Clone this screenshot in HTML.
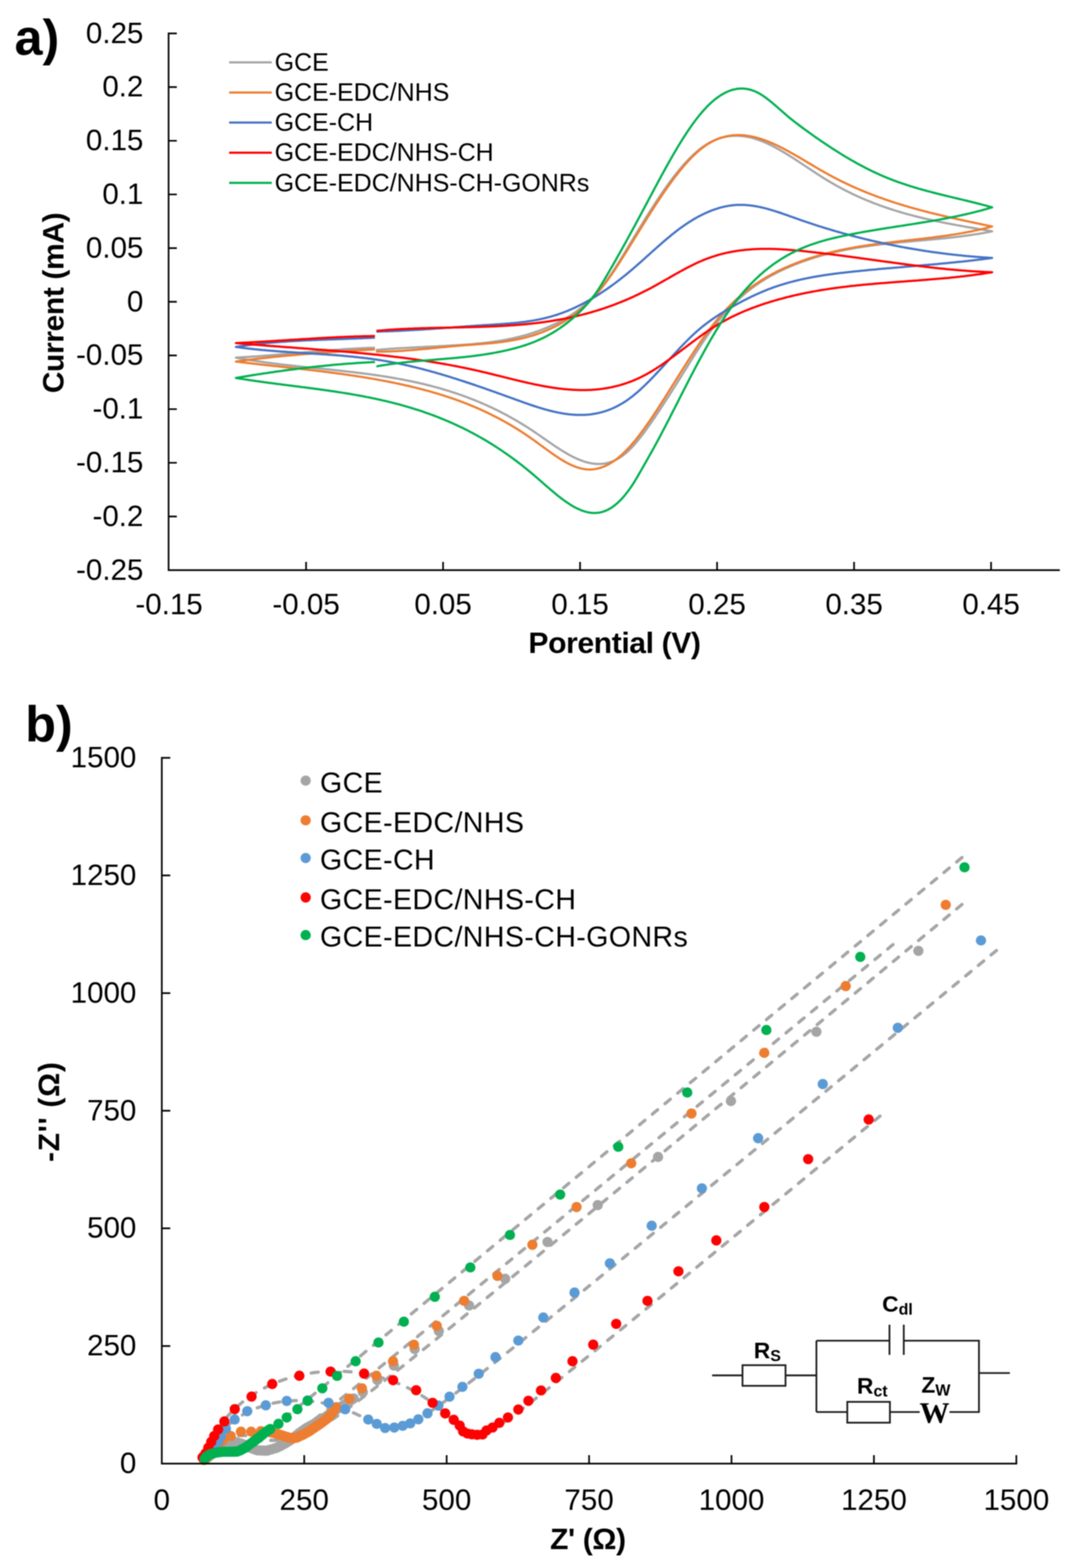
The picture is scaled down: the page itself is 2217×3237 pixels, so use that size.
<!DOCTYPE html><html><head><meta charset="utf-8"><title>Figure</title><style>html,body{margin:0;padding:0;background:#fff;}svg{display:block;filter:blur(1px);}text{font-family:'Liberation Sans', Arial, sans-serif;fill:#000;}</style></head><body>
<svg width="2217" height="3237" viewBox="0 0 2217 3237">
<rect width="2217" height="3237" fill="#fff"/>
<g fill="none" stroke-width="4.5" stroke-linejoin="round" stroke-linecap="butt">
<path stroke="#A5A5A5" d="M776.0 722.5 L779.0 722.2 782.0 722.0 785.0 721.7 788.0 721.5 791.0 721.2 794.0 721.0 797.0 720.8 800.0 720.6 803.0 720.3 806.0 720.1 809.0 719.9 812.0 719.7 815.0 719.5 818.0 719.3 821.0 719.1 824.0 719.0 827.0 718.8 830.0 718.6 833.0 718.4 836.0 718.3 839.0 718.1 842.0 717.9 845.0 717.8 848.0 717.6 851.0 717.5 854.0 717.3 857.0 717.2 860.0 717.0 863.0 716.8 866.0 716.7 869.0 716.6 872.0 716.4 875.0 716.3 878.0 716.1 881.0 716.0 884.0 715.8 887.0 715.7 890.0 715.5 893.0 715.4 896.0 715.2 899.0 715.1 902.0 714.9 905.0 714.8 908.0 714.6 911.0 714.5 914.0 714.3 917.0 714.2 920.0 714.0 923.0 713.8 926.0 713.7 929.0 713.5 932.0 713.3 935.0 713.1 938.0 713.0 941.0 712.8 944.0 712.6 947.0 712.4 950.0 712.2 953.0 712.0 956.0 711.8 959.0 711.6 962.0 711.4 965.0 711.1 968.0 710.9 971.0 710.7 974.0 710.4 977.0 710.2 980.0 709.9 983.0 709.6 986.0 709.3 989.0 709.0 992.0 708.7 995.0 708.4 998.0 708.1 1001.0 707.8 1004.0 707.4 1007.0 707.1 1010.0 706.7 1013.0 706.3 1016.0 705.9 1019.0 705.5 1022.0 705.0 1025.0 704.6 1028.0 704.1 1031.0 703.6 1034.0 703.1 1037.0 702.6 1040.0 702.1 1043.0 701.6 1046.0 701.0 1049.0 700.4 1052.0 699.8 1055.0 699.2 1058.0 698.5 1061.0 697.9 1064.0 697.2 1067.0 696.5 1070.0 695.7 1073.0 695.0 1076.0 694.2 1079.0 693.4 1082.0 692.6 1085.0 691.8 1088.0 690.9 1091.0 690.0 1094.0 689.1 1097.0 688.1 1100.0 687.2 1103.0 686.2 1106.0 685.1 1109.0 684.1 1112.0 683.0 1115.0 681.9 1118.0 680.7 1121.0 679.6 1124.0 678.4 1127.0 677.2 1130.0 675.9 1133.0 674.6 1136.0 673.3 1139.0 671.9 1142.0 670.5 1145.0 669.1 1148.0 667.7 1151.0 666.2 1154.0 664.7 1157.0 663.1 1160.0 661.5 1163.0 659.9 1166.0 658.2 1169.0 656.5 1172.0 654.7 1175.0 652.8 1178.0 651.0 1181.0 649.0 1184.0 647.0 1187.0 644.9 1190.0 642.8 1193.0 640.6 1196.0 638.3 1199.0 636.0 1202.0 633.6 1205.0 631.1 1208.0 628.5 1211.0 625.8 1214.0 623.1 1217.0 620.2 1220.0 617.3 1223.0 614.3 1226.0 611.2 1229.0 608.0 1232.0 604.6 1235.0 601.2 1238.0 597.7 1241.0 594.1 1244.0 590.3 1247.0 586.5 1250.0 582.5 1253.0 578.4 1256.0 574.2 1259.0 569.9 1262.0 565.4 1265.0 560.9 1268.0 556.4 1271.0 551.7 1274.0 547.0 1277.0 542.2 1280.0 537.4 1283.0 532.5 1286.0 527.6 1289.0 522.6 1292.0 517.6 1295.0 512.6 1298.0 507.7 1301.0 502.7 1304.0 497.7 1307.0 492.7 1310.0 487.7 1313.0 482.8 1316.0 477.8 1319.0 472.9 1322.0 468.0 1325.0 463.1 1328.0 458.2 1331.0 453.4 1334.0 448.5 1337.0 443.8 1340.0 439.0 1343.0 434.3 1346.0 429.6 1349.0 424.9 1352.0 420.3 1355.0 415.7 1358.0 411.2 1361.0 406.7 1364.0 402.3 1367.0 397.9 1370.0 393.5 1373.0 389.2 1376.0 385.0 1379.0 380.8 1382.0 376.7 1385.0 372.7 1388.0 368.7 1391.0 364.7 1394.0 360.9 1397.0 357.1 1400.0 353.4 1403.0 349.7 1406.0 346.1 1409.0 342.7 1412.0 339.2 1415.0 335.9 1418.0 332.7 1421.0 329.5 1424.0 326.4 1427.0 323.5 1430.0 320.6 1433.0 317.8 1436.0 315.1 1439.0 312.5 1442.0 310.0 1445.0 307.6 1448.0 305.3 1451.0 303.1 1454.0 301.1 1457.0 299.1 1460.0 297.2 1463.0 295.5 1466.0 293.8 1469.0 292.3 1472.0 290.8 1475.0 289.5 1478.0 288.2 1481.0 287.1 1484.0 286.0 1487.0 285.0 1490.0 284.2 1493.0 283.4 1496.0 282.7 1499.0 282.1 1502.0 281.6 1505.0 281.2 1508.0 280.8 1511.0 280.5 1514.0 280.4 1517.0 280.3 1520.0 280.3 1523.0 280.3 1526.0 280.5 1529.0 280.7 1532.0 280.9 1535.0 281.3 1538.0 281.7 1541.0 282.2 1544.0 282.8 1547.0 283.4 1550.0 284.1 1553.0 284.9 1556.0 285.7 1559.0 286.6 1562.0 287.6 1565.0 288.6 1568.0 289.7 1571.0 290.8 1574.0 292.0 1577.0 293.2 1580.0 294.5 1583.0 295.8 1586.0 297.2 1589.0 298.6 1592.0 300.1 1595.0 301.6 1598.0 303.2 1601.0 304.7 1604.0 306.4 1607.0 308.0 1610.0 309.7 1613.0 311.5 1616.0 313.2 1619.0 315.0 1622.0 316.8 1625.0 318.6 1628.0 320.5 1631.0 322.4 1634.0 324.3 1637.0 326.2 1640.0 328.1 1643.0 330.1 1646.0 332.0 1649.0 334.0 1652.0 336.0 1655.0 338.0 1658.0 340.0 1661.0 342.0 1664.0 344.0 1667.0 346.0 1670.0 347.9 1673.0 349.9 1676.0 351.9 1679.0 353.9 1682.0 355.9 1685.0 357.9 1688.0 359.8 1691.0 361.7 1694.0 363.7 1697.0 365.6 1700.0 367.5 1703.0 369.3 1706.0 371.2 1709.0 373.0 1712.0 374.8 1715.0 376.6 1718.0 378.3 1721.0 380.0 1724.0 381.7 1727.0 383.4 1730.0 385.1 1733.0 386.7 1736.0 388.3 1739.0 389.9 1742.0 391.5 1745.0 393.0 1748.0 394.6 1751.0 396.1 1754.0 397.5 1757.0 399.0 1760.0 400.4 1763.0 401.9 1766.0 403.3 1769.0 404.7 1772.0 406.0 1775.0 407.4 1778.0 408.7 1781.0 410.0 1784.0 411.3 1787.0 412.5 1790.0 413.8 1793.0 415.0 1796.0 416.2 1799.0 417.4 1802.0 418.6 1805.0 419.8 1808.0 420.9 1811.0 422.0 1814.0 423.2 1817.0 424.3 1820.0 425.3 1823.0 426.4 1826.0 427.4 1829.0 428.5 1832.0 429.5 1835.0 430.5 1838.0 431.5 1841.0 432.5 1844.0 433.4 1847.0 434.4 1850.0 435.3 1853.0 436.2 1856.0 437.1 1859.0 438.0 1862.0 438.9 1865.0 439.8 1868.0 440.6 1871.0 441.5 1874.0 442.3 1877.0 443.1 1880.0 443.9 1883.0 444.7 1886.0 445.5 1889.0 446.3 1892.0 447.0 1895.0 447.8 1898.0 448.5 1901.0 449.2 1904.0 450.0 1907.0 450.7 1910.0 451.4 1913.0 452.1 1916.0 452.8 1919.0 453.4 1922.0 454.1 1925.0 454.8 1928.0 455.4 1931.0 456.1 1934.0 456.7 1937.0 457.3 1940.0 457.9 1943.0 458.6 1946.0 459.2 1949.0 459.8 1952.0 460.4 1955.0 461.0 1958.0 461.5 1961.0 462.1 1964.0 462.7 1967.0 463.3 1970.0 463.8 1973.0 464.4 1976.0 464.9 1979.0 465.5 1982.0 466.0 1985.0 466.6 1988.0 467.1 1991.0 467.6 1994.0 468.2 1997.0 468.7 2000.0 469.2 2003.0 469.8 2006.0 470.3 2009.0 470.8 2012.0 471.3 2015.0 471.8 2018.0 472.4 2021.0 472.9 2024.0 473.4 2027.0 473.9 2030.0 474.4 2033.0 474.9 2036.0 475.4 2039.0 476.0 2042.0 476.5 2045.0 477.0 2048.0 477.5 2047.0 477.8 2044.0 478.4 2041.0 479.0 2038.0 479.5 2035.0 480.1 2032.0 480.6 2029.0 481.2 2026.0 481.7 2023.0 482.2 2020.0 482.7 2017.0 483.2 2014.0 483.6 2011.0 484.1 2008.0 484.6 2005.0 485.0 2002.0 485.4 1999.0 485.9 1996.0 486.3 1993.0 486.7 1990.0 487.1 1987.0 487.5 1984.0 487.9 1981.0 488.3 1978.0 488.6 1975.0 489.0 1972.0 489.3 1969.0 489.7 1966.0 490.0 1963.0 490.4 1960.0 490.7 1957.0 491.0 1954.0 491.3 1951.0 491.7 1948.0 492.0 1945.0 492.3 1942.0 492.6 1939.0 492.9 1936.0 493.2 1933.0 493.5 1930.0 493.7 1927.0 494.0 1924.0 494.3 1921.0 494.6 1918.0 494.9 1915.0 495.1 1912.0 495.4 1909.0 495.7 1906.0 496.0 1903.0 496.2 1900.0 496.5 1897.0 496.8 1894.0 497.0 1891.0 497.3 1888.0 497.6 1885.0 497.8 1882.0 498.1 1879.0 498.4 1876.0 498.7 1873.0 498.9 1870.0 499.2 1867.0 499.5 1864.0 499.8 1861.0 500.1 1858.0 500.3 1855.0 500.6 1852.0 500.9 1849.0 501.2 1846.0 501.5 1843.0 501.8 1840.0 502.1 1837.0 502.5 1834.0 502.8 1831.0 503.1 1828.0 503.4 1825.0 503.8 1822.0 504.1 1819.0 504.5 1816.0 504.8 1813.0 505.2 1810.0 505.6 1807.0 505.9 1804.0 506.3 1801.0 506.7 1798.0 507.1 1795.0 507.5 1792.0 507.9 1789.0 508.4 1786.0 508.8 1783.0 509.3 1780.0 509.7 1777.0 510.2 1774.0 510.7 1771.0 511.1 1768.0 511.6 1765.0 512.1 1762.0 512.7 1759.0 513.2 1756.0 513.7 1753.0 514.3 1750.0 514.9 1747.0 515.4 1744.0 516.0 1741.0 516.6 1738.0 517.3 1735.0 517.9 1732.0 518.5 1729.0 519.2 1726.0 519.9 1723.0 520.6 1720.0 521.3 1717.0 522.0 1714.0 522.7 1711.0 523.5 1708.0 524.3 1705.0 525.0 1702.0 525.8 1699.0 526.7 1696.0 527.5 1693.0 528.3 1690.0 529.2 1687.0 530.1 1684.0 531.0 1681.0 531.9 1678.0 532.9 1675.0 533.8 1672.0 534.8 1669.0 535.8 1666.0 536.8 1663.0 537.9 1660.0 538.9 1657.0 540.0 1654.0 541.1 1651.0 542.2 1648.0 543.4 1645.0 544.5 1642.0 545.7 1639.0 546.9 1636.0 548.1 1633.0 549.4 1630.0 550.7 1627.0 552.0 1624.0 553.3 1621.0 554.6 1618.0 556.0 1615.0 557.4 1612.0 558.8 1609.0 560.3 1606.0 561.8 1603.0 563.3 1600.0 564.8 1597.0 566.4 1594.0 568.0 1591.0 569.6 1588.0 571.3 1585.0 573.1 1582.0 574.8 1579.0 576.6 1576.0 578.5 1573.0 580.3 1570.0 582.3 1567.0 584.2 1564.0 586.3 1561.0 588.3 1558.0 590.4 1555.0 592.6 1552.0 594.8 1549.0 597.1 1546.0 599.4 1543.0 601.8 1540.0 604.2 1537.0 606.7 1534.0 609.2 1531.0 611.8 1528.0 614.5 1525.0 617.2 1522.0 620.0 1519.0 622.8 1516.0 625.7 1513.0 628.7 1510.0 631.7 1507.0 634.8 1504.0 638.0 1501.0 641.2 1498.0 644.5 1495.0 647.9 1492.0 651.4 1489.0 654.9 1486.0 658.5 1483.0 662.2 1480.0 666.0 1477.0 669.8 1474.0 673.7 1471.0 677.7 1468.0 681.8 1465.0 686.0 1462.0 690.2 1459.0 694.5 1456.0 698.9 1453.0 703.3 1450.0 707.8 1447.0 712.3 1444.0 716.9 1441.0 721.5 1438.0 726.1 1435.0 730.8 1432.0 735.6 1429.0 740.3 1426.0 745.1 1423.0 749.9 1420.0 754.7 1417.0 759.5 1414.0 764.3 1411.0 769.1 1408.0 773.9 1405.0 778.7 1402.0 783.5 1399.0 788.3 1396.0 793.1 1393.0 797.8 1390.0 802.6 1387.0 807.3 1384.0 812.0 1381.0 816.7 1378.0 821.3 1375.0 826.0 1372.0 830.6 1369.0 835.2 1366.0 839.8 1363.0 844.4 1360.0 848.9 1357.0 853.4 1354.0 857.9 1351.0 862.4 1348.0 866.8 1345.0 871.2 1342.0 875.5 1339.0 879.8 1336.0 884.0 1333.0 888.2 1330.0 892.3 1327.0 896.3 1324.0 900.2 1321.0 904.1 1318.0 907.8 1315.0 911.5 1312.0 915.0 1309.0 918.4 1306.0 921.7 1303.0 924.9 1300.0 927.9 1297.0 930.8 1294.0 933.6 1291.0 936.2 1288.0 938.6 1285.0 940.9 1282.0 943.0 1279.0 945.0 1276.0 946.8 1273.0 948.5 1270.0 950.0 1267.0 951.4 1264.0 952.6 1261.0 953.7 1258.0 954.7 1255.0 955.5 1252.0 956.2 1249.0 956.8 1246.0 957.2 1243.0 957.5 1240.0 957.7 1237.0 957.8 1234.0 957.8 1231.0 957.7 1228.0 957.4 1225.0 957.1 1222.0 956.7 1219.0 956.1 1216.0 955.5 1213.0 954.8 1210.0 954.0 1207.0 953.1 1204.0 952.1 1201.0 951.0 1198.0 949.9 1195.0 948.7 1192.0 947.4 1189.0 946.1 1186.0 944.7 1183.0 943.2 1180.0 941.7 1177.0 940.1 1174.0 938.5 1171.0 936.8 1168.0 935.0 1165.0 933.2 1162.0 931.4 1159.0 929.6 1156.0 927.7 1153.0 925.7 1150.0 923.8 1147.0 921.8 1144.0 919.8 1141.0 917.8 1138.0 915.7 1135.0 913.7 1132.0 911.6 1129.0 909.5 1126.0 907.4 1123.0 905.3 1120.0 903.3 1117.0 901.2 1114.0 899.1 1111.0 897.0 1108.0 895.0 1105.0 892.9 1102.0 890.9 1099.0 888.9 1096.0 886.9 1093.0 885.0 1090.0 883.0 1087.0 881.1 1084.0 879.2 1081.0 877.4 1078.0 875.5 1075.0 873.7 1072.0 871.9 1069.0 870.1 1066.0 868.3 1063.0 866.6 1060.0 864.9 1057.0 863.2 1054.0 861.5 1051.0 859.9 1048.0 858.2 1045.0 856.6 1042.0 855.0 1039.0 853.4 1036.0 851.9 1033.0 850.3 1030.0 848.8 1027.0 847.3 1024.0 845.8 1021.0 844.4 1018.0 842.9 1015.0 841.5 1012.0 840.1 1009.0 838.7 1006.0 837.4 1003.0 836.0 1000.0 834.7 997.0 833.4 994.0 832.1 991.0 830.8 988.0 829.5 985.0 828.3 982.0 827.0 979.0 825.8 976.0 824.6 973.0 823.5 970.0 822.3 967.0 821.1 964.0 820.0 961.0 818.9 958.0 817.8 955.0 816.7 952.0 815.7 949.0 814.6 946.0 813.6 943.0 812.5 940.0 811.5 937.0 810.5 934.0 809.6 931.0 808.6 928.0 807.6 925.0 806.7 922.0 805.8 919.0 804.9 916.0 804.0 913.0 803.1 910.0 802.2 907.0 801.4 904.0 800.5 901.0 799.7 898.0 798.9 895.0 798.1 892.0 797.3 889.0 796.5 886.0 795.7 883.0 795.0 880.0 794.2 877.0 793.5 874.0 792.8 871.0 792.1 868.0 791.4 865.0 790.7 862.0 790.0 859.0 789.3 856.0 788.7 853.0 788.0 850.0 787.4 847.0 786.8 844.0 786.2 841.0 785.5 838.0 785.0 835.0 784.4 832.0 783.8 829.0 783.2 826.0 782.7 823.0 782.1 820.0 781.6 817.0 781.0 814.0 780.5 811.0 780.0 808.0 779.5 805.0 779.0 802.0 778.5 799.0 778.0 796.0 777.5 793.0 777.0 790.0 776.6 787.0 776.1 784.0 775.6 781.0 775.2 778.0 774.8 775.0 774.3 772.0 773.9 769.0 773.5 766.0 773.1 763.0 772.6 760.0 772.2 757.0 771.8 754.0 771.5 751.0 771.1 748.0 770.7 745.0 770.3 742.0 769.9 739.0 769.6 736.0 769.2 733.0 768.8 730.0 768.5 727.0 768.1 724.0 767.8 721.0 767.4 718.0 767.1 715.0 766.7 712.0 766.4 709.0 766.1 706.0 765.7 703.0 765.4 700.0 765.1 697.0 764.7 694.0 764.4 691.0 764.1 688.0 763.8 685.0 763.5 682.0 763.1 679.0 762.8 676.0 762.5 673.0 762.2 670.0 761.9 667.0 761.6 664.0 761.3 661.0 761.0 658.0 760.7 655.0 760.3 652.0 760.0 649.0 759.7 646.0 759.4 643.0 759.1 640.0 758.8 637.0 758.5 634.0 758.2 631.0 757.9 628.0 757.5 625.0 757.2 622.0 756.9 619.0 756.6 616.0 756.3 613.0 755.9 610.0 755.6 607.0 755.3 604.0 755.0 601.0 754.6 598.0 754.3 595.0 753.9 592.0 753.6 589.0 753.2 586.0 752.9 583.0 752.5 580.0 752.2 577.0 751.8 574.0 751.5 571.0 751.1 568.0 750.7 565.0 750.3 562.0 750.0 559.0 749.6 556.0 749.2 553.0 748.8 550.0 748.4 547.0 748.0 544.0 747.5 541.0 747.1 538.0 746.7 535.0 746.3 532.0 745.8 529.0 745.4 526.0 744.9 523.0 744.5 520.0 744.0 517.0 743.5 514.0 743.1 511.0 742.6 508.0 742.1 505.0 741.6 502.0 741.1 499.0 740.6 496.0 740.0 493.0 739.5 490.0 738.9 487.0 738.4 490.0 738.1 493.0 738.0 496.0 737.8 499.0 737.6 502.0 737.5 505.0 737.3 508.0 737.1 511.0 736.9 514.0 736.7 517.0 736.5 520.0 736.3 523.0 736.1 526.0 735.9 529.0 735.7 532.0 735.5 535.0 735.2 538.0 735.0 541.0 734.8 544.0 734.6 547.0 734.3 550.0 734.1 553.0 733.9 556.0 733.6 559.0 733.4 562.0 733.1 565.0 732.9 568.0 732.6 571.0 732.4 574.0 732.1 577.0 731.9 580.0 731.6 583.0 731.4 586.0 731.1 589.0 730.9 592.0 730.6 595.0 730.3 598.0 730.1 601.0 729.8 604.0 729.6 607.0 729.3 610.0 729.0 613.0 728.8 616.0 728.5 619.0 728.2 622.0 728.0 625.0 727.7 628.0 727.5 631.0 727.2 634.0 726.9 637.0 726.7 640.0 726.4 643.0 726.2 646.0 725.9 649.0 725.7 652.0 725.4 655.0 725.2 658.0 724.9 661.0 724.7 664.0 724.4 667.0 724.2 670.0 723.9 673.0 723.7 676.0 723.4 679.0 723.2 682.0 723.0 685.0 722.8 688.0 722.5 691.0 722.3 694.0 722.1 697.0 721.9 700.0 721.7 703.0 721.4 706.0 721.2 709.0 721.0 712.0 720.8 715.0 720.6 718.0 720.5 721.0 720.3 724.0 720.1 727.0 719.9 730.0 719.7 733.0 719.6 736.0 719.4 739.0 719.2 742.0 719.1 745.0 718.9 748.0 718.8 751.0 718.7 754.0 718.5 757.0 718.4 760.0 718.3 763.0 718.2 766.0 718.1 769.0 718.0 772.0 717.9 774.0 717.8"/>
<path stroke="#ED7D31" d="M776.0 726.0 L779.0 726.0 782.0 726.0 785.0 726.0 788.0 725.9 791.0 725.9 794.0 725.8 797.0 725.7 800.0 725.6 803.0 725.5 806.0 725.4 809.0 725.3 812.0 725.2 815.0 725.0 818.0 724.9 821.0 724.7 824.0 724.5 827.0 724.4 830.0 724.2 833.0 724.0 836.0 723.8 839.0 723.5 842.0 723.3 845.0 723.1 848.0 722.9 851.0 722.6 854.0 722.4 857.0 722.1 860.0 721.9 863.0 721.6 866.0 721.3 869.0 721.1 872.0 720.8 875.0 720.5 878.0 720.2 881.0 719.9 884.0 719.7 887.0 719.4 890.0 719.1 893.0 718.8 896.0 718.5 899.0 718.2 902.0 717.9 905.0 717.6 908.0 717.3 911.0 717.0 914.0 716.7 917.0 716.5 920.0 716.2 923.0 715.9 926.0 715.6 929.0 715.3 932.0 715.1 935.0 714.8 938.0 714.5 941.0 714.3 944.0 714.0 947.0 713.7 950.0 713.5 953.0 713.3 956.0 713.0 959.0 712.8 962.0 712.6 965.0 712.3 968.0 712.1 971.0 711.9 974.0 711.7 977.0 711.4 980.0 711.2 983.0 711.0 986.0 710.8 989.0 710.5 992.0 710.3 995.0 710.1 998.0 709.8 1001.0 709.6 1004.0 709.3 1007.0 709.0 1010.0 708.8 1013.0 708.5 1016.0 708.2 1019.0 707.9 1022.0 707.6 1025.0 707.2 1028.0 706.9 1031.0 706.5 1034.0 706.2 1037.0 705.8 1040.0 705.4 1043.0 704.9 1046.0 704.5 1049.0 704.0 1052.0 703.5 1055.0 703.0 1058.0 702.5 1061.0 702.0 1064.0 701.4 1067.0 700.8 1070.0 700.2 1073.0 699.5 1076.0 698.9 1079.0 698.2 1082.0 697.4 1085.0 696.7 1088.0 695.9 1091.0 695.1 1094.0 694.2 1097.0 693.4 1100.0 692.5 1103.0 691.5 1106.0 690.5 1109.0 689.5 1112.0 688.5 1115.0 687.4 1118.0 686.3 1121.0 685.1 1124.0 683.9 1127.0 682.7 1130.0 681.4 1133.0 680.1 1136.0 678.7 1139.0 677.3 1142.0 675.9 1145.0 674.4 1148.0 672.9 1151.0 671.3 1154.0 669.7 1157.0 668.0 1160.0 666.3 1163.0 664.5 1166.0 662.7 1169.0 660.8 1172.0 658.8 1175.0 656.8 1178.0 654.8 1181.0 652.7 1184.0 650.5 1187.0 648.2 1190.0 645.9 1193.0 643.6 1196.0 641.1 1199.0 638.6 1202.0 636.0 1205.0 633.4 1208.0 630.7 1211.0 627.9 1214.0 625.0 1217.0 622.0 1220.0 619.0 1223.0 615.8 1226.0 612.6 1229.0 609.3 1232.0 606.0 1235.0 602.5 1238.0 599.0 1241.0 595.3 1244.0 591.6 1247.0 587.7 1250.0 583.8 1253.0 579.8 1256.0 575.7 1259.0 571.5 1262.0 567.2 1265.0 562.8 1268.0 558.4 1271.0 553.9 1274.0 549.3 1277.0 544.7 1280.0 540.0 1283.0 535.3 1286.0 530.6 1289.0 525.8 1292.0 521.0 1295.0 516.2 1298.0 511.4 1301.0 506.5 1304.0 501.6 1307.0 496.8 1310.0 491.9 1313.0 487.0 1316.0 482.2 1319.0 477.3 1322.0 472.5 1325.0 467.6 1328.0 462.8 1331.0 458.0 1334.0 453.2 1337.0 448.4 1340.0 443.7 1343.0 438.9 1346.0 434.2 1349.0 429.6 1352.0 424.9 1355.0 420.3 1358.0 415.7 1361.0 411.2 1364.0 406.7 1367.0 402.3 1370.0 397.8 1373.0 393.5 1376.0 389.2 1379.0 384.9 1382.0 380.7 1385.0 376.6 1388.0 372.5 1391.0 368.4 1394.0 364.5 1397.0 360.6 1400.0 356.8 1403.0 353.0 1406.0 349.3 1409.0 345.7 1412.0 342.2 1415.0 338.7 1418.0 335.4 1421.0 332.1 1424.0 328.9 1427.0 325.8 1430.0 322.7 1433.0 319.8 1436.0 317.0 1439.0 314.3 1442.0 311.7 1445.0 309.1 1448.0 306.7 1451.0 304.4 1454.0 302.2 1457.0 300.1 1460.0 298.1 1463.0 296.3 1466.0 294.5 1469.0 292.8 1472.0 291.3 1475.0 289.8 1478.0 288.4 1481.0 287.2 1484.0 286.0 1487.0 284.9 1490.0 284.0 1493.0 283.1 1496.0 282.3 1499.0 281.5 1502.0 280.9 1505.0 280.4 1508.0 279.9 1511.0 279.5 1514.0 279.2 1517.0 279.0 1520.0 278.9 1523.0 278.8 1526.0 278.8 1529.0 278.9 1532.0 279.1 1535.0 279.3 1538.0 279.6 1541.0 280.0 1544.0 280.4 1547.0 280.9 1550.0 281.4 1553.0 282.0 1556.0 282.7 1559.0 283.4 1562.0 284.2 1565.0 285.1 1568.0 286.0 1571.0 286.9 1574.0 287.9 1577.0 288.9 1580.0 290.0 1583.0 291.2 1586.0 292.3 1589.0 293.6 1592.0 294.8 1595.0 296.1 1598.0 297.5 1601.0 298.9 1604.0 300.3 1607.0 301.7 1610.0 303.2 1613.0 304.7 1616.0 306.2 1619.0 307.8 1622.0 309.4 1625.0 311.0 1628.0 312.6 1631.0 314.3 1634.0 315.9 1637.0 317.6 1640.0 319.3 1643.0 321.1 1646.0 322.8 1649.0 324.5 1652.0 326.3 1655.0 328.1 1658.0 329.8 1661.0 331.6 1664.0 333.4 1667.0 335.2 1670.0 337.0 1673.0 338.8 1676.0 340.5 1679.0 342.3 1682.0 344.1 1685.0 345.9 1688.0 347.6 1691.0 349.4 1694.0 351.1 1697.0 352.8 1700.0 354.5 1703.0 356.2 1706.0 357.9 1709.0 359.6 1712.0 361.2 1715.0 362.8 1718.0 364.5 1721.0 366.0 1724.0 367.6 1727.0 369.2 1730.0 370.7 1733.0 372.2 1736.0 373.7 1739.0 375.2 1742.0 376.6 1745.0 378.1 1748.0 379.5 1751.0 380.9 1754.0 382.3 1757.0 383.7 1760.0 385.1 1763.0 386.4 1766.0 387.7 1769.0 389.0 1772.0 390.3 1775.0 391.6 1778.0 392.9 1781.0 394.2 1784.0 395.4 1787.0 396.6 1790.0 397.8 1793.0 399.0 1796.0 400.2 1799.0 401.4 1802.0 402.5 1805.0 403.7 1808.0 404.8 1811.0 405.9 1814.0 407.0 1817.0 408.1 1820.0 409.2 1823.0 410.2 1826.0 411.3 1829.0 412.3 1832.0 413.4 1835.0 414.4 1838.0 415.4 1841.0 416.4 1844.0 417.4 1847.0 418.3 1850.0 419.3 1853.0 420.2 1856.0 421.2 1859.0 422.1 1862.0 423.0 1865.0 423.9 1868.0 424.8 1871.0 425.7 1874.0 426.6 1877.0 427.5 1880.0 428.3 1883.0 429.2 1886.0 430.0 1889.0 430.9 1892.0 431.7 1895.0 432.5 1898.0 433.3 1901.0 434.1 1904.0 434.9 1907.0 435.7 1910.0 436.5 1913.0 437.3 1916.0 438.0 1919.0 438.8 1922.0 439.6 1925.0 440.3 1928.0 441.0 1931.0 441.8 1934.0 442.5 1937.0 443.2 1940.0 443.9 1943.0 444.7 1946.0 445.4 1949.0 446.1 1952.0 446.8 1955.0 447.5 1958.0 448.1 1961.0 448.8 1964.0 449.5 1967.0 450.2 1970.0 450.9 1973.0 451.5 1976.0 452.2 1979.0 452.9 1982.0 453.5 1985.0 454.2 1988.0 454.8 1991.0 455.5 1994.0 456.1 1997.0 456.8 2000.0 457.4 2003.0 458.1 2006.0 458.7 2009.0 459.3 2012.0 460.0 2015.0 460.6 2018.0 461.2 2021.0 461.9 2024.0 462.5 2027.0 463.2 2030.0 463.8 2033.0 464.4 2036.0 465.1 2039.0 465.7 2042.0 466.3 2045.0 467.0 2048.0 467.6 2047.0 467.9 2044.0 468.7 2041.0 469.4 2038.0 470.2 2035.0 470.9 2032.0 471.7 2029.0 472.4 2026.0 473.1 2023.0 473.8 2020.0 474.5 2017.0 475.1 2014.0 475.8 2011.0 476.4 2008.0 477.0 2005.0 477.7 2002.0 478.2 1999.0 478.8 1996.0 479.4 1993.0 480.0 1990.0 480.5 1987.0 481.1 1984.0 481.6 1981.0 482.1 1978.0 482.6 1975.0 483.1 1972.0 483.6 1969.0 484.1 1966.0 484.6 1963.0 485.0 1960.0 485.5 1957.0 485.9 1954.0 486.4 1951.0 486.8 1948.0 487.2 1945.0 487.6 1942.0 488.0 1939.0 488.4 1936.0 488.8 1933.0 489.2 1930.0 489.6 1927.0 490.0 1924.0 490.4 1921.0 490.7 1918.0 491.1 1915.0 491.5 1912.0 491.8 1909.0 492.2 1906.0 492.5 1903.0 492.9 1900.0 493.2 1897.0 493.6 1894.0 493.9 1891.0 494.3 1888.0 494.6 1885.0 494.9 1882.0 495.3 1879.0 495.6 1876.0 495.9 1873.0 496.3 1870.0 496.6 1867.0 496.9 1864.0 497.3 1861.0 497.6 1858.0 497.9 1855.0 498.3 1852.0 498.6 1849.0 499.0 1846.0 499.3 1843.0 499.7 1840.0 500.0 1837.0 500.4 1834.0 500.7 1831.0 501.1 1828.0 501.4 1825.0 501.8 1822.0 502.2 1819.0 502.6 1816.0 502.9 1813.0 503.3 1810.0 503.7 1807.0 504.1 1804.0 504.5 1801.0 505.0 1798.0 505.4 1795.0 505.8 1792.0 506.2 1789.0 506.7 1786.0 507.1 1783.0 507.6 1780.0 508.1 1777.0 508.5 1774.0 509.0 1771.0 509.5 1768.0 510.0 1765.0 510.5 1762.0 511.1 1759.0 511.6 1756.0 512.2 1753.0 512.7 1750.0 513.3 1747.0 513.9 1744.0 514.5 1741.0 515.1 1738.0 515.7 1735.0 516.3 1732.0 517.0 1729.0 517.6 1726.0 518.3 1723.0 519.0 1720.0 519.7 1717.0 520.4 1714.0 521.1 1711.0 521.9 1708.0 522.6 1705.0 523.4 1702.0 524.2 1699.0 525.0 1696.0 525.8 1693.0 526.7 1690.0 527.5 1687.0 528.4 1684.0 529.3 1681.0 530.2 1678.0 531.1 1675.0 532.1 1672.0 533.0 1669.0 534.0 1666.0 535.0 1663.0 536.0 1660.0 537.1 1657.0 538.2 1654.0 539.2 1651.0 540.3 1648.0 541.5 1645.0 542.6 1642.0 543.8 1639.0 545.0 1636.0 546.2 1633.0 547.4 1630.0 548.7 1627.0 550.0 1624.0 551.3 1621.0 552.6 1618.0 554.0 1615.0 555.3 1612.0 556.7 1609.0 558.2 1606.0 559.6 1603.0 561.1 1600.0 562.7 1597.0 564.2 1594.0 565.8 1591.0 567.4 1588.0 569.1 1585.0 570.8 1582.0 572.5 1579.0 574.3 1576.0 576.1 1573.0 578.0 1570.0 579.8 1567.0 581.8 1564.0 583.8 1561.0 585.8 1558.0 587.8 1555.0 590.0 1552.0 592.1 1549.0 594.3 1546.0 596.6 1543.0 598.9 1540.0 601.2 1537.0 603.6 1534.0 606.1 1531.0 608.6 1528.0 611.2 1525.0 613.8 1522.0 616.5 1519.0 619.2 1516.0 622.0 1513.0 624.9 1510.0 627.8 1507.0 630.8 1504.0 633.8 1501.0 636.9 1498.0 640.1 1495.0 643.3 1492.0 646.6 1489.0 650.0 1486.0 653.5 1483.0 657.0 1480.0 660.6 1477.0 664.2 1474.0 667.9 1471.0 671.7 1468.0 675.6 1465.0 679.6 1462.0 683.6 1459.0 687.7 1456.0 691.8 1453.0 696.0 1450.0 700.2 1447.0 704.6 1444.0 708.9 1441.0 713.3 1438.0 717.8 1435.0 722.3 1432.0 726.8 1429.0 731.4 1426.0 736.0 1423.0 740.6 1420.0 745.3 1417.0 750.0 1414.0 754.7 1411.0 759.4 1408.0 764.2 1405.0 769.0 1402.0 773.7 1399.0 778.5 1396.0 783.3 1393.0 788.1 1390.0 792.9 1387.0 797.7 1384.0 802.5 1381.0 807.3 1378.0 812.1 1375.0 816.8 1372.0 821.6 1369.0 826.3 1366.0 831.0 1363.0 835.6 1360.0 840.3 1357.0 844.9 1354.0 849.5 1351.0 854.0 1348.0 858.5 1345.0 863.0 1342.0 867.4 1339.0 871.8 1336.0 876.1 1333.0 880.3 1330.0 884.5 1327.0 888.6 1324.0 892.7 1321.0 896.7 1318.0 900.6 1315.0 904.4 1312.0 908.1 1309.0 911.8 1306.0 915.3 1303.0 918.8 1300.0 922.2 1297.0 925.4 1294.0 928.6 1291.0 931.6 1288.0 934.6 1285.0 937.4 1282.0 940.1 1279.0 942.7 1276.0 945.2 1273.0 947.5 1270.0 949.8 1267.0 951.9 1264.0 953.9 1261.0 955.8 1258.0 957.5 1255.0 959.2 1252.0 960.7 1249.0 962.1 1246.0 963.4 1243.0 964.5 1240.0 965.5 1237.0 966.5 1234.0 967.2 1231.0 967.9 1228.0 968.4 1225.0 968.8 1222.0 969.1 1219.0 969.2 1216.0 969.2 1213.0 969.1 1210.0 968.9 1207.0 968.5 1204.0 968.0 1201.0 967.4 1198.0 966.7 1195.0 965.9 1192.0 965.0 1189.0 963.9 1186.0 962.8 1183.0 961.6 1180.0 960.3 1177.0 958.9 1174.0 957.4 1171.0 955.9 1168.0 954.2 1165.0 952.5 1162.0 950.8 1159.0 949.0 1156.0 947.1 1153.0 945.2 1150.0 943.2 1147.0 941.2 1144.0 939.2 1141.0 937.1 1138.0 935.0 1135.0 932.8 1132.0 930.7 1129.0 928.5 1126.0 926.3 1123.0 924.1 1120.0 921.9 1117.0 919.7 1114.0 917.5 1111.0 915.3 1108.0 913.1 1105.0 910.9 1102.0 908.7 1099.0 906.6 1096.0 904.5 1093.0 902.4 1090.0 900.4 1087.0 898.3 1084.0 896.3 1081.0 894.3 1078.0 892.4 1075.0 890.4 1072.0 888.5 1069.0 886.6 1066.0 884.7 1063.0 882.9 1060.0 881.1 1057.0 879.3 1054.0 877.5 1051.0 875.7 1048.0 874.0 1045.0 872.3 1042.0 870.6 1039.0 868.9 1036.0 867.3 1033.0 865.7 1030.0 864.1 1027.0 862.5 1024.0 860.9 1021.0 859.4 1018.0 857.9 1015.0 856.4 1012.0 854.9 1009.0 853.4 1006.0 852.0 1003.0 850.5 1000.0 849.1 997.0 847.8 994.0 846.4 991.0 845.0 988.0 843.7 985.0 842.4 982.0 841.1 979.0 839.8 976.0 838.6 973.0 837.3 970.0 836.1 967.0 834.9 964.0 833.7 961.0 832.5 958.0 831.3 955.0 830.2 952.0 829.1 949.0 827.9 946.0 826.8 943.0 825.8 940.0 824.7 937.0 823.6 934.0 822.6 931.0 821.6 928.0 820.6 925.0 819.6 922.0 818.6 919.0 817.6 916.0 816.6 913.0 815.7 910.0 814.8 907.0 813.8 904.0 812.9 901.0 812.0 898.0 811.2 895.0 810.3 892.0 809.4 889.0 808.6 886.0 807.7 883.0 806.9 880.0 806.1 877.0 805.3 874.0 804.5 871.0 803.7 868.0 802.9 865.0 802.2 862.0 801.4 859.0 800.6 856.0 799.9 853.0 799.2 850.0 798.5 847.0 797.7 844.0 797.0 841.0 796.3 838.0 795.7 835.0 795.0 832.0 794.3 829.0 793.6 826.0 793.0 823.0 792.3 820.0 791.7 817.0 791.1 814.0 790.4 811.0 789.8 808.0 789.2 805.0 788.6 802.0 788.0 799.0 787.4 796.0 786.8 793.0 786.3 790.0 785.7 787.0 785.1 784.0 784.6 781.0 784.0 778.0 783.5 775.0 782.9 772.0 782.4 769.0 781.9 766.0 781.4 763.0 780.9 760.0 780.4 757.0 779.9 754.0 779.4 751.0 778.9 748.0 778.4 745.0 777.9 742.0 777.4 739.0 777.0 736.0 776.5 733.0 776.0 730.0 775.6 727.0 775.1 724.0 774.7 721.0 774.2 718.0 773.8 715.0 773.4 712.0 772.9 709.0 772.5 706.0 772.1 703.0 771.7 700.0 771.3 697.0 770.9 694.0 770.5 691.0 770.1 688.0 769.7 685.0 769.3 682.0 768.9 679.0 768.5 676.0 768.1 673.0 767.7 670.0 767.4 667.0 767.0 664.0 766.6 661.0 766.3 658.0 765.9 655.0 765.5 652.0 765.2 649.0 764.8 646.0 764.5 643.0 764.1 640.0 763.7 637.0 763.4 634.0 763.0 631.0 762.7 628.0 762.4 625.0 762.0 622.0 761.7 619.0 761.3 616.0 761.0 613.0 760.7 610.0 760.3 607.0 760.0 604.0 759.7 601.0 759.3 598.0 759.0 595.0 758.7 592.0 758.3 589.0 758.0 586.0 757.7 583.0 757.3 580.0 757.0 577.0 756.7 574.0 756.3 571.0 756.0 568.0 755.7 565.0 755.4 562.0 755.0 559.0 754.7 556.0 754.4 553.0 754.0 550.0 753.7 547.0 753.4 544.0 753.0 541.0 752.7 538.0 752.4 535.0 752.0 532.0 751.7 529.0 751.3 526.0 751.0 523.0 750.7 520.0 750.3 517.0 750.0 514.0 749.6 511.0 749.3 508.0 748.9 505.0 748.6 502.0 748.2 499.0 747.9 496.0 747.5 493.0 747.1 490.0 746.8 487.0 746.4 490.0 746.0 493.0 745.6 496.0 745.2 499.0 744.8 502.0 744.4 505.0 744.0 508.0 743.6 511.0 743.2 514.0 742.8 517.0 742.4 520.0 742.1 523.0 741.7 526.0 741.3 529.0 741.0 532.0 740.6 535.0 740.3 538.0 739.9 541.0 739.6 544.0 739.2 547.0 738.9 550.0 738.6 553.0 738.2 556.0 737.9 559.0 737.6 562.0 737.3 565.0 737.0 568.0 736.6 571.0 736.3 574.0 736.0 577.0 735.7 580.0 735.4 583.0 735.1 586.0 734.9 589.0 734.6 592.0 734.3 595.0 734.0 598.0 733.7 601.0 733.5 604.0 733.2 607.0 732.9 610.0 732.7 613.0 732.4 616.0 732.1 619.0 731.9 622.0 731.6 625.0 731.4 628.0 731.1 631.0 730.9 634.0 730.6 637.0 730.4 640.0 730.2 643.0 729.9 646.0 729.7 649.0 729.5 652.0 729.2 655.0 729.0 658.0 728.8 661.0 728.6 664.0 728.3 667.0 728.1 670.0 727.9 673.0 727.7 676.0 727.5 679.0 727.3 682.0 727.1 685.0 726.8 688.0 726.6 691.0 726.4 694.0 726.2 697.0 726.0 700.0 725.8 703.0 725.6 706.0 725.4 709.0 725.2 712.0 725.1 715.0 724.9 718.0 724.7 721.0 724.5 724.0 724.3 727.0 724.1 730.0 723.9 733.0 723.7 736.0 723.6 739.0 723.4 742.0 723.2 745.0 723.0 748.0 722.8 751.0 722.7 754.0 722.5 757.0 722.3 760.0 722.1 763.0 721.9 766.0 721.8 769.0 721.6 772.0 721.4 774.0 721.3"/>
<path stroke="#4472C4" d="M777.0 684.5 L780.0 684.4 783.0 684.4 786.0 684.3 789.0 684.2 792.0 684.1 795.0 684.1 798.0 684.0 801.0 683.9 804.0 683.8 807.0 683.7 810.0 683.5 813.0 683.4 816.0 683.3 819.0 683.2 822.0 683.0 825.0 682.9 828.0 682.8 831.0 682.6 834.0 682.5 837.0 682.3 840.0 682.1 843.0 682.0 846.0 681.8 849.0 681.6 852.0 681.5 855.0 681.3 858.0 681.1 861.0 680.9 864.0 680.7 867.0 680.6 870.0 680.4 873.0 680.2 876.0 680.0 879.0 679.8 882.0 679.6 885.0 679.4 888.0 679.2 891.0 679.0 894.0 678.8 897.0 678.6 900.0 678.3 903.0 678.1 906.0 677.9 909.0 677.7 912.0 677.5 915.0 677.3 918.0 677.1 921.0 676.8 924.0 676.6 927.0 676.4 930.0 676.2 933.0 676.0 936.0 675.7 939.0 675.5 942.0 675.3 945.0 675.1 948.0 674.9 951.0 674.6 954.0 674.4 957.0 674.2 960.0 674.0 963.0 673.8 966.0 673.6 969.0 673.4 972.0 673.1 975.0 672.9 978.0 672.7 981.0 672.5 984.0 672.3 987.0 672.1 990.0 671.9 993.0 671.7 996.0 671.5 999.0 671.3 1002.0 671.1 1005.0 670.9 1008.0 670.7 1011.0 670.6 1014.0 670.4 1017.0 670.2 1020.0 670.0 1023.0 669.8 1026.0 669.6 1029.0 669.4 1032.0 669.2 1035.0 669.0 1038.0 668.8 1041.0 668.6 1044.0 668.3 1047.0 668.1 1050.0 667.9 1053.0 667.6 1056.0 667.3 1059.0 667.1 1062.0 666.8 1065.0 666.5 1068.0 666.2 1071.0 665.8 1074.0 665.5 1077.0 665.1 1080.0 664.8 1083.0 664.4 1086.0 664.0 1089.0 663.5 1092.0 663.1 1095.0 662.6 1098.0 662.1 1101.0 661.6 1104.0 661.1 1107.0 660.5 1110.0 660.0 1113.0 659.4 1116.0 658.7 1119.0 658.1 1122.0 657.4 1125.0 656.7 1128.0 656.0 1131.0 655.2 1134.0 654.4 1137.0 653.6 1140.0 652.7 1143.0 651.8 1146.0 650.9 1149.0 650.0 1152.0 649.0 1155.0 647.9 1158.0 646.9 1161.0 645.8 1164.0 644.7 1167.0 643.5 1170.0 642.3 1173.0 641.1 1176.0 639.8 1179.0 638.5 1182.0 637.2 1185.0 635.9 1188.0 634.5 1191.0 633.0 1194.0 631.6 1197.0 630.1 1200.0 628.6 1203.0 627.0 1206.0 625.4 1209.0 623.8 1212.0 622.1 1215.0 620.5 1218.0 618.7 1221.0 617.0 1224.0 615.2 1227.0 613.4 1230.0 611.6 1233.0 609.7 1236.0 607.8 1239.0 605.9 1242.0 603.9 1245.0 601.9 1248.0 599.9 1251.0 597.9 1254.0 595.8 1257.0 593.7 1260.0 591.6 1263.0 589.4 1266.0 587.2 1269.0 585.0 1272.0 582.7 1275.0 580.5 1278.0 578.2 1281.0 575.8 1284.0 573.5 1287.0 571.1 1290.0 568.7 1293.0 566.2 1296.0 563.7 1299.0 561.2 1302.0 558.7 1305.0 556.2 1308.0 553.6 1311.0 551.0 1314.0 548.4 1317.0 545.8 1320.0 543.1 1323.0 540.5 1326.0 537.8 1329.0 535.1 1332.0 532.4 1335.0 529.7 1338.0 527.0 1341.0 524.3 1344.0 521.6 1347.0 518.9 1350.0 516.3 1353.0 513.6 1356.0 510.9 1359.0 508.3 1362.0 505.6 1365.0 503.0 1368.0 500.4 1371.0 497.8 1374.0 495.2 1377.0 492.7 1380.0 490.2 1383.0 487.7 1386.0 485.2 1389.0 482.8 1392.0 480.4 1395.0 478.1 1398.0 475.8 1401.0 473.5 1404.0 471.3 1407.0 469.1 1410.0 467.0 1413.0 464.9 1416.0 462.8 1419.0 460.8 1422.0 458.9 1425.0 457.0 1428.0 455.1 1431.0 453.3 1434.0 451.5 1437.0 449.8 1440.0 448.1 1443.0 446.5 1446.0 444.9 1449.0 443.4 1452.0 442.0 1455.0 440.5 1458.0 439.2 1461.0 437.9 1464.0 436.6 1467.0 435.4 1470.0 434.2 1473.0 433.1 1476.0 432.1 1479.0 431.1 1482.0 430.1 1485.0 429.2 1488.0 428.4 1491.0 427.6 1494.0 426.9 1497.0 426.3 1500.0 425.6 1503.0 425.1 1506.0 424.6 1509.0 424.2 1512.0 423.8 1515.0 423.5 1518.0 423.3 1521.0 423.1 1524.0 422.9 1527.0 422.9 1530.0 422.9 1533.0 422.9 1536.0 423.0 1539.0 423.2 1542.0 423.4 1545.0 423.7 1548.0 424.0 1551.0 424.4 1554.0 424.8 1557.0 425.2 1560.0 425.8 1563.0 426.3 1566.0 426.9 1569.0 427.5 1572.0 428.2 1575.0 428.9 1578.0 429.6 1581.0 430.4 1584.0 431.2 1587.0 432.0 1590.0 432.9 1593.0 433.8 1596.0 434.7 1599.0 435.6 1602.0 436.6 1605.0 437.5 1608.0 438.5 1611.0 439.5 1614.0 440.5 1617.0 441.6 1620.0 442.6 1623.0 443.6 1626.0 444.7 1629.0 445.8 1632.0 446.8 1635.0 447.9 1638.0 449.0 1641.0 450.0 1644.0 451.1 1647.0 452.2 1650.0 453.2 1653.0 454.3 1656.0 455.3 1659.0 456.4 1662.0 457.4 1665.0 458.4 1668.0 459.4 1671.0 460.4 1674.0 461.4 1677.0 462.4 1680.0 463.4 1683.0 464.4 1686.0 465.3 1689.0 466.3 1692.0 467.3 1695.0 468.2 1698.0 469.1 1701.0 470.1 1704.0 471.0 1707.0 471.9 1710.0 472.8 1713.0 473.7 1716.0 474.6 1719.0 475.5 1722.0 476.4 1725.0 477.3 1728.0 478.2 1731.0 479.0 1734.0 479.9 1737.0 480.7 1740.0 481.6 1743.0 482.4 1746.0 483.2 1749.0 484.0 1752.0 484.8 1755.0 485.7 1758.0 486.5 1761.0 487.2 1764.0 488.0 1767.0 488.8 1770.0 489.6 1773.0 490.3 1776.0 491.1 1779.0 491.8 1782.0 492.6 1785.0 493.3 1788.0 494.1 1791.0 494.8 1794.0 495.5 1797.0 496.2 1800.0 496.9 1803.0 497.6 1806.0 498.3 1809.0 499.0 1812.0 499.6 1815.0 500.3 1818.0 501.0 1821.0 501.6 1824.0 502.3 1827.0 502.9 1830.0 503.5 1833.0 504.2 1836.0 504.8 1839.0 505.4 1842.0 506.0 1845.0 506.6 1848.0 507.2 1851.0 507.8 1854.0 508.4 1857.0 509.0 1860.0 509.5 1863.0 510.1 1866.0 510.6 1869.0 511.2 1872.0 511.7 1875.0 512.3 1878.0 512.8 1881.0 513.3 1884.0 513.8 1887.0 514.3 1890.0 514.8 1893.0 515.3 1896.0 515.8 1899.0 516.3 1902.0 516.8 1905.0 517.3 1908.0 517.7 1911.0 518.2 1914.0 518.6 1917.0 519.1 1920.0 519.5 1923.0 520.0 1926.0 520.4 1929.0 520.8 1932.0 521.2 1935.0 521.6 1938.0 522.0 1941.0 522.4 1944.0 522.8 1947.0 523.2 1950.0 523.6 1953.0 523.9 1956.0 524.3 1959.0 524.7 1962.0 525.0 1965.0 525.3 1968.0 525.7 1971.0 526.0 1974.0 526.3 1977.0 526.7 1980.0 527.0 1983.0 527.3 1986.0 527.6 1989.0 527.9 1992.0 528.2 1995.0 528.5 1998.0 528.7 2001.0 529.0 2004.0 529.3 2007.0 529.5 2010.0 529.8 2013.0 530.0 2016.0 530.3 2019.0 530.5 2022.0 530.8 2025.0 531.0 2028.0 531.2 2031.0 531.4 2034.0 531.6 2037.0 531.8 2040.0 532.0 2043.0 532.2 2046.0 532.4 2048.0 532.5 2047.0 532.6 2044.0 533.0 2041.0 533.4 2038.0 533.8 2035.0 534.2 2032.0 534.6 2029.0 535.0 2026.0 535.4 2023.0 535.7 2020.0 536.1 2017.0 536.5 2014.0 536.8 2011.0 537.2 2008.0 537.5 2005.0 537.9 2002.0 538.2 1999.0 538.5 1996.0 538.9 1993.0 539.2 1990.0 539.5 1987.0 539.9 1984.0 540.2 1981.0 540.5 1978.0 540.8 1975.0 541.1 1972.0 541.4 1969.0 541.7 1966.0 542.0 1963.0 542.3 1960.0 542.6 1957.0 542.9 1954.0 543.2 1951.0 543.5 1948.0 543.8 1945.0 544.1 1942.0 544.3 1939.0 544.6 1936.0 544.9 1933.0 545.2 1930.0 545.4 1927.0 545.7 1924.0 546.0 1921.0 546.2 1918.0 546.5 1915.0 546.8 1912.0 547.0 1909.0 547.3 1906.0 547.6 1903.0 547.8 1900.0 548.1 1897.0 548.3 1894.0 548.6 1891.0 548.9 1888.0 549.1 1885.0 549.4 1882.0 549.6 1879.0 549.9 1876.0 550.1 1873.0 550.4 1870.0 550.6 1867.0 550.9 1864.0 551.2 1861.0 551.4 1858.0 551.7 1855.0 551.9 1852.0 552.2 1849.0 552.4 1846.0 552.7 1843.0 553.0 1840.0 553.2 1837.0 553.5 1834.0 553.7 1831.0 554.0 1828.0 554.3 1825.0 554.5 1822.0 554.8 1819.0 555.1 1816.0 555.3 1813.0 555.6 1810.0 555.9 1807.0 556.2 1804.0 556.4 1801.0 556.7 1798.0 557.0 1795.0 557.3 1792.0 557.6 1789.0 557.9 1786.0 558.2 1783.0 558.5 1780.0 558.7 1777.0 559.0 1774.0 559.4 1771.0 559.7 1768.0 560.0 1765.0 560.3 1762.0 560.6 1759.0 560.9 1756.0 561.2 1753.0 561.6 1750.0 561.9 1747.0 562.2 1744.0 562.6 1741.0 562.9 1738.0 563.3 1735.0 563.6 1732.0 564.0 1729.0 564.3 1726.0 564.7 1723.0 565.1 1720.0 565.5 1717.0 565.9 1714.0 566.3 1711.0 566.7 1708.0 567.2 1705.0 567.6 1702.0 568.0 1699.0 568.5 1696.0 569.0 1693.0 569.5 1690.0 569.9 1687.0 570.5 1684.0 571.0 1681.0 571.5 1678.0 572.0 1675.0 572.6 1672.0 573.2 1669.0 573.8 1666.0 574.4 1663.0 575.0 1660.0 575.6 1657.0 576.3 1654.0 576.9 1651.0 577.6 1648.0 578.3 1645.0 579.0 1642.0 579.8 1639.0 580.5 1636.0 581.3 1633.0 582.1 1630.0 582.9 1627.0 583.7 1624.0 584.6 1621.0 585.5 1618.0 586.4 1615.0 587.3 1612.0 588.2 1609.0 589.2 1606.0 590.1 1603.0 591.2 1600.0 592.2 1597.0 593.2 1594.0 594.3 1591.0 595.4 1588.0 596.5 1585.0 597.7 1582.0 598.9 1579.0 600.1 1576.0 601.3 1573.0 602.6 1570.0 603.8 1567.0 605.2 1564.0 606.5 1561.0 607.8 1558.0 609.2 1555.0 610.6 1552.0 612.0 1549.0 613.5 1546.0 615.0 1543.0 616.4 1540.0 618.0 1537.0 619.5 1534.0 621.1 1531.0 622.6 1528.0 624.2 1525.0 625.8 1522.0 627.5 1519.0 629.1 1516.0 630.8 1513.0 632.5 1510.0 634.2 1507.0 635.9 1504.0 637.7 1501.0 639.5 1498.0 641.2 1495.0 643.1 1492.0 644.9 1489.0 646.8 1486.0 648.6 1483.0 650.6 1480.0 652.5 1477.0 654.5 1474.0 656.5 1471.0 658.6 1468.0 660.7 1465.0 662.9 1462.0 665.1 1459.0 667.3 1456.0 669.6 1453.0 671.9 1450.0 674.3 1447.0 676.8 1444.0 679.3 1441.0 681.9 1438.0 684.5 1435.0 687.2 1432.0 689.9 1429.0 692.7 1426.0 695.6 1423.0 698.5 1420.0 701.5 1417.0 704.5 1414.0 707.5 1411.0 710.6 1408.0 713.7 1405.0 716.8 1402.0 720.0 1399.0 723.2 1396.0 726.5 1393.0 729.7 1390.0 733.0 1387.0 736.2 1384.0 739.5 1381.0 742.8 1378.0 746.1 1375.0 749.4 1372.0 752.7 1369.0 755.9 1366.0 759.2 1363.0 762.5 1360.0 765.7 1357.0 768.9 1354.0 772.1 1351.0 775.3 1348.0 778.5 1345.0 781.6 1342.0 784.6 1339.0 787.7 1336.0 790.7 1333.0 793.6 1330.0 796.5 1327.0 799.4 1324.0 802.2 1321.0 805.0 1318.0 807.6 1315.0 810.3 1312.0 812.8 1309.0 815.3 1306.0 817.7 1303.0 820.0 1300.0 822.3 1297.0 824.5 1294.0 826.6 1291.0 828.6 1288.0 830.5 1285.0 832.4 1282.0 834.1 1279.0 835.8 1276.0 837.5 1273.0 839.0 1270.0 840.5 1267.0 841.9 1264.0 843.2 1261.0 844.5 1258.0 845.7 1255.0 846.8 1252.0 847.9 1249.0 848.8 1246.0 849.8 1243.0 850.6 1240.0 851.4 1237.0 852.2 1234.0 852.9 1231.0 853.5 1228.0 854.0 1225.0 854.5 1222.0 855.0 1219.0 855.4 1216.0 855.7 1213.0 856.0 1210.0 856.2 1207.0 856.4 1204.0 856.5 1201.0 856.6 1198.0 856.6 1195.0 856.6 1192.0 856.5 1189.0 856.4 1186.0 856.2 1183.0 856.0 1180.0 855.8 1177.0 855.5 1174.0 855.2 1171.0 854.8 1168.0 854.4 1165.0 854.0 1162.0 853.5 1159.0 853.0 1156.0 852.4 1153.0 851.9 1150.0 851.3 1147.0 850.6 1144.0 849.9 1141.0 849.2 1138.0 848.5 1135.0 847.8 1132.0 847.0 1129.0 846.2 1126.0 845.3 1123.0 844.5 1120.0 843.6 1117.0 842.7 1114.0 841.8 1111.0 840.9 1108.0 839.9 1105.0 839.0 1102.0 838.0 1099.0 837.0 1096.0 836.0 1093.0 835.0 1090.0 833.9 1087.0 832.9 1084.0 831.8 1081.0 830.8 1078.0 829.7 1075.0 828.6 1072.0 827.5 1069.0 826.5 1066.0 825.4 1063.0 824.3 1060.0 823.2 1057.0 822.1 1054.0 821.0 1051.0 819.9 1048.0 818.8 1045.0 817.8 1042.0 816.7 1039.0 815.6 1036.0 814.5 1033.0 813.4 1030.0 812.4 1027.0 811.3 1024.0 810.2 1021.0 809.1 1018.0 808.1 1015.0 807.0 1012.0 806.0 1009.0 804.9 1006.0 803.8 1003.0 802.8 1000.0 801.7 997.0 800.7 994.0 799.7 991.0 798.6 988.0 797.6 985.0 796.6 982.0 795.5 979.0 794.5 976.0 793.5 973.0 792.5 970.0 791.5 967.0 790.5 964.0 789.5 961.0 788.5 958.0 787.5 955.0 786.5 952.0 785.6 949.0 784.6 946.0 783.6 943.0 782.7 940.0 781.7 937.0 780.8 934.0 779.8 931.0 778.9 928.0 777.9 925.0 777.0 922.0 776.1 919.0 775.2 916.0 774.3 913.0 773.4 910.0 772.5 907.0 771.6 904.0 770.8 901.0 769.9 898.0 769.0 895.0 768.2 892.0 767.4 889.0 766.5 886.0 765.7 883.0 764.9 880.0 764.1 877.0 763.3 874.0 762.5 871.0 761.7 868.0 760.9 865.0 760.2 862.0 759.4 859.0 758.7 856.0 757.9 853.0 757.2 850.0 756.5 847.0 755.8 844.0 755.1 841.0 754.4 838.0 753.7 835.0 753.1 832.0 752.4 829.0 751.8 826.0 751.1 823.0 750.5 820.0 749.9 817.0 749.3 814.0 748.7 811.0 748.1 808.0 747.6 805.0 747.0 802.0 746.5 799.0 745.9 796.0 745.4 793.0 744.9 790.0 744.4 787.0 743.9 784.0 743.4 781.0 743.0 778.0 742.5 775.0 742.1 772.0 741.7 769.0 741.2 766.0 740.8 763.0 740.4 760.0 740.0 757.0 739.6 754.0 739.3 751.0 738.9 748.0 738.5 745.0 738.2 742.0 737.9 739.0 737.5 736.0 737.2 733.0 736.9 730.0 736.6 727.0 736.3 724.0 736.0 721.0 735.7 718.0 735.4 715.0 735.1 712.0 734.9 709.0 734.6 706.0 734.3 703.0 734.1 700.0 733.8 697.0 733.6 694.0 733.3 691.0 733.1 688.0 732.9 685.0 732.6 682.0 732.4 679.0 732.2 676.0 732.0 673.0 731.8 670.0 731.6 667.0 731.4 664.0 731.2 661.0 731.0 658.0 730.8 655.0 730.6 652.0 730.4 649.0 730.2 646.0 730.0 643.0 729.8 640.0 729.6 637.0 729.4 634.0 729.2 631.0 729.0 628.0 728.8 625.0 728.7 622.0 728.5 619.0 728.3 616.0 728.1 613.0 727.9 610.0 727.7 607.0 727.5 604.0 727.3 601.0 727.1 598.0 726.9 595.0 726.7 592.0 726.5 589.0 726.3 586.0 726.1 583.0 725.9 580.0 725.7 577.0 725.5 574.0 725.2 571.0 725.0 568.0 724.8 565.0 724.5 562.0 724.3 559.0 724.1 556.0 723.8 553.0 723.5 550.0 723.3 547.0 723.0 544.0 722.7 541.0 722.5 538.0 722.2 535.0 721.9 532.0 721.6 529.0 721.3 526.0 721.0 523.0 720.7 520.0 720.3 517.0 720.0 514.0 719.7 511.0 719.3 508.0 719.0 505.0 718.6 502.0 718.2 499.0 717.8 496.0 717.4 493.0 717.0 490.0 716.6 487.0 716.2 490.0 715.7 493.0 715.3 496.0 714.8 499.0 714.4 502.0 714.0 505.0 713.5 508.0 713.1 511.0 712.7 514.0 712.3 517.0 711.9 520.0 711.6 523.0 711.2 526.0 710.9 529.0 710.5 532.0 710.2 535.0 709.8 538.0 709.5 541.0 709.2 544.0 708.9 547.0 708.6 550.0 708.3 553.0 708.0 556.0 707.8 559.0 707.5 562.0 707.2 565.0 707.0 568.0 706.7 571.0 706.5 574.0 706.3 577.0 706.0 580.0 705.8 583.0 705.6 586.0 705.4 589.0 705.2 592.0 705.0 595.0 704.8 598.0 704.6 601.0 704.4 604.0 704.2 607.0 704.0 610.0 703.9 613.0 703.7 616.0 703.5 619.0 703.4 622.0 703.2 625.0 703.1 628.0 702.9 631.0 702.8 634.0 702.6 637.0 702.5 640.0 702.4 643.0 702.2 646.0 702.1 649.0 702.0 652.0 701.9 655.0 701.7 658.0 701.6 661.0 701.5 664.0 701.4 667.0 701.3 670.0 701.2 673.0 701.1 676.0 700.9 679.0 700.8 682.0 700.7 685.0 700.6 688.0 700.5 691.0 700.4 694.0 700.3 697.0 700.2 700.0 700.1 703.0 700.0 706.0 699.9 709.0 699.8 712.0 699.7 715.0 699.5 718.0 699.4 721.0 699.3 724.0 699.2 727.0 699.1 730.0 699.0 733.0 698.9 736.0 698.7 739.0 698.6 742.0 698.5 745.0 698.4 748.0 698.2 751.0 698.1 754.0 698.0 757.0 697.8 760.0 697.7 763.0 697.6 766.0 697.4 769.0 697.3 772.0 697.1 774.0 697.0"/>
<path stroke="#FF0000" d="M777.0 683.0 L780.0 682.7 783.0 682.5 786.0 682.2 789.0 682.0 792.0 681.7 795.0 681.5 798.0 681.2 801.0 681.0 804.0 680.8 807.0 680.6 810.0 680.4 813.0 680.2 816.0 680.0 819.0 679.8 822.0 679.7 825.0 679.5 828.0 679.3 831.0 679.2 834.0 679.0 837.0 678.9 840.0 678.8 843.0 678.6 846.0 678.5 849.0 678.4 852.0 678.3 855.0 678.1 858.0 678.0 861.0 677.9 864.0 677.8 867.0 677.7 870.0 677.6 873.0 677.5 876.0 677.4 879.0 677.4 882.0 677.3 885.0 677.2 888.0 677.1 891.0 677.0 894.0 677.0 897.0 676.9 900.0 676.8 903.0 676.8 906.0 676.7 909.0 676.6 912.0 676.6 915.0 676.5 918.0 676.5 921.0 676.4 924.0 676.3 927.0 676.3 930.0 676.2 933.0 676.2 936.0 676.1 939.0 676.0 942.0 676.0 945.0 675.9 948.0 675.9 951.0 675.8 954.0 675.7 957.0 675.7 960.0 675.6 963.0 675.5 966.0 675.5 969.0 675.4 972.0 675.3 975.0 675.2 978.0 675.2 981.0 675.1 984.0 675.0 987.0 674.9 990.0 674.8 993.0 674.7 996.0 674.6 999.0 674.5 1002.0 674.4 1005.0 674.3 1008.0 674.2 1011.0 674.1 1014.0 673.9 1017.0 673.8 1020.0 673.7 1023.0 673.5 1026.0 673.4 1029.0 673.3 1032.0 673.1 1035.0 672.9 1038.0 672.8 1041.0 672.6 1044.0 672.4 1047.0 672.2 1050.0 672.0 1053.0 671.8 1056.0 671.6 1059.0 671.4 1062.0 671.2 1065.0 671.0 1068.0 670.7 1071.0 670.5 1074.0 670.2 1077.0 670.0 1080.0 669.7 1083.0 669.4 1086.0 669.2 1089.0 668.9 1092.0 668.6 1095.0 668.2 1098.0 667.9 1101.0 667.6 1104.0 667.2 1107.0 666.9 1110.0 666.5 1113.0 666.2 1116.0 665.8 1119.0 665.4 1122.0 665.0 1125.0 664.6 1128.0 664.1 1131.0 663.7 1134.0 663.3 1137.0 662.8 1140.0 662.3 1143.0 661.8 1146.0 661.3 1149.0 660.8 1152.0 660.3 1155.0 659.8 1158.0 659.2 1161.0 658.7 1164.0 658.1 1167.0 657.5 1170.0 656.9 1173.0 656.3 1176.0 655.7 1179.0 655.0 1182.0 654.4 1185.0 653.7 1188.0 653.0 1191.0 652.3 1194.0 651.6 1197.0 650.9 1200.0 650.1 1203.0 649.4 1206.0 648.6 1209.0 647.8 1212.0 647.0 1215.0 646.2 1218.0 645.4 1221.0 644.5 1224.0 643.6 1227.0 642.7 1230.0 641.8 1233.0 640.9 1236.0 640.0 1239.0 639.0 1242.0 638.0 1245.0 637.1 1248.0 636.1 1251.0 635.0 1254.0 634.0 1257.0 632.9 1260.0 631.9 1263.0 630.8 1266.0 629.7 1269.0 628.5 1272.0 627.4 1275.0 626.2 1278.0 625.0 1281.0 623.8 1284.0 622.6 1287.0 621.4 1290.0 620.1 1293.0 618.9 1296.0 617.6 1299.0 616.3 1302.0 614.9 1305.0 613.6 1308.0 612.2 1311.0 610.8 1314.0 609.4 1317.0 608.0 1320.0 606.6 1323.0 605.1 1326.0 603.6 1329.0 602.1 1332.0 600.6 1335.0 599.1 1338.0 597.5 1341.0 595.9 1344.0 594.4 1347.0 592.7 1350.0 591.1 1353.0 589.5 1356.0 587.8 1359.0 586.1 1362.0 584.4 1365.0 582.7 1368.0 581.0 1371.0 579.3 1374.0 577.6 1377.0 575.9 1380.0 574.2 1383.0 572.5 1386.0 570.7 1389.0 569.0 1392.0 567.3 1395.0 565.6 1398.0 563.9 1401.0 562.3 1404.0 560.6 1407.0 558.9 1410.0 557.3 1413.0 555.7 1416.0 554.1 1419.0 552.5 1422.0 550.9 1425.0 549.4 1428.0 547.9 1431.0 546.4 1434.0 545.0 1437.0 543.5 1440.0 542.1 1443.0 540.8 1446.0 539.5 1449.0 538.2 1452.0 536.9 1455.0 535.7 1458.0 534.6 1461.0 533.4 1464.0 532.3 1467.0 531.3 1470.0 530.2 1473.0 529.3 1476.0 528.3 1479.0 527.4 1482.0 526.5 1485.0 525.7 1488.0 524.9 1491.0 524.1 1494.0 523.3 1497.0 522.6 1500.0 521.9 1503.0 521.3 1506.0 520.7 1509.0 520.1 1512.0 519.5 1515.0 519.0 1518.0 518.5 1521.0 518.0 1524.0 517.6 1527.0 517.1 1530.0 516.7 1533.0 516.4 1536.0 516.0 1539.0 515.7 1542.0 515.4 1545.0 515.2 1548.0 514.9 1551.0 514.7 1554.0 514.5 1557.0 514.3 1560.0 514.2 1563.0 514.0 1566.0 513.9 1569.0 513.8 1572.0 513.8 1575.0 513.7 1578.0 513.7 1581.0 513.7 1584.0 513.7 1587.0 513.7 1590.0 513.8 1593.0 513.8 1596.0 513.9 1599.0 514.0 1602.0 514.1 1605.0 514.2 1608.0 514.4 1611.0 514.5 1614.0 514.7 1617.0 514.9 1620.0 515.0 1623.0 515.2 1626.0 515.5 1629.0 515.7 1632.0 515.9 1635.0 516.2 1638.0 516.4 1641.0 516.7 1644.0 516.9 1647.0 517.2 1650.0 517.5 1653.0 517.8 1656.0 518.1 1659.0 518.4 1662.0 518.7 1665.0 519.0 1668.0 519.4 1671.0 519.7 1674.0 520.0 1677.0 520.4 1680.0 520.7 1683.0 521.0 1686.0 521.4 1689.0 521.7 1692.0 522.1 1695.0 522.4 1698.0 522.8 1701.0 523.2 1704.0 523.5 1707.0 523.9 1710.0 524.3 1713.0 524.6 1716.0 525.0 1719.0 525.4 1722.0 525.8 1725.0 526.2 1728.0 526.5 1731.0 526.9 1734.0 527.3 1737.0 527.7 1740.0 528.1 1743.0 528.5 1746.0 528.9 1749.0 529.3 1752.0 529.7 1755.0 530.1 1758.0 530.5 1761.0 530.9 1764.0 531.3 1767.0 531.7 1770.0 532.1 1773.0 532.5 1776.0 533.0 1779.0 533.4 1782.0 533.8 1785.0 534.2 1788.0 534.6 1791.0 535.0 1794.0 535.4 1797.0 535.8 1800.0 536.3 1803.0 536.7 1806.0 537.1 1809.0 537.5 1812.0 537.9 1815.0 538.3 1818.0 538.7 1821.0 539.2 1824.0 539.6 1827.0 540.0 1830.0 540.4 1833.0 540.8 1836.0 541.2 1839.0 541.6 1842.0 542.0 1845.0 542.4 1848.0 542.8 1851.0 543.2 1854.0 543.6 1857.0 544.0 1860.0 544.4 1863.0 544.8 1866.0 545.2 1869.0 545.6 1872.0 546.0 1875.0 546.4 1878.0 546.8 1881.0 547.2 1884.0 547.5 1887.0 547.9 1890.0 548.3 1893.0 548.7 1896.0 549.0 1899.0 549.4 1902.0 549.8 1905.0 550.1 1908.0 550.5 1911.0 550.8 1914.0 551.2 1917.0 551.5 1920.0 551.9 1923.0 552.2 1926.0 552.6 1929.0 552.9 1932.0 553.2 1935.0 553.5 1938.0 553.9 1941.0 554.2 1944.0 554.5 1947.0 554.8 1950.0 555.1 1953.0 555.4 1956.0 555.7 1959.0 556.0 1962.0 556.3 1965.0 556.5 1968.0 556.8 1971.0 557.1 1974.0 557.4 1977.0 557.6 1980.0 557.9 1983.0 558.1 1986.0 558.4 1989.0 558.6 1992.0 558.8 1995.0 559.1 1998.0 559.3 2001.0 559.5 2004.0 559.7 2007.0 559.9 2010.0 560.1 2013.0 560.3 2016.0 560.5 2019.0 560.6 2022.0 560.8 2025.0 561.0 2028.0 561.1 2031.0 561.3 2034.0 561.4 2037.0 561.6 2040.0 561.7 2043.0 561.8 2046.0 561.9 2048.0 562.0 2047.0 562.2 2044.0 562.7 2041.0 563.1 2038.0 563.6 2035.0 564.1 2032.0 564.6 2029.0 565.0 2026.0 565.5 2023.0 565.9 2020.0 566.3 2017.0 566.7 2014.0 567.1 2011.0 567.5 2008.0 567.9 2005.0 568.3 2002.0 568.7 1999.0 569.1 1996.0 569.4 1993.0 569.8 1990.0 570.2 1987.0 570.5 1984.0 570.8 1981.0 571.2 1978.0 571.5 1975.0 571.8 1972.0 572.2 1969.0 572.5 1966.0 572.8 1963.0 573.1 1960.0 573.4 1957.0 573.7 1954.0 573.9 1951.0 574.2 1948.0 574.5 1945.0 574.8 1942.0 575.1 1939.0 575.3 1936.0 575.6 1933.0 575.8 1930.0 576.1 1927.0 576.3 1924.0 576.6 1921.0 576.8 1918.0 577.1 1915.0 577.3 1912.0 577.6 1909.0 577.8 1906.0 578.0 1903.0 578.3 1900.0 578.5 1897.0 578.7 1894.0 579.0 1891.0 579.2 1888.0 579.4 1885.0 579.6 1882.0 579.9 1879.0 580.1 1876.0 580.3 1873.0 580.5 1870.0 580.7 1867.0 581.0 1864.0 581.2 1861.0 581.4 1858.0 581.6 1855.0 581.9 1852.0 582.1 1849.0 582.3 1846.0 582.5 1843.0 582.8 1840.0 583.0 1837.0 583.2 1834.0 583.4 1831.0 583.7 1828.0 583.9 1825.0 584.2 1822.0 584.4 1819.0 584.6 1816.0 584.9 1813.0 585.1 1810.0 585.4 1807.0 585.6 1804.0 585.9 1801.0 586.2 1798.0 586.4 1795.0 586.7 1792.0 587.0 1789.0 587.3 1786.0 587.5 1783.0 587.8 1780.0 588.1 1777.0 588.4 1774.0 588.7 1771.0 589.0 1768.0 589.3 1765.0 589.7 1762.0 590.0 1759.0 590.3 1756.0 590.6 1753.0 591.0 1750.0 591.3 1747.0 591.7 1744.0 592.0 1741.0 592.4 1738.0 592.8 1735.0 593.2 1732.0 593.6 1729.0 593.9 1726.0 594.3 1723.0 594.8 1720.0 595.2 1717.0 595.6 1714.0 596.0 1711.0 596.5 1708.0 596.9 1705.0 597.4 1702.0 597.9 1699.0 598.3 1696.0 598.8 1693.0 599.3 1690.0 599.8 1687.0 600.4 1684.0 600.9 1681.0 601.4 1678.0 602.0 1675.0 602.5 1672.0 603.1 1669.0 603.7 1666.0 604.2 1663.0 604.8 1660.0 605.5 1657.0 606.1 1654.0 606.7 1651.0 607.4 1648.0 608.0 1645.0 608.7 1642.0 609.4 1639.0 610.1 1636.0 610.8 1633.0 611.5 1630.0 612.2 1627.0 612.9 1624.0 613.7 1621.0 614.5 1618.0 615.3 1615.0 616.1 1612.0 616.9 1609.0 617.7 1606.0 618.5 1603.0 619.4 1600.0 620.2 1597.0 621.1 1594.0 622.0 1591.0 622.9 1588.0 623.9 1585.0 624.8 1582.0 625.7 1579.0 626.7 1576.0 627.7 1573.0 628.7 1570.0 629.7 1567.0 630.8 1564.0 631.8 1561.0 632.9 1558.0 634.0 1555.0 635.1 1552.0 636.2 1549.0 637.4 1546.0 638.6 1543.0 639.8 1540.0 641.0 1537.0 642.2 1534.0 643.5 1531.0 644.8 1528.0 646.1 1525.0 647.5 1522.0 648.9 1519.0 650.3 1516.0 651.7 1513.0 653.1 1510.0 654.6 1507.0 656.1 1504.0 657.7 1501.0 659.3 1498.0 660.9 1495.0 662.5 1492.0 664.2 1489.0 665.9 1486.0 667.6 1483.0 669.4 1480.0 671.2 1477.0 673.0 1474.0 674.9 1471.0 676.8 1468.0 678.7 1465.0 680.7 1462.0 682.7 1459.0 684.8 1456.0 686.8 1453.0 688.9 1450.0 691.0 1447.0 693.2 1444.0 695.4 1441.0 697.5 1438.0 699.7 1435.0 702.0 1432.0 704.2 1429.0 706.4 1426.0 708.7 1423.0 710.9 1420.0 713.2 1417.0 715.5 1414.0 717.8 1411.0 720.0 1408.0 722.3 1405.0 724.6 1402.0 726.8 1399.0 729.1 1396.0 731.3 1393.0 733.6 1390.0 735.8 1387.0 738.0 1384.0 740.2 1381.0 742.4 1378.0 744.6 1375.0 746.7 1372.0 748.8 1369.0 750.9 1366.0 753.0 1363.0 755.0 1360.0 757.0 1357.0 759.0 1354.0 760.9 1351.0 762.8 1348.0 764.7 1345.0 766.5 1342.0 768.3 1339.0 770.0 1336.0 771.7 1333.0 773.4 1330.0 775.0 1327.0 776.5 1324.0 778.0 1321.0 779.5 1318.0 780.9 1315.0 782.3 1312.0 783.6 1309.0 784.9 1306.0 786.1 1303.0 787.3 1300.0 788.4 1297.0 789.5 1294.0 790.6 1291.0 791.6 1288.0 792.6 1285.0 793.5 1282.0 794.4 1279.0 795.3 1276.0 796.1 1273.0 796.9 1270.0 797.6 1267.0 798.3 1264.0 799.0 1261.0 799.6 1258.0 800.2 1255.0 800.8 1252.0 801.3 1249.0 801.8 1246.0 802.3 1243.0 802.7 1240.0 803.1 1237.0 803.4 1234.0 803.7 1231.0 804.0 1228.0 804.3 1225.0 804.5 1222.0 804.7 1219.0 804.9 1216.0 805.0 1213.0 805.1 1210.0 805.2 1207.0 805.2 1204.0 805.3 1201.0 805.3 1198.0 805.2 1195.0 805.2 1192.0 805.1 1189.0 805.0 1186.0 804.8 1183.0 804.7 1180.0 804.5 1177.0 804.3 1174.0 804.1 1171.0 803.8 1168.0 803.6 1165.0 803.3 1162.0 803.0 1159.0 802.6 1156.0 802.3 1153.0 801.9 1150.0 801.5 1147.0 801.1 1144.0 800.7 1141.0 800.2 1138.0 799.8 1135.0 799.3 1132.0 798.8 1129.0 798.3 1126.0 797.8 1123.0 797.2 1120.0 796.7 1117.0 796.1 1114.0 795.5 1111.0 794.9 1108.0 794.3 1105.0 793.7 1102.0 793.1 1099.0 792.4 1096.0 791.8 1093.0 791.1 1090.0 790.5 1087.0 789.8 1084.0 789.1 1081.0 788.4 1078.0 787.7 1075.0 787.0 1072.0 786.3 1069.0 785.6 1066.0 784.9 1063.0 784.1 1060.0 783.4 1057.0 782.7 1054.0 781.9 1051.0 781.2 1048.0 780.4 1045.0 779.7 1042.0 778.9 1039.0 778.2 1036.0 777.4 1033.0 776.7 1030.0 775.9 1027.0 775.2 1024.0 774.5 1021.0 773.7 1018.0 773.0 1015.0 772.2 1012.0 771.5 1009.0 770.8 1006.0 770.0 1003.0 769.3 1000.0 768.6 997.0 767.9 994.0 767.2 991.0 766.5 988.0 765.8 985.0 765.1 982.0 764.4 979.0 763.8 976.0 763.1 973.0 762.5 970.0 761.8 967.0 761.2 964.0 760.5 961.0 759.9 958.0 759.3 955.0 758.7 952.0 758.1 949.0 757.5 946.0 756.9 943.0 756.3 940.0 755.7 937.0 755.1 934.0 754.6 931.0 754.0 928.0 753.4 925.0 752.9 922.0 752.4 919.0 751.8 916.0 751.3 913.0 750.8 910.0 750.2 907.0 749.7 904.0 749.2 901.0 748.7 898.0 748.2 895.0 747.7 892.0 747.2 889.0 746.8 886.0 746.3 883.0 745.8 880.0 745.4 877.0 744.9 874.0 744.4 871.0 744.0 868.0 743.6 865.0 743.1 862.0 742.7 859.0 742.3 856.0 741.8 853.0 741.4 850.0 741.0 847.0 740.6 844.0 740.2 841.0 739.8 838.0 739.4 835.0 739.0 832.0 738.6 829.0 738.2 826.0 737.8 823.0 737.5 820.0 737.1 817.0 736.7 814.0 736.4 811.0 736.0 808.0 735.7 805.0 735.3 802.0 735.0 799.0 734.6 796.0 734.3 793.0 733.9 790.0 733.6 787.0 733.3 784.0 733.0 781.0 732.6 778.0 732.3 775.0 732.0 772.0 731.7 769.0 731.4 766.0 731.1 763.0 730.8 760.0 730.5 757.0 730.2 754.0 729.9 751.0 729.6 748.0 729.3 745.0 729.0 742.0 728.7 739.0 728.5 736.0 728.2 733.0 727.9 730.0 727.6 727.0 727.4 724.0 727.1 721.0 726.8 718.0 726.6 715.0 726.3 712.0 726.0 709.0 725.8 706.0 725.5 703.0 725.3 700.0 725.0 697.0 724.8 694.0 724.5 691.0 724.3 688.0 724.0 685.0 723.8 682.0 723.5 679.0 723.3 676.0 723.1 673.0 722.8 670.0 722.6 667.0 722.4 664.0 722.1 661.0 721.9 658.0 721.7 655.0 721.4 652.0 721.2 649.0 721.0 646.0 720.7 643.0 720.5 640.0 720.3 637.0 720.0 634.0 719.8 631.0 719.6 628.0 719.4 625.0 719.1 622.0 718.9 619.0 718.7 616.0 718.5 613.0 718.2 610.0 718.0 607.0 717.8 604.0 717.6 601.0 717.3 598.0 717.1 595.0 716.9 592.0 716.7 589.0 716.5 586.0 716.2 583.0 716.0 580.0 715.8 577.0 715.5 574.0 715.3 571.0 715.1 568.0 714.9 565.0 714.6 562.0 714.4 559.0 714.2 556.0 713.9 553.0 713.7 550.0 713.5 547.0 713.2 544.0 713.0 541.0 712.8 538.0 712.5 535.0 712.3 532.0 712.0 529.0 711.8 526.0 711.6 523.0 711.3 520.0 711.1 517.0 710.8 514.0 710.6 511.0 710.3 508.0 710.1 505.0 709.8 502.0 709.5 499.0 709.3 496.0 709.0 493.0 708.7 490.0 708.5 487.0 708.2 490.0 708.1 493.0 707.9 496.0 707.8 499.0 707.6 502.0 707.5 505.0 707.3 508.0 707.2 511.0 707.0 514.0 706.9 517.0 706.7 520.0 706.5 523.0 706.4 526.0 706.2 529.0 706.0 532.0 705.9 535.0 705.7 538.0 705.5 541.0 705.3 544.0 705.2 547.0 705.0 550.0 704.8 553.0 704.6 556.0 704.4 559.0 704.3 562.0 704.1 565.0 703.9 568.0 703.7 571.0 703.5 574.0 703.3 577.0 703.1 580.0 702.9 583.0 702.8 586.0 702.6 589.0 702.4 592.0 702.2 595.0 702.0 598.0 701.8 601.0 701.6 604.0 701.4 607.0 701.2 610.0 701.0 613.0 700.9 616.0 700.7 619.0 700.5 622.0 700.3 625.0 700.1 628.0 699.9 631.0 699.7 634.0 699.6 637.0 699.4 640.0 699.2 643.0 699.0 646.0 698.8 649.0 698.7 652.0 698.5 655.0 698.3 658.0 698.1 661.0 698.0 664.0 697.8 667.0 697.6 670.0 697.5 673.0 697.3 676.0 697.1 679.0 697.0 682.0 696.8 685.0 696.7 688.0 696.5 691.0 696.4 694.0 696.2 697.0 696.1 700.0 696.0 703.0 695.8 706.0 695.7 709.0 695.6 712.0 695.4 715.0 695.3 718.0 695.2 721.0 695.1 724.0 695.0 727.0 694.9 730.0 694.7 733.0 694.6 736.0 694.5 739.0 694.5 742.0 694.4 745.0 694.3 748.0 694.2 751.0 694.1 754.0 694.1 757.0 694.0 760.0 693.9 763.0 693.9 766.0 693.8 769.0 693.8 772.0 693.7 774.0 693.7"/>
<path stroke="#00B050" d="M777.0 756.4 L780.0 755.9 783.0 755.3 786.0 754.8 789.0 754.3 792.0 753.8 795.0 753.4 798.0 752.9 801.0 752.5 804.0 752.0 807.0 751.6 810.0 751.2 813.0 750.8 816.0 750.4 819.0 750.0 822.0 749.7 825.0 749.3 828.0 749.0 831.0 748.6 834.0 748.3 837.0 748.0 840.0 747.6 843.0 747.3 846.0 747.0 849.0 746.7 852.0 746.4 855.0 746.1 858.0 745.9 861.0 745.6 864.0 745.3 867.0 745.1 870.0 744.8 873.0 744.5 876.0 744.3 879.0 744.0 882.0 743.8 885.0 743.5 888.0 743.3 891.0 743.0 894.0 742.8 897.0 742.5 900.0 742.3 903.0 742.0 906.0 741.8 909.0 741.6 912.0 741.3 915.0 741.1 918.0 740.8 921.0 740.6 924.0 740.3 927.0 740.0 930.0 739.8 933.0 739.5 936.0 739.2 939.0 739.0 942.0 738.7 945.0 738.4 948.0 738.1 951.0 737.8 954.0 737.5 957.0 737.2 960.0 736.9 963.0 736.6 966.0 736.2 969.0 735.9 972.0 735.5 975.0 735.2 978.0 734.8 981.0 734.4 984.0 734.0 987.0 733.6 990.0 733.2 993.0 732.8 996.0 732.4 999.0 731.9 1002.0 731.5 1005.0 731.0 1008.0 730.5 1011.0 730.0 1014.0 729.5 1017.0 729.0 1020.0 728.4 1023.0 727.9 1026.0 727.3 1029.0 726.7 1032.0 726.1 1035.0 725.5 1038.0 724.9 1041.0 724.2 1044.0 723.6 1047.0 722.9 1050.0 722.2 1053.0 721.4 1056.0 720.7 1059.0 719.9 1062.0 719.2 1065.0 718.3 1068.0 717.5 1071.0 716.7 1074.0 715.8 1077.0 714.9 1080.0 713.9 1083.0 713.0 1086.0 712.0 1089.0 710.9 1092.0 709.9 1095.0 708.8 1098.0 707.6 1101.0 706.5 1104.0 705.3 1107.0 704.0 1110.0 702.7 1113.0 701.4 1116.0 700.1 1119.0 698.6 1122.0 697.2 1125.0 695.7 1128.0 694.2 1131.0 692.6 1134.0 690.9 1137.0 689.2 1140.0 687.5 1143.0 685.7 1146.0 683.9 1149.0 682.0 1152.0 680.0 1155.0 678.0 1158.0 675.9 1161.0 673.8 1164.0 671.6 1167.0 669.4 1170.0 667.1 1173.0 664.7 1176.0 662.3 1179.0 659.8 1182.0 657.2 1185.0 654.6 1188.0 651.9 1191.0 649.1 1194.0 646.3 1197.0 643.4 1200.0 640.4 1203.0 637.4 1206.0 634.2 1209.0 631.0 1212.0 627.7 1215.0 624.2 1218.0 620.7 1221.0 617.0 1224.0 613.2 1227.0 609.2 1230.0 605.0 1233.0 600.7 1236.0 596.2 1239.0 591.5 1242.0 586.6 1245.0 581.7 1248.0 576.6 1251.0 571.5 1254.0 566.4 1257.0 561.2 1260.0 556.0 1263.0 550.8 1266.0 545.6 1269.0 540.3 1272.0 535.1 1275.0 529.7 1278.0 524.4 1281.0 519.1 1284.0 513.7 1287.0 508.3 1290.0 502.9 1293.0 497.5 1296.0 492.0 1299.0 486.5 1302.0 481.0 1305.0 475.5 1308.0 470.0 1311.0 464.5 1314.0 458.9 1317.0 453.3 1320.0 447.7 1323.0 442.1 1326.0 436.5 1329.0 430.9 1332.0 425.3 1335.0 419.6 1338.0 414.0 1341.0 408.3 1344.0 402.7 1347.0 397.1 1350.0 391.4 1353.0 385.8 1356.0 380.2 1359.0 374.6 1362.0 369.1 1365.0 363.5 1368.0 358.0 1371.0 352.6 1374.0 347.1 1377.0 341.7 1380.0 336.4 1383.0 331.0 1386.0 325.8 1389.0 320.5 1392.0 315.4 1395.0 310.3 1398.0 305.2 1401.0 300.2 1404.0 295.3 1407.0 290.5 1410.0 285.7 1413.0 281.0 1416.0 276.4 1419.0 271.8 1422.0 267.4 1425.0 263.0 1428.0 258.7 1431.0 254.6 1434.0 250.5 1437.0 246.5 1440.0 242.6 1443.0 238.9 1446.0 235.2 1449.0 231.7 1452.0 228.2 1455.0 224.9 1458.0 221.7 1461.0 218.7 1464.0 215.7 1467.0 212.9 1470.0 210.2 1473.0 207.6 1476.0 205.1 1479.0 202.8 1482.0 200.6 1485.0 198.5 1488.0 196.5 1491.0 194.7 1494.0 193.0 1497.0 191.4 1500.0 190.0 1503.0 188.7 1506.0 187.5 1509.0 186.4 1512.0 185.5 1515.0 184.7 1518.0 184.1 1521.0 183.5 1524.0 183.1 1527.0 182.9 1530.0 182.8 1533.0 182.8 1536.0 183.0 1539.0 183.2 1542.0 183.7 1545.0 184.3 1548.0 185.0 1551.0 185.8 1554.0 186.8 1557.0 188.0 1560.0 189.2 1563.0 190.7 1566.0 192.2 1569.0 193.9 1572.0 195.8 1575.0 197.7 1578.0 199.8 1581.0 201.9 1584.0 204.2 1587.0 206.5 1590.0 208.9 1593.0 211.3 1596.0 213.9 1599.0 216.4 1602.0 219.0 1605.0 221.6 1608.0 224.2 1611.0 226.9 1614.0 229.5 1617.0 232.2 1620.0 234.8 1623.0 237.4 1626.0 239.9 1629.0 242.4 1632.0 244.9 1635.0 247.3 1638.0 249.7 1641.0 252.0 1644.0 254.3 1647.0 256.6 1650.0 258.9 1653.0 261.1 1656.0 263.4 1659.0 265.6 1662.0 267.8 1665.0 269.9 1668.0 272.1 1671.0 274.3 1674.0 276.4 1677.0 278.5 1680.0 280.7 1683.0 282.8 1686.0 284.9 1689.0 287.0 1692.0 289.0 1695.0 291.1 1698.0 293.1 1701.0 295.2 1704.0 297.2 1707.0 299.2 1710.0 301.2 1713.0 303.2 1716.0 305.1 1719.0 307.1 1722.0 309.0 1725.0 310.9 1728.0 312.8 1731.0 314.7 1734.0 316.6 1737.0 318.4 1740.0 320.3 1743.0 322.1 1746.0 323.9 1749.0 325.7 1752.0 327.4 1755.0 329.2 1758.0 330.9 1761.0 332.6 1764.0 334.3 1767.0 336.0 1770.0 337.7 1773.0 339.3 1776.0 340.9 1779.0 342.5 1782.0 344.1 1785.0 345.7 1788.0 347.2 1791.0 348.7 1794.0 350.2 1797.0 351.7 1800.0 353.2 1803.0 354.6 1806.0 356.0 1809.0 357.4 1812.0 358.8 1815.0 360.1 1818.0 361.5 1821.0 362.8 1824.0 364.1 1827.0 365.3 1830.0 366.6 1833.0 367.8 1836.0 369.0 1839.0 370.2 1842.0 371.3 1845.0 372.5 1848.0 373.6 1851.0 374.7 1854.0 375.8 1857.0 376.8 1860.0 377.9 1863.0 378.9 1866.0 379.9 1869.0 380.9 1872.0 381.9 1875.0 382.9 1878.0 383.8 1881.0 384.8 1884.0 385.7 1887.0 386.6 1890.0 387.5 1893.0 388.4 1896.0 389.3 1899.0 390.1 1902.0 391.0 1905.0 391.8 1908.0 392.7 1911.0 393.5 1914.0 394.3 1917.0 395.1 1920.0 395.9 1923.0 396.7 1926.0 397.5 1929.0 398.2 1932.0 399.0 1935.0 399.8 1938.0 400.5 1941.0 401.3 1944.0 402.0 1947.0 402.8 1950.0 403.5 1953.0 404.2 1956.0 404.9 1959.0 405.7 1962.0 406.4 1965.0 407.1 1968.0 407.8 1971.0 408.6 1974.0 409.3 1977.0 410.0 1980.0 410.7 1983.0 411.4 1986.0 412.1 1989.0 412.9 1992.0 413.6 1995.0 414.3 1998.0 415.0 2001.0 415.8 2004.0 416.5 2007.0 417.2 2010.0 418.0 2013.0 418.7 2016.0 419.5 2019.0 420.3 2022.0 421.0 2025.0 421.8 2028.0 422.6 2031.0 423.4 2034.0 424.2 2037.0 425.0 2040.0 425.8 2043.0 426.6 2046.0 427.4 2048.0 428.0 2047.0 428.3 2044.0 429.2 2041.0 430.1 2038.0 430.9 2035.0 431.8 2032.0 432.6 2029.0 433.5 2026.0 434.3 2023.0 435.1 2020.0 435.9 2017.0 436.6 2014.0 437.4 2011.0 438.2 2008.0 438.9 2005.0 439.6 2002.0 440.4 1999.0 441.1 1996.0 441.8 1993.0 442.5 1990.0 443.1 1987.0 443.8 1984.0 444.5 1981.0 445.1 1978.0 445.8 1975.0 446.4 1972.0 447.0 1969.0 447.6 1966.0 448.2 1963.0 448.8 1960.0 449.4 1957.0 450.0 1954.0 450.6 1951.0 451.2 1948.0 451.7 1945.0 452.3 1942.0 452.8 1939.0 453.4 1936.0 453.9 1933.0 454.5 1930.0 455.0 1927.0 455.5 1924.0 456.0 1921.0 456.5 1918.0 457.1 1915.0 457.6 1912.0 458.1 1909.0 458.6 1906.0 459.0 1903.0 459.5 1900.0 460.0 1897.0 460.5 1894.0 461.0 1891.0 461.5 1888.0 461.9 1885.0 462.4 1882.0 462.9 1879.0 463.4 1876.0 463.8 1873.0 464.3 1870.0 464.8 1867.0 465.2 1864.0 465.7 1861.0 466.1 1858.0 466.6 1855.0 467.1 1852.0 467.5 1849.0 468.0 1846.0 468.5 1843.0 468.9 1840.0 469.4 1837.0 469.9 1834.0 470.3 1831.0 470.8 1828.0 471.3 1825.0 471.8 1822.0 472.2 1819.0 472.7 1816.0 473.2 1813.0 473.7 1810.0 474.2 1807.0 474.7 1804.0 475.2 1801.0 475.7 1798.0 476.2 1795.0 476.7 1792.0 477.2 1789.0 477.7 1786.0 478.3 1783.0 478.8 1780.0 479.3 1777.0 479.9 1774.0 480.4 1771.0 481.0 1768.0 481.5 1765.0 482.1 1762.0 482.7 1759.0 483.3 1756.0 483.9 1753.0 484.5 1750.0 485.1 1747.0 485.7 1744.0 486.3 1741.0 486.9 1738.0 487.6 1735.0 488.2 1732.0 488.9 1729.0 489.6 1726.0 490.3 1723.0 491.0 1720.0 491.7 1717.0 492.4 1714.0 493.2 1711.0 493.9 1708.0 494.7 1705.0 495.5 1702.0 496.3 1699.0 497.2 1696.0 498.1 1693.0 498.9 1690.0 499.9 1687.0 500.8 1684.0 501.8 1681.0 502.8 1678.0 503.8 1675.0 504.8 1672.0 505.9 1669.0 507.0 1666.0 508.2 1663.0 509.4 1660.0 510.6 1657.0 511.8 1654.0 513.1 1651.0 514.4 1648.0 515.7 1645.0 517.1 1642.0 518.6 1639.0 520.0 1636.0 521.5 1633.0 523.1 1630.0 524.7 1627.0 526.3 1624.0 528.0 1621.0 529.7 1618.0 531.5 1615.0 533.3 1612.0 535.2 1609.0 537.1 1606.0 539.1 1603.0 541.1 1600.0 543.1 1597.0 545.3 1594.0 547.4 1591.0 549.7 1588.0 551.9 1585.0 554.3 1582.0 556.7 1579.0 559.1 1576.0 561.6 1573.0 564.2 1570.0 566.8 1567.0 569.5 1564.0 572.3 1561.0 575.1 1558.0 578.0 1555.0 581.0 1552.0 584.0 1549.0 587.1 1546.0 590.3 1543.0 593.5 1540.0 596.8 1537.0 600.2 1534.0 603.6 1531.0 607.2 1528.0 610.8 1525.0 614.5 1522.0 618.2 1519.0 622.1 1516.0 626.0 1513.0 630.0 1510.0 634.1 1507.0 638.3 1504.0 642.6 1501.0 646.9 1498.0 651.3 1495.0 655.9 1492.0 660.4 1489.0 665.1 1486.0 669.9 1483.0 674.7 1480.0 679.5 1477.0 684.5 1474.0 689.5 1471.0 694.6 1468.0 699.7 1465.0 704.9 1462.0 710.2 1459.0 715.5 1456.0 720.9 1453.0 726.3 1450.0 731.8 1447.0 737.3 1444.0 742.8 1441.0 748.4 1438.0 754.1 1435.0 759.8 1432.0 765.5 1429.0 771.2 1426.0 777.0 1423.0 782.8 1420.0 788.7 1417.0 794.5 1414.0 800.4 1411.0 806.3 1408.0 812.1 1405.0 818.0 1402.0 824.0 1399.0 829.9 1396.0 835.8 1393.0 841.7 1390.0 847.6 1387.0 853.4 1384.0 859.3 1381.0 865.2 1378.0 871.0 1375.0 876.8 1372.0 882.6 1369.0 888.3 1366.0 894.0 1363.0 899.7 1360.0 905.4 1357.0 911.0 1354.0 916.5 1351.0 922.0 1348.0 927.5 1345.0 932.9 1342.0 938.2 1339.0 943.5 1336.0 948.8 1333.0 954.1 1330.0 959.4 1327.0 964.7 1324.0 970.0 1321.0 975.2 1318.0 980.4 1315.0 985.6 1312.0 990.6 1309.0 995.5 1306.0 1000.2 1303.0 1004.7 1300.0 1009.0 1297.0 1013.2 1294.0 1017.1 1291.0 1020.9 1288.0 1024.5 1285.0 1027.9 1282.0 1031.2 1279.0 1034.2 1276.0 1037.1 1273.0 1039.8 1270.0 1042.3 1267.0 1044.6 1264.0 1046.8 1261.0 1048.8 1258.0 1050.5 1255.0 1052.2 1252.0 1053.6 1249.0 1054.8 1246.0 1055.9 1243.0 1056.8 1240.0 1057.6 1237.0 1058.2 1234.0 1058.6 1231.0 1058.8 1228.0 1058.9 1225.0 1058.9 1222.0 1058.7 1219.0 1058.4 1216.0 1058.0 1213.0 1057.4 1210.0 1056.7 1207.0 1055.8 1204.0 1054.9 1201.0 1053.8 1198.0 1052.6 1195.0 1051.3 1192.0 1049.9 1189.0 1048.5 1186.0 1046.9 1183.0 1045.2 1180.0 1043.5 1177.0 1041.6 1174.0 1039.7 1171.0 1037.7 1168.0 1035.6 1165.0 1033.5 1162.0 1031.3 1159.0 1029.1 1156.0 1026.8 1153.0 1024.4 1150.0 1022.0 1147.0 1019.6 1144.0 1017.1 1141.0 1014.6 1138.0 1012.1 1135.0 1009.5 1132.0 1006.9 1129.0 1004.3 1126.0 1001.7 1123.0 999.1 1120.0 996.4 1117.0 993.8 1114.0 991.2 1111.0 988.6 1108.0 986.0 1105.0 983.4 1102.0 980.8 1099.0 978.2 1096.0 975.7 1093.0 973.2 1090.0 970.7 1087.0 968.3 1084.0 965.9 1081.0 963.5 1078.0 961.1 1075.0 958.8 1072.0 956.4 1069.0 954.1 1066.0 951.9 1063.0 949.6 1060.0 947.4 1057.0 945.2 1054.0 943.0 1051.0 940.9 1048.0 938.7 1045.0 936.6 1042.0 934.6 1039.0 932.5 1036.0 930.5 1033.0 928.4 1030.0 926.5 1027.0 924.5 1024.0 922.5 1021.0 920.6 1018.0 918.7 1015.0 916.8 1012.0 915.0 1009.0 913.1 1006.0 911.3 1003.0 909.5 1000.0 907.8 997.0 906.0 994.0 904.3 991.0 902.6 988.0 900.9 985.0 899.2 982.0 897.6 979.0 895.9 976.0 894.3 973.0 892.7 970.0 891.2 967.0 889.6 964.0 888.1 961.0 886.6 958.0 885.1 955.0 883.6 952.0 882.1 949.0 880.7 946.0 879.3 943.0 877.9 940.0 876.5 937.0 875.1 934.0 873.8 931.0 872.4 928.0 871.1 925.0 869.8 922.0 868.5 919.0 867.3 916.0 866.0 913.0 864.8 910.0 863.6 907.0 862.4 904.0 861.2 901.0 860.0 898.0 858.9 895.0 857.7 892.0 856.6 889.0 855.5 886.0 854.4 883.0 853.4 880.0 852.3 877.0 851.3 874.0 850.2 871.0 849.2 868.0 848.2 865.0 847.2 862.0 846.2 859.0 845.3 856.0 844.3 853.0 843.4 850.0 842.5 847.0 841.6 844.0 840.7 841.0 839.8 838.0 838.9 835.0 838.1 832.0 837.2 829.0 836.4 826.0 835.5 823.0 834.7 820.0 833.9 817.0 833.2 814.0 832.4 811.0 831.6 808.0 830.9 805.0 830.1 802.0 829.4 799.0 828.7 796.0 827.9 793.0 827.2 790.0 826.6 787.0 825.9 784.0 825.2 781.0 824.5 778.0 823.9 775.0 823.2 772.0 822.6 769.0 822.0 766.0 821.4 763.0 820.7 760.0 820.1 757.0 819.6 754.0 819.0 751.0 818.4 748.0 817.8 745.0 817.3 742.0 816.7 739.0 816.2 736.0 815.6 733.0 815.1 730.0 814.6 727.0 814.0 724.0 813.5 721.0 813.0 718.0 812.5 715.0 812.0 712.0 811.6 709.0 811.1 706.0 810.6 703.0 810.1 700.0 809.7 697.0 809.2 694.0 808.7 691.0 808.3 688.0 807.8 685.0 807.4 682.0 807.0 679.0 806.5 676.0 806.1 673.0 805.7 670.0 805.3 667.0 804.8 664.0 804.4 661.0 804.0 658.0 803.6 655.0 803.2 652.0 802.8 649.0 802.4 646.0 802.0 643.0 801.6 640.0 801.2 637.0 800.8 634.0 800.4 631.0 800.0 628.0 799.6 625.0 799.3 622.0 798.9 619.0 798.5 616.0 798.1 613.0 797.7 610.0 797.3 607.0 797.0 604.0 796.6 601.0 796.2 598.0 795.8 595.0 795.4 592.0 795.1 589.0 794.7 586.0 794.3 583.0 793.9 580.0 793.5 577.0 793.1 574.0 792.8 571.0 792.4 568.0 792.0 565.0 791.6 562.0 791.2 559.0 790.8 556.0 790.4 553.0 790.0 550.0 789.6 547.0 789.2 544.0 788.8 541.0 788.3 538.0 787.9 535.0 787.5 532.0 787.1 529.0 786.7 526.0 786.2 523.0 785.8 520.0 785.4 517.0 784.9 514.0 784.5 511.0 784.0 508.0 783.6 505.0 783.1 502.0 782.6 499.0 782.1 496.0 781.7 493.0 781.2 490.0 780.7 487.0 780.2 490.0 779.7 493.0 779.2 496.0 778.7 499.0 778.2 502.0 777.7 505.0 777.2 508.0 776.7 511.0 776.2 514.0 775.8 517.0 775.3 520.0 774.8 523.0 774.3 526.0 773.8 529.0 773.4 532.0 772.9 535.0 772.4 538.0 772.0 541.0 771.5 544.0 771.1 547.0 770.6 550.0 770.2 553.0 769.7 556.0 769.3 559.0 768.8 562.0 768.4 565.0 768.0 568.0 767.5 571.0 767.1 574.0 766.7 577.0 766.3 580.0 765.9 583.0 765.4 586.0 765.0 589.0 764.6 592.0 764.2 595.0 763.8 598.0 763.4 601.0 763.0 604.0 762.7 607.0 762.3 610.0 761.9 613.0 761.5 616.0 761.1 619.0 760.8 622.0 760.4 625.0 760.0 628.0 759.7 631.0 759.3 634.0 759.0 637.0 758.6 640.0 758.3 643.0 757.9 646.0 757.6 649.0 757.3 652.0 756.9 655.0 756.6 658.0 756.3 661.0 756.0 664.0 755.7 667.0 755.4 670.0 755.1 673.0 754.8 676.0 754.5 679.0 754.2 682.0 753.9 685.0 753.6 688.0 753.3 691.0 753.1 694.0 752.8 697.0 752.5 700.0 752.3 703.0 752.0 706.0 751.8 709.0 751.5 712.0 751.3 715.0 751.1 718.0 750.8 721.0 750.6 724.0 750.4 727.0 750.2 730.0 749.9 733.0 749.7 736.0 749.5 739.0 749.3 742.0 749.1 745.0 749.0 748.0 748.8 751.0 748.6 754.0 748.4 757.0 748.3 760.0 748.1 763.0 747.9 766.0 747.8 769.0 747.6 772.0 747.5 774.0 747.4"/>
</g>
<g stroke="#000" stroke-width="3.4" fill="none" stroke-linecap="square">
<path d="M348 69 V1177 H2186"/>
<path d="M348 69.0 h17 M348 179.8 h17 M348 290.6 h17 M348 401.4 h17 M348 512.2 h17 M348 623.0 h17 M348 733.8 h17 M348 844.6 h17 M348 955.4 h17 M348 1066.2 h17 M631.8 1177 v-17 M914.6 1177 v-17 M1197.4 1177 v-17 M1480.2 1177 v-17 M1763.0 1177 v-17 M2045.8 1177 v-17 " stroke-linecap="butt"/>
</g>
<g font-size="61" text-anchor="end">
<text x="296" y="88.5">0.25</text>
<text x="296" y="199.3">0.2</text>
<text x="296" y="310.1">0.15</text>
<text x="296" y="420.9">0.1</text>
<text x="296" y="531.7">0.05</text>
<text x="296" y="642.5">0</text>
<text x="296" y="753.3">-0.05</text>
<text x="296" y="864.1">-0.1</text>
<text x="296" y="974.9">-0.15</text>
<text x="296" y="1085.7">-0.2</text>
<text x="296" y="1196.5">-0.25</text>
</g>
<g font-size="61" text-anchor="middle">
<text x="349.0" y="1268">-0.15</text>
<text x="631.8" y="1268">-0.05</text>
<text x="914.6" y="1268">0.05</text>
<text x="1197.4" y="1268">0.15</text>
<text x="1480.2" y="1268">0.25</text>
<text x="1763.0" y="1268">0.35</text>
<text x="2045.8" y="1268">0.45</text>
</g>
<text x="1268.5" y="1347.6" font-size="62" font-weight="bold" letter-spacing="-0.75" text-anchor="middle">Porential (V)</text>
<text transform="translate(131 625.5) rotate(-90)" font-size="62" font-weight="bold" letter-spacing="-0.8" text-anchor="middle">Current (mA)</text>
<text x="30" y="113" font-size="104" font-weight="bold">a)</text>
<line x1="473" y1="128.7" x2="561" y2="128.7" stroke="#A5A5A5" stroke-width="4.5"/>
<text x="567" y="145.7" font-size="51.5">GCE</text>
<line x1="473" y1="190.9" x2="561" y2="190.9" stroke="#ED7D31" stroke-width="4.5"/>
<text x="567" y="207.9" font-size="51.5">GCE-EDC/NHS</text>
<line x1="473" y1="253.1" x2="561" y2="253.1" stroke="#4472C4" stroke-width="4.5"/>
<text x="567" y="270.1" font-size="51.5">GCE-CH</text>
<line x1="473" y1="315.3" x2="561" y2="315.3" stroke="#FF0000" stroke-width="4.5"/>
<text x="567" y="332.3" font-size="51.5">GCE-EDC/NHS-CH</text>
<line x1="473" y1="377.5" x2="561" y2="377.5" stroke="#00B050" stroke-width="4.5"/>
<text x="567" y="394.5" font-size="51.5">GCE-EDC/NHS-CH-GONRs</text>
<g fill="none" stroke="#A5A5A5" stroke-width="6.6" stroke-linecap="round" stroke-dasharray="14.4 19.6">
<path d="M1985.7 1867.2 L1985.2 1867.6 1982.9 1869.6 1980.6 1871.5 1978.3 1873.4 1976.0 1875.3 1973.6 1877.2 1971.3 1879.1 1969.0 1881.0 1966.7 1883.0 1964.4 1884.9 1962.1 1886.8 1959.8 1888.7 1957.5 1890.6 1955.2 1892.5 1952.9 1894.5 1950.6 1896.4 1948.3 1898.3 1945.9 1900.2 1943.6 1902.1 1941.3 1904.0 1939.0 1906.0 1936.7 1907.9 1934.4 1909.8 1932.1 1911.7 1929.8 1913.6 1927.5 1915.5 1925.2 1917.5 1922.9 1919.4 1920.6 1921.3 1918.2 1923.2 1915.9 1925.1 1913.6 1927.0 1911.3 1929.0 1909.0 1930.9 1906.7 1932.8 1904.4 1934.7 1902.1 1936.6 1899.8 1938.5 1897.5 1940.4 1895.2 1942.4 1892.8 1944.3 1890.5 1946.2 1888.2 1948.1 1885.9 1950.0 1883.6 1951.9 1881.3 1953.9 1879.0 1955.8 1876.7 1957.7 1874.4 1959.6 1872.1 1961.5 1869.8 1963.4 1867.5 1965.4 1865.1 1967.3 1862.8 1969.2 1860.5 1971.1 1858.2 1973.0 1855.9 1974.9 1853.6 1976.9 1851.3 1978.8 1849.0 1980.7 1846.7 1982.6 1844.4 1984.5 1842.1 1986.4 1839.8 1988.3 1837.4 1990.3 1835.1 1992.2 1832.8 1994.1 1830.5 1996.0 1828.2 1997.9 1825.9 1999.8 1823.6 2001.8 1821.3 2003.7 1819.0 2005.6 1816.7 2007.5 1814.4 2009.4 1812.1 2011.3 1809.7 2013.3 1807.4 2015.2 1805.1 2017.1 1802.8 2019.0 1800.5 2020.9 1798.2 2022.8 1795.9 2024.7 1793.6 2026.7 1791.3 2028.6 1789.0 2030.5 1786.7 2032.4 1784.3 2034.3 1782.0 2036.2 1779.7 2038.2 1777.4 2040.1 1775.1 2042.0 1772.8 2043.9 1770.5 2045.8 1768.2 2047.7 1765.9 2049.7 1763.6 2051.6 1761.3 2053.5 1759.0 2055.4 1756.6 2057.3 1754.3 2059.2 1752.0 2061.1 1749.7 2063.1 1747.4 2065.0 1745.1 2066.9 1742.8 2068.8 1740.5 2070.7 1738.2 2072.6 1735.9 2074.6 1733.6 2076.5 1731.2 2078.4 1728.9 2080.3 1726.6 2082.2 1724.3 2084.1 1722.0 2086.0 1719.7 2088.0 1717.4 2089.9 1715.1 2091.8 1712.8 2093.7 1710.5 2095.6 1708.2 2097.5 1705.9 2099.5 1703.5 2101.4 1701.2 2103.3 1698.9 2105.2 1696.6 2107.1 1694.3 2109.0 1692.0 2111.0 1689.7 2112.9 1687.4 2114.8 1685.1 2116.7 1682.8 2118.6 1680.5 2120.5 1678.1 2122.4 1675.8 2124.4 1673.5 2126.3 1671.2 2128.2 1668.9 2130.1 1666.6 2132.0 1664.3 2133.9 1662.0 2135.9 1659.7 2137.8 1657.4 2139.7 1655.1 2141.6 1652.7 2143.5 1650.4 2145.4 1648.1 2147.3 1645.8 2149.3 1643.5 2151.2 1641.2 2153.1 1638.9 2155.0 1636.6 2156.9 1634.3 2158.8 1632.0 2160.7 1629.7 2162.7 1627.3 2164.6 1625.0 2166.5 1622.7 2168.4 1620.4 2170.3 1618.1 2172.2 1615.8 2174.2 1613.5 2176.1 1611.2 2178.0 1608.9 2179.9 1606.6 2181.8 1604.3 2183.7 1601.9 2185.6 1599.6 2187.6 1597.3 2189.5 1595.0 2191.4 1592.7 2193.3 1590.4 2195.2 1588.1 2197.1 1585.8 2199.1 1583.5 2201.0 1581.2 2202.9 1578.9 2204.8 1576.5 2206.7 1574.2 2208.6 1571.9 2210.5 1569.6 2212.5 1567.3 2214.4 1565.0 2216.3 1562.7 2218.2 1560.4 2220.1 1558.1 2222.0 1555.8 2223.9 1553.4 2225.9 1551.1 2227.8 1548.8 2229.7 1546.5 2231.6 1544.2 2233.5 1541.9 2235.4 1539.6 2237.3 1537.3 2239.3 1535.0 2241.2 1532.7 2243.1 1530.4 2245.0 1528.0 2246.9 1525.7 2248.8 1523.4 2250.8 1521.1 2252.7 1518.8 2254.6 1516.5 2256.5 1514.2 2258.4 1511.9 2260.3 1509.6 2262.2 1507.3 2264.2 1504.9 2266.1 1502.6 2268.0 1500.3 2269.9 1498.0 2271.8 1495.7 2273.7 1493.4 2275.6 1491.1 2277.6 1488.8 2279.5 1486.5 2281.4 1484.2 2283.3 1481.8 2285.2 1479.5 2287.1 1477.2 2289.0 1474.9 2291.0 1472.6 2292.9 1470.3 2294.8 1468.0 2296.7 1465.7 2298.6 1463.4 2300.5 1461.1 2302.4 1458.7 2304.4 1456.4 2306.3 1454.1 2308.2 1451.8 2310.1 1449.5 2312.0 1447.2 2313.9 1444.9 2315.8 1442.6 2317.8 1440.3 2319.7 1438.0 2321.6 1435.6 2323.5 1433.3 2325.4 1431.0 2327.3 1428.7 2329.2 1426.4 2331.2 1424.1 2333.1 1421.8 2335.0 1419.5 2336.9 1417.2 2338.8 1414.9 2340.7 1412.5 2342.6 1410.2 2344.5 1407.9 2346.5 1405.6 2348.4 1403.3 2350.3 1401.0 2352.2 1398.7 2354.1 1396.4 2356.0 1394.1 2357.9 1391.8 2359.9 1389.4 2361.8 1387.1 2363.7 1384.8 2365.6 1382.5 2367.5 1380.2 2369.4 1377.9 2371.3 1375.6 2373.3 1373.3 2375.2 1371.0 2377.1 1368.6 2379.0 1366.3 2380.9 1364.0 2382.8 1361.7 2384.7 1359.4 2386.6 1357.1 2388.6 1354.8 2390.5 1352.5 2392.4 1350.2 2394.3 1347.9 2396.2 1345.5 2398.1 1343.2 2400.0 1340.9 2401.9 1338.6 2403.9 1336.3 2405.8 1334.0 2407.7 1331.7 2409.6 1329.4 2411.5 1327.1 2413.4 1324.7 2415.3 1322.4 2417.3 1320.1 2419.2 1317.8 2421.1 1315.5 2423.0 1313.2 2424.9 1310.9 2426.8 1308.6 2428.7 1306.3 2430.6 1303.9 2432.6 1301.6 2434.5 1299.3 2436.4 1297.0 2438.3 1294.7 2440.2 1292.4 2442.1 1290.1 2444.0 1287.8 2445.9 1285.4 2447.9 1283.1 2449.8 1280.8 2451.7 1278.5 2453.6 1276.2 2455.5 1273.9 2457.4 1271.6 2459.3 1269.3 2461.2 1267.0 2463.1 1264.6 2465.1 1262.3 2467.0 1260.0 2468.9 1257.7 2470.8 1255.4 2472.7 1253.1 2474.6 1250.8 2476.5 1248.5 2478.4 1246.1 2480.4 1243.8 2482.3 1241.5 2484.2 1239.2 2486.1 1236.9 2488.0 1234.6 2489.9 1232.3 2491.8 1230.0 2493.7 1227.6 2495.6 1225.3 2497.6 1223.0 2499.5 1220.7 2501.4 1218.4 2503.3 1216.1 2505.2 1213.8 2507.1 1211.5 2509.0 1209.1 2510.9 1206.8 2512.8 1204.5 2514.8 1202.2 2516.7 1199.9 2518.6 1197.6 2520.5 1195.3 2522.4 1193.0 2524.3 1190.6 2526.2 1188.3 2528.1 1186.0 2530.0 1183.7 2531.9 1181.4 2533.9 1179.1 2535.8 1176.8 2537.7 1174.5 2539.6 1172.1 2541.5 1169.8 2543.4 1167.5 2545.3 1165.2 2547.2 1162.9 2549.1 1160.6 2551.0 1158.3 2553.0 1155.9 2554.9 1153.6 2556.8 1151.3 2558.7 1149.0 2560.6 1146.7 2562.5 1144.4 2564.4 1142.1 2566.3 1139.7 2568.2 1137.4 2570.1 1135.1 2572.1 1132.8 2574.0 1130.5 2575.9 1128.2 2577.8 1125.9 2579.7 1123.5 2581.6 1121.2 2583.5 1118.9 2585.4 1116.6 2587.3 1114.3 2589.2 1112.0 2591.1 1109.7 2593.0 1107.3 2595.0 1105.0 2596.9 1102.7 2598.8 1100.4 2600.7 1098.1 2602.6 1095.8 2604.5 1093.4 2606.4 1091.1 2608.3 1088.8 2610.2 1086.5 2612.1 1084.2 2614.0 1081.9 2615.9 1079.6 2617.8 1077.2 2619.7 1074.9 2621.7 1072.6 2623.6 1070.3 2625.5 1068.0 2627.4 1065.7 2629.3 1063.3 2631.2 1061.0 2633.1 1058.7 2635.0 1056.4 2636.9 1054.1 2638.8 1051.8 2640.7 1049.4 2642.6 1047.1 2644.5 1044.8 2646.4 1042.5 2648.3 1040.2 2650.2 1037.8 2652.1 1035.5 2654.0 1033.2 2655.9 1030.9 2657.9 1028.6 2659.8 1026.3 2661.7 1023.9 2663.6 1021.6 2665.5 1019.3 2667.4 1017.0 2669.3 1014.7 2671.2 1012.3 2673.1 1010.0 2675.0 1007.7 2676.9 1005.4 2678.8 1003.1 2680.7 1000.7 2682.6 998.4 2684.5 996.1 2686.4 993.8 2688.3 991.5 2690.2 989.1 2692.1 986.8 2694.0 984.5 2695.9 982.2 2697.8 979.9 2699.7 977.5 2701.6 975.2 2703.5 972.9 2705.4 970.6 2707.3 968.3 2709.2 965.9 2711.1 963.6 2713.0 961.3 2714.9 959.0 2716.8 956.6 2718.7 954.3 2720.6 952.0 2722.5 949.7 2724.4 947.3 2726.3 945.0 2728.2 942.7 2730.1 940.4 2732.0 938.0 2733.9 935.7 2735.8 933.4 2737.7 931.1 2739.6 928.7 2741.5 926.4 2743.4 924.1 2745.2 921.8 2747.1 919.4 2749.0 917.1 2750.9 914.8 2752.8 912.5 2754.7 910.1 2756.6 907.8 2758.5 905.5 2760.4 903.1 2762.3 900.8 2764.2 898.5 2766.1 896.2 2768.0 893.8 2769.8 891.5 2771.7 889.2 2773.6 886.8 2775.5 884.5 2777.4 882.2 2779.3 879.8 2781.2 877.5 2783.1 875.2 2784.9 872.8 2786.8 870.5 2788.7 868.2 2790.6 865.8 2792.5 863.5 2794.4 861.2 2796.3 858.8 2798.1 856.5 2800.0 854.2 2801.9 851.8 2803.8 849.5 2805.7 847.1 2807.5 844.8 2809.4 842.5 2811.3 840.1 2813.2 837.8 2815.0 835.4 2816.9 833.1 2818.8 830.8 2820.7 828.4 2822.5 826.1 2824.4 823.7 2826.3 821.4 2828.2 819.0 2830.0 816.7 2831.9 814.3 2833.8 812.0 2835.6 809.6 2837.5 807.3 2839.3 804.9 2841.2 802.6 2843.1 800.2 2844.9 797.9 2846.8 795.5 2848.7 793.2 2850.5 790.8 2852.4 788.4 2854.2 786.1 2856.1 783.7 2857.9 781.4 2859.8 779.0 2861.6 776.6 2863.5 774.3 2865.3 771.9 2867.1 769.5 2869.0 767.2 2870.8 764.8 2872.7 762.4 2874.5 760.0 2876.3 757.6 2878.2 755.3 2880.0 752.9 2881.8 750.5 2883.6 748.1 2885.4 745.7 2887.3 743.3 2889.1 740.9 2890.9 738.6 2892.7 736.2 2894.5 733.8 2896.3 731.3 2898.1 728.9 2899.9 726.5 2901.7 724.1 2903.4 721.7 2905.2 719.3 2907.0 716.9 2908.8 714.4 2910.5 712.0 2912.3 709.6 2914.0 707.1 2915.8 704.7 2917.5 702.2 2919.3 699.8 2921.0 697.3 2922.7 694.9 2924.4 692.4 2926.1 689.9 2927.8 687.4 2929.5 684.9 2931.1 682.4 2932.8 679.9 2934.4 677.4 2936.1 674.9 2937.7 672.3 2939.3 669.8 2940.9 667.2 2942.5 664.7 2944.0 662.1 2945.6 659.5 2947.1 656.9 2948.6 654.3 2950.0 651.7 2951.5 649.0 2952.9 646.4 2954.3 643.7 2955.6 641.0 2956.9 638.3 2958.2 635.5 2959.5 632.8 2960.7 630.0 2961.8 627.2 2962.9 624.4 2964.0 621.6 2965.0 618.7 2965.9 615.9 2966.8 613.0 2967.7 610.1 2968.4 607.2 2969.1 604.3 2969.8 601.3 2970.3 598.4 2970.9 595.4 2971.3 592.4 2971.7 589.4 2972.1 586.5 2972.4 583.5 2972.6 580.5 2972.8 577.5 2973.0 574.5 2973.2 571.5 2973.3 568.5 2973.4 565.5 2973.5 562.5 2973.5 559.5 2973.6 556.5 2973.7 553.5 2973.7 550.5 2973.8 547.5 2973.9 544.5 2973.9 541.5 2974.0 538.5 2974.2 535.5 2974.3 532.5 2974.4 529.5 2974.6 526.5 2974.8 523.5 2975.1 520.5 2975.3 517.6 2975.7 514.6 2976.0 511.6 2976.4 508.6 2976.8 505.7 2977.2 502.7 2977.7 499.7 2978.3 496.8 2978.8 493.9 2979.4 490.9 2980.1 488.0 2980.8 485.1 2981.6 482.2 2982.4 479.4 2983.2 476.5 2984.1 473.7 2985.1 470.8 2986.1 468.0 2987.2 465.2 2988.3 462.5 2989.4 459.7 2990.6 457.0 2991.9 454.3 2993.2 451.6 2994.6 449.0 2996.0 446.4 2997.5 443.8 2999.1 441.3 3000.7 438.8 3002.3 436.3 3004.1 433.9 3005.8 431.6 3007.7 429.2 3009.6 426.9 3011.5 424.7 3013.5 422.5 3015.6 420.4 3017.7"/>
<path d="M1843.4 1950.0 L1842.1 1951.0 1839.8 1952.9 1837.5 1954.8 1835.2 1956.8 1832.9 1958.7 1830.6 1960.6 1828.3 1962.5 1825.9 1964.4 1823.6 1966.3 1821.3 1968.2 1819.0 1970.1 1816.7 1972.0 1814.4 1973.9 1812.1 1975.9 1809.8 1977.8 1807.4 1979.7 1805.1 1981.6 1802.8 1983.5 1800.5 1985.4 1798.2 1987.3 1795.9 1989.2 1793.6 1991.1 1791.2 1993.0 1788.9 1995.0 1786.6 1996.9 1784.3 1998.8 1782.0 2000.7 1779.7 2002.6 1777.4 2004.5 1775.0 2006.4 1772.7 2008.3 1770.4 2010.2 1768.1 2012.1 1765.8 2014.1 1763.5 2016.0 1761.2 2017.9 1758.9 2019.8 1756.5 2021.7 1754.2 2023.6 1751.9 2025.5 1749.6 2027.4 1747.3 2029.3 1745.0 2031.2 1742.7 2033.2 1740.3 2035.1 1738.0 2037.0 1735.7 2038.9 1733.4 2040.8 1731.1 2042.7 1728.8 2044.6 1726.5 2046.5 1724.2 2048.4 1721.8 2050.3 1719.5 2052.3 1717.2 2054.2 1714.9 2056.1 1712.6 2058.0 1710.3 2059.9 1708.0 2061.8 1705.6 2063.7 1703.3 2065.6 1701.0 2067.5 1698.7 2069.4 1696.4 2071.3 1694.1 2073.3 1691.8 2075.2 1689.5 2077.1 1687.1 2079.0 1684.8 2080.9 1682.5 2082.8 1680.2 2084.7 1677.9 2086.6 1675.6 2088.5 1673.3 2090.4 1670.9 2092.4 1668.6 2094.3 1666.3 2096.2 1664.0 2098.1 1661.7 2100.0 1659.4 2101.9 1657.1 2103.8 1654.7 2105.7 1652.4 2107.6 1650.1 2109.5 1647.8 2111.5 1645.5 2113.4 1643.2 2115.3 1640.9 2117.2 1638.6 2119.1 1636.2 2121.0 1633.9 2122.9 1631.6 2124.8 1629.3 2126.7 1627.0 2128.6 1624.7 2130.6 1622.4 2132.5 1620.0 2134.4 1617.7 2136.3 1615.4 2138.2 1613.1 2140.1 1610.8 2142.0 1608.5 2143.9 1606.2 2145.8 1603.8 2147.7 1601.5 2149.7 1599.2 2151.6 1596.9 2153.5 1594.6 2155.4 1592.3 2157.3 1590.0 2159.2 1587.7 2161.1 1585.3 2163.0 1583.0 2164.9 1580.7 2166.8 1578.4 2168.7 1576.1 2170.7 1573.8 2172.6 1571.5 2174.5 1569.1 2176.4 1566.8 2178.3 1564.5 2180.2 1562.2 2182.1 1559.9 2184.0 1557.6 2185.9 1555.3 2187.8 1552.9 2189.8 1550.6 2191.7 1548.3 2193.6 1546.0 2195.5 1543.7 2197.4 1541.4 2199.3 1539.1 2201.2 1536.8 2203.1 1534.4 2205.0 1532.1 2206.9 1529.8 2208.9 1527.5 2210.8 1525.2 2212.7 1522.9 2214.6 1520.6 2216.5 1518.2 2218.4 1515.9 2220.3 1513.6 2222.2 1511.3 2224.1 1509.0 2226.0 1506.7 2227.9 1504.4 2229.9 1502.0 2231.8 1499.7 2233.7 1497.4 2235.6 1495.1 2237.5 1492.8 2239.4 1490.5 2241.3 1488.2 2243.2 1485.8 2245.1 1483.5 2247.0 1481.2 2249.0 1478.9 2250.9 1476.6 2252.8 1474.3 2254.7 1472.0 2256.6 1469.7 2258.5 1467.3 2260.4 1465.0 2262.3 1462.7 2264.2 1460.4 2266.1 1458.1 2268.0 1455.8 2270.0 1453.5 2271.9 1451.1 2273.8 1448.8 2275.7 1446.5 2277.6 1444.2 2279.5 1441.9 2281.4 1439.6 2283.3 1437.3 2285.2 1434.9 2287.1 1432.6 2289.1 1430.3 2291.0 1428.0 2292.9 1425.7 2294.8 1423.4 2296.7 1421.1 2298.6 1418.7 2300.5 1416.4 2302.4 1414.1 2304.3 1411.8 2306.2 1409.5 2308.1 1407.2 2310.1 1404.9 2312.0 1402.5 2313.9 1400.2 2315.8 1397.9 2317.7 1395.6 2319.6 1393.3 2321.5 1391.0 2323.4 1388.7 2325.3 1386.4 2327.2 1384.0 2329.1 1381.7 2331.1 1379.4 2333.0 1377.1 2334.9 1374.8 2336.8 1372.5 2338.7 1370.2 2340.6 1367.8 2342.5 1365.5 2344.4 1363.2 2346.3 1360.9 2348.2 1358.6 2350.2 1356.3 2352.1 1354.0 2354.0 1351.6 2355.9 1349.3 2357.8 1347.0 2359.7 1344.7 2361.6 1342.4 2363.5 1340.1 2365.4 1337.8 2367.3 1335.4 2369.2 1333.1 2371.2 1330.8 2373.1 1328.5 2375.0 1326.2 2376.9 1323.9 2378.8 1321.6 2380.7 1319.2 2382.6 1316.9 2384.5 1314.6 2386.4 1312.3 2388.3 1310.0 2390.2 1307.7 2392.2 1305.4 2394.1 1303.0 2396.0 1300.7 2397.9 1298.4 2399.8 1296.1 2401.7 1293.8 2403.6 1291.5 2405.5 1289.2 2407.4 1286.8 2409.3 1284.5 2411.2 1282.2 2413.2 1279.9 2415.1 1277.6 2417.0 1275.3 2418.9 1273.0 2420.8 1270.6 2422.7 1268.3 2424.6 1266.0 2426.5 1263.7 2428.4 1261.4 2430.3 1259.1 2432.2 1256.8 2434.1 1254.4 2436.1 1252.1 2438.0 1249.8 2439.9 1247.5 2441.8 1245.2 2443.7 1242.9 2445.6 1240.6 2447.5 1238.2 2449.4 1235.9 2451.3 1233.6 2453.2 1231.3 2455.1 1229.0 2457.1 1226.7 2459.0 1224.4 2460.9 1222.0 2462.8 1219.7 2464.7 1217.4 2466.6 1215.1 2468.5 1212.8 2470.4 1210.5 2472.3 1208.2 2474.2 1205.8 2476.1 1203.5 2478.0 1201.2 2480.0 1198.9 2481.9 1196.6 2483.8 1194.3 2485.7 1192.0 2487.6 1189.6 2489.5 1187.3 2491.4 1185.0 2493.3 1182.7 2495.2 1180.4 2497.1 1178.1 2499.0 1175.7 2500.9 1173.4 2502.9 1171.1 2504.8 1168.8 2506.7 1166.5 2508.6 1164.2 2510.5 1161.9 2512.4 1159.5 2514.3 1157.2 2516.2 1154.9 2518.1 1152.6 2520.0 1150.3 2521.9 1148.0 2523.8 1145.7 2525.8 1143.3 2527.7 1141.0 2529.6 1138.7 2531.5 1136.4 2533.4 1134.1 2535.3 1131.8 2537.2 1129.4 2539.1 1127.1 2541.0 1124.8 2542.9 1122.5 2544.8 1120.2 2546.7 1117.9 2548.7 1115.6 2550.6 1113.2 2552.5 1110.9 2554.4 1108.6 2556.3 1106.3 2558.2 1104.0 2560.1 1101.7 2562.0 1099.4 2563.9 1097.0 2565.8 1094.7 2567.7 1092.4 2569.6 1090.1 2571.5 1087.8 2573.5 1085.5 2575.4 1083.1 2577.3 1080.8 2579.2 1078.5 2581.1 1076.2 2583.0 1073.9 2584.9 1071.6 2586.8 1069.3 2588.7 1066.9 2590.6 1064.6 2592.5 1062.3 2594.4 1060.0 2596.3 1057.7 2598.2 1055.4 2600.2 1053.0 2602.1 1050.7 2604.0 1048.4 2605.9 1046.1 2607.8 1043.8 2609.7 1041.5 2611.6 1039.1 2613.5 1036.8 2615.4 1034.5 2617.3 1032.2 2619.2 1029.9 2621.1 1027.6 2623.0 1025.2 2624.9 1022.9 2626.9 1020.6 2628.8 1018.3 2630.7 1016.0 2632.6 1013.7 2634.5 1011.4 2636.4 1009.0 2638.3 1006.7 2640.2 1004.4 2642.1 1002.1 2644.0 999.8 2645.9 997.5 2647.8 995.1 2649.7 992.8 2651.6 990.5 2653.5 988.2 2655.4 985.9 2657.4 983.6 2659.3 981.2 2661.2 978.9 2663.1 976.6 2665.0 974.3 2666.9 972.0 2668.8 969.7 2670.7 967.3 2672.6 965.0 2674.5 962.7 2676.4 960.4 2678.3 958.1 2680.2 955.7 2682.1 953.4 2684.0 951.1 2685.9 948.8 2687.8 946.5 2689.7 944.2 2691.7 941.8 2693.6 939.5 2695.5 937.2 2697.4 934.9 2699.3 932.6 2701.2 930.3 2703.1 927.9 2705.0 925.6 2706.9 923.3 2708.8 921.0 2710.7 918.7 2712.6 916.3 2714.5 914.0 2716.4 911.7 2718.3 909.4 2720.2 907.1 2722.1 904.8 2724.0 902.4 2725.9 900.1 2727.8 897.8 2729.7 895.5 2731.6 893.2 2733.5 890.8 2735.4 888.5 2737.3 886.2 2739.2 883.9 2741.2 881.6 2743.1 879.2 2745.0 876.9 2746.9 874.6 2748.8 872.3 2750.7 870.0 2752.6 867.6 2754.5 865.3 2756.4 863.0 2758.3 860.7 2760.2 858.4 2762.1 856.0 2764.0 853.7 2765.9 851.4 2767.8 849.1 2769.7 846.8 2771.6 844.4 2773.5 842.1 2775.4 839.8 2777.3 837.5 2779.2 835.1 2781.1 832.8 2783.0 830.5 2784.9 828.2 2786.8 825.9 2788.7 823.5 2790.6 821.2 2792.5 818.9 2794.4 816.6 2796.3 814.2 2798.2 811.9 2800.1 809.6 2802.0 807.3 2803.9 804.9 2805.7 802.6 2807.6 800.3 2809.5 798.0 2811.4 795.6 2813.3 793.3 2815.2 791.0 2817.1 788.7 2819.0 786.3 2820.9 784.0 2822.8 781.7 2824.7 779.4 2826.6 777.0 2828.5 774.7 2830.4 772.4 2832.3 770.0 2834.2 767.7 2836.0 765.4 2837.9 763.1 2839.8 760.7 2841.7 758.4 2843.6 756.1 2845.5 753.7 2847.4 751.4 2849.3 749.1 2851.2 746.7 2853.0 744.4 2854.9 742.1 2856.8 739.7 2858.7 737.4 2860.6 735.1 2862.5 732.7 2864.3 730.4 2866.2 728.1 2868.1 725.7 2870.0 723.4 2871.9 721.0 2873.7 718.7 2875.6 716.4 2877.5 714.0 2879.4 711.7 2881.2 709.3 2883.1 707.0 2885.0 704.6 2886.9 702.3 2888.7 699.9 2890.6 697.6 2892.5 695.2 2894.3 692.9 2896.2 690.5 2898.0 688.2 2899.9 685.8 2901.8 683.5 2903.6 681.1 2905.5 678.7 2907.3 676.4 2909.2 674.0 2911.0 671.6 2912.9 669.3 2914.7 666.9 2916.5 664.5 2918.4 662.1 2920.2 659.8 2922.0 657.4 2923.8 655.0 2925.6 652.6 2927.5 650.2 2929.3 647.8 2931.1 645.4 2932.9 643.0 2934.6 640.6 2936.4 638.2 2938.2 635.7 2940.0 633.3 2941.7 630.8 2943.5 628.4 2945.2 625.9 2946.9 623.5 2948.6 621.0 2950.3 618.5 2952.0 616.0 2953.6 613.5 2955.3 610.9 2956.9 608.4 2958.4 605.8 2960.0 603.2 2961.5 600.6 2963.0 598.0 2964.4 595.3 2965.7 592.6 2967.0 589.8 2968.2 587.1 2969.4 584.2 2970.4 581.4 2971.3 578.5 2972.0 575.5 2972.6 572.6 2973.0 569.6 2973.3 566.6 2973.4 563.6 2973.3 560.6 2973.0 557.6 2972.6 554.7 2972.1 551.7 2971.5 548.8 2970.9 545.9 2970.2 542.9 2969.5 540.0 2968.8 537.1 2968.1 534.2 2967.5 531.2 2966.8 528.3 2966.2 525.4 2965.7 522.4 2965.2 519.4 2964.7 516.5 2964.4 513.5 2964.0 510.5 2963.8 507.5 2963.6 504.5 2963.5 501.5 2963.5 498.5 2963.6 495.5 2963.8 492.5 2964.0 489.5 2964.3 486.5 2964.7 483.6 2965.2 480.6 2965.8 477.7 2966.5 474.8 2967.3 472.0 2968.1 469.1 2969.1 466.3 2970.2 463.6 2971.3 460.8 2972.6 458.2 2974.0 455.5 2975.4 453.0 2977.0 450.5 2978.7 448.1 2980.4 445.7 2982.3 443.5 2984.3 441.3 2986.4 439.3 2988.6 437.3 2990.9 435.5 2993.2 433.8 2995.7 432.2 2998.3 430.8 3000.9 429.6 3003.6 428.5 3006.4 427.6 3009.3 426.9 3012.2 426.3 3015.2"/>
<path d="M2056.9 1962.2 L2055.9 1963.0 2053.6 1965.0 2051.3 1966.9 2049.0 1968.8 2046.6 1970.7 2044.3 1972.6 2042.0 1974.5 2039.7 1976.4 2037.4 1978.3 2035.1 1980.2 2032.8 1982.1 2030.4 1984.1 2028.1 1986.0 2025.8 1987.9 2023.5 1989.8 2021.2 1991.7 2018.9 1993.6 2016.6 1995.5 2014.2 1997.4 2011.9 1999.3 2009.6 2001.2 2007.3 2003.1 2005.0 2005.1 2002.7 2007.0 2000.4 2008.9 1998.0 2010.8 1995.7 2012.7 1993.4 2014.6 1991.1 2016.5 1988.8 2018.4 1986.5 2020.3 1984.2 2022.2 1981.9 2024.2 1979.5 2026.1 1977.2 2028.0 1974.9 2029.9 1972.6 2031.8 1970.3 2033.7 1968.0 2035.6 1965.7 2037.5 1963.3 2039.4 1961.0 2041.3 1958.7 2043.2 1956.4 2045.2 1954.1 2047.1 1951.8 2049.0 1949.5 2050.9 1947.1 2052.8 1944.8 2054.7 1942.5 2056.6 1940.2 2058.5 1937.9 2060.4 1935.6 2062.3 1933.3 2064.3 1930.9 2066.2 1928.6 2068.1 1926.3 2070.0 1924.0 2071.9 1921.7 2073.8 1919.4 2075.7 1917.1 2077.6 1914.7 2079.5 1912.4 2081.4 1910.1 2083.3 1907.8 2085.3 1905.5 2087.2 1903.2 2089.1 1900.9 2091.0 1898.6 2092.9 1896.2 2094.8 1893.9 2096.7 1891.6 2098.6 1889.3 2100.5 1887.0 2102.4 1884.7 2104.3 1882.4 2106.3 1880.0 2108.2 1877.7 2110.1 1875.4 2112.0 1873.1 2113.9 1870.8 2115.8 1868.5 2117.7 1866.2 2119.6 1863.8 2121.5 1861.5 2123.4 1859.2 2125.3 1856.9 2127.3 1854.6 2129.2 1852.3 2131.1 1850.0 2133.0 1847.6 2134.9 1845.3 2136.8 1843.0 2138.7 1840.7 2140.6 1838.4 2142.5 1836.1 2144.4 1833.8 2146.3 1831.4 2148.3 1829.1 2150.2 1826.8 2152.1 1824.5 2154.0 1822.2 2155.9 1819.9 2157.8 1817.6 2159.7 1815.2 2161.6 1812.9 2163.5 1810.6 2165.4 1808.3 2167.3 1806.0 2169.3 1803.7 2171.2 1801.4 2173.1 1799.0 2175.0 1796.7 2176.9 1794.4 2178.8 1792.1 2180.7 1789.8 2182.6 1787.5 2184.5 1785.2 2186.4 1782.8 2188.3 1780.5 2190.3 1778.2 2192.2 1775.9 2194.1 1773.6 2196.0 1771.3 2197.9 1769.0 2199.8 1766.6 2201.7 1764.3 2203.6 1762.0 2205.5 1759.7 2207.4 1757.4 2209.3 1755.1 2211.3 1752.8 2213.2 1750.4 2215.1 1748.1 2217.0 1745.8 2218.9 1743.5 2220.8 1741.2 2222.7 1738.9 2224.6 1736.6 2226.5 1734.2 2228.4 1731.9 2230.3 1729.6 2232.3 1727.3 2234.2 1725.0 2236.1 1722.7 2238.0 1720.4 2239.9 1718.0 2241.8 1715.7 2243.7 1713.4 2245.6 1711.1 2247.5 1708.8 2249.4 1706.5 2251.3 1704.2 2253.2 1701.8 2255.2 1699.5 2257.1 1697.2 2259.0 1694.9 2260.9 1692.6 2262.8 1690.3 2264.7 1688.0 2266.6 1685.6 2268.5 1683.3 2270.4 1681.0 2272.3 1678.7 2274.2 1676.4 2276.1 1674.1 2278.1 1671.7 2280.0 1669.4 2281.9 1667.1 2283.8 1664.8 2285.7 1662.5 2287.6 1660.2 2289.5 1657.9 2291.4 1655.5 2293.3 1653.2 2295.2 1650.9 2297.1 1648.6 2299.0 1646.3 2301.0 1644.0 2302.9 1641.7 2304.8 1639.3 2306.7 1637.0 2308.6 1634.7 2310.5 1632.4 2312.4 1630.1 2314.3 1627.8 2316.2 1625.5 2318.1 1623.1 2320.0 1620.8 2321.9 1618.5 2323.9 1616.2 2325.8 1613.9 2327.7 1611.6 2329.6 1609.2 2331.5 1606.9 2333.4 1604.6 2335.3 1602.3 2337.2 1600.0 2339.1 1597.7 2341.0 1595.4 2342.9 1593.0 2344.8 1590.7 2346.8 1588.4 2348.7 1586.1 2350.6 1583.8 2352.5 1581.5 2354.4 1579.2 2356.3 1576.8 2358.2 1574.5 2360.1 1572.2 2362.0 1569.9 2363.9 1567.6 2365.8 1565.3 2367.7 1562.9 2369.6 1560.6 2371.6 1558.3 2373.5 1556.0 2375.4 1553.7 2377.3 1551.4 2379.2 1549.1 2381.1 1546.7 2383.0 1544.4 2384.9 1542.1 2386.8 1539.8 2388.7 1537.5 2390.6 1535.2 2392.5 1532.8 2394.4 1530.5 2396.4 1528.2 2398.3 1525.9 2400.2 1523.6 2402.1 1521.3 2404.0 1519.0 2405.9 1516.6 2407.8 1514.3 2409.7 1512.0 2411.6 1509.7 2413.5 1507.4 2415.4 1505.1 2417.3 1502.7 2419.2 1500.4 2421.1 1498.1 2423.1 1495.8 2425.0 1493.5 2426.9 1491.2 2428.8 1488.8 2430.7 1486.5 2432.6 1484.2 2434.5 1481.9 2436.4 1479.6 2438.3 1477.3 2440.2 1475.0 2442.1 1472.6 2444.0 1470.3 2445.9 1468.0 2447.8 1465.7 2449.8 1463.4 2451.7 1461.1 2453.6 1458.7 2455.5 1456.4 2457.4 1454.1 2459.3 1451.8 2461.2 1449.5 2463.1 1447.2 2465.0 1444.8 2466.9 1442.5 2468.8 1440.2 2470.7 1437.9 2472.6 1435.6 2474.5 1433.3 2476.4 1430.9 2478.4 1428.6 2480.3 1426.3 2482.2 1424.0 2484.1 1421.7 2486.0 1419.4 2487.9 1417.0 2489.8 1414.7 2491.7 1412.4 2493.6 1410.1 2495.5 1407.8 2497.4 1405.5 2499.3 1403.1 2501.2 1400.8 2503.1 1398.5 2505.0 1396.2 2506.9 1393.9 2508.8 1391.6 2510.8 1389.2 2512.7 1386.9 2514.6 1384.6 2516.5 1382.3 2518.4 1380.0 2520.3 1377.7 2522.2 1375.3 2524.1 1373.0 2526.0 1370.7 2527.9 1368.4 2529.8 1366.1 2531.7 1363.8 2533.6 1361.4 2535.5 1359.1 2537.4 1356.8 2539.3 1354.5 2541.2 1352.2 2543.1 1349.8 2545.0 1347.5 2547.0 1345.2 2548.9 1342.9 2550.8 1340.6 2552.7 1338.3 2554.6 1335.9 2556.5 1333.6 2558.4 1331.3 2560.3 1329.0 2562.2 1326.7 2564.1 1324.4 2566.0 1322.0 2567.9 1319.7 2569.8 1317.4 2571.7 1315.1 2573.6 1312.8 2575.5 1310.4 2577.4 1308.1 2579.3 1305.8 2581.2 1303.5 2583.1 1301.2 2585.0 1298.8 2586.9 1296.5 2588.8 1294.2 2590.7 1291.9 2592.7 1289.6 2594.6 1287.3 2596.5 1284.9 2598.4 1282.6 2600.3 1280.3 2602.2 1278.0 2604.1 1275.7 2606.0 1273.3 2607.9 1271.0 2609.8 1268.7 2611.7 1266.4 2613.6 1264.1 2615.5 1261.7 2617.4 1259.4 2619.3 1257.1 2621.2 1254.8 2623.1 1252.5 2625.0 1250.1 2626.9 1247.8 2628.8 1245.5 2630.7 1243.2 2632.6 1240.9 2634.5 1238.5 2636.4 1236.2 2638.3 1233.9 2640.2 1231.6 2642.1 1229.3 2644.0 1226.9 2645.9 1224.6 2647.8 1222.3 2649.7 1220.0 2651.6 1217.7 2653.5 1215.3 2655.4 1213.0 2657.3 1210.7 2659.2 1208.4 2661.1 1206.0 2663.0 1203.7 2664.9 1201.4 2666.8 1199.1 2668.7 1196.8 2670.6 1194.4 2672.5 1192.1 2674.4 1189.8 2676.3 1187.5 2678.2 1185.1 2680.1 1182.8 2682.0 1180.5 2683.9 1178.2 2685.8 1175.8 2687.7 1173.5 2689.6 1171.2 2691.5 1168.9 2693.4 1166.6 2695.3 1164.2 2697.2 1161.9 2699.1 1159.6 2701.0 1157.3 2702.9 1154.9 2704.8 1152.6 2706.7 1150.3 2708.6 1148.0 2710.5 1145.6 2712.4 1143.3 2714.2 1141.0 2716.1 1138.7 2718.0 1136.3 2719.9 1134.0 2721.8 1131.7 2723.7 1129.3 2725.6 1127.0 2727.5 1124.7 2729.4 1122.4 2731.3 1120.0 2733.2 1117.7 2735.1 1115.4 2737.0 1113.1 2738.9 1110.7 2740.8 1108.4 2742.6 1106.1 2744.5 1103.7 2746.4 1101.4 2748.3 1099.1 2750.2 1096.8 2752.1 1094.4 2754.0 1092.1 2755.9 1089.8 2757.8 1087.4 2759.7 1085.1 2761.5 1082.8 2763.4 1080.4 2765.3 1078.1 2767.2 1075.8 2769.1 1073.4 2771.0 1071.1 2772.9 1068.8 2774.7 1066.4 2776.6 1064.1 2778.5 1061.8 2780.4 1059.4 2782.3 1057.1 2784.2 1054.8 2786.0 1052.4 2787.9 1050.1 2789.8 1047.7 2791.7 1045.4 2793.6 1043.1 2795.4 1040.7 2797.3 1038.4 2799.2 1036.0 2801.1 1033.7 2803.0 1031.4 2804.8 1029.0 2806.7 1026.7 2808.6 1024.3 2810.5 1022.0 2812.3 1019.6 2814.2 1017.3 2816.1 1015.0 2817.9 1012.6 2819.8 1010.3 2821.7 1007.9 2823.5 1005.6 2825.4 1003.2 2827.3 1000.9 2829.1 998.5 2831.0 996.2 2832.9 993.8 2834.7 991.5 2836.6 989.1 2838.4 986.7 2840.3 984.4 2842.2 982.0 2844.0 979.7 2845.9 977.3 2847.7 974.9 2849.6 972.6 2851.4 970.2 2853.2 967.8 2855.1 965.5 2856.9 963.1 2858.8 960.7 2860.6 958.4 2862.4 956.0 2864.3 953.6 2866.1 951.2 2867.9 948.8 2869.8 946.5 2871.6 944.1 2873.4 941.7 2875.2 939.3 2877.0 936.9 2878.8 934.5 2880.6 932.1 2882.4 929.7 2884.2 927.3 2886.0 924.9 2887.8 922.5 2889.6 920.1 2891.4 917.7 2893.2 915.2 2894.9 912.8 2896.7 910.4 2898.5 907.9 2900.2 905.5 2902.0 903.1 2903.7 900.6 2905.4 898.1 2907.1 895.7 2908.9 893.2 2910.6 890.7 2912.2 888.2 2913.9 885.7 2915.6 883.2 2917.2 880.7 2918.9 878.2 2920.5 875.7 2922.1 873.1 2923.7 870.6 2925.3 868.0 2926.8 865.4 2928.3 862.8 2929.8 860.2 2931.3 857.6 2932.8 854.9 2934.2 852.3 2935.5 849.6 2936.8 846.8 2938.1 844.1 2939.3 841.3 2940.5 838.6 2941.6 835.7 2942.6 832.9 2943.6 830.0 2944.4 827.1 2945.2 824.2 2945.9 821.2 2946.4 818.3 2946.8 815.3 2947.1 812.3 2947.2 809.3 2947.2 806.3 2947.1 803.3 2946.8 800.3 2946.3 797.4 2945.8 794.5 2945.1 791.6 2944.3 788.7 2943.4 785.9 2942.4 783.0 2941.4 780.3 2940.3 777.5 2939.2 774.7 2938.0 772.0 2936.7 769.3 2935.5 766.6 2934.2 763.9 2932.9 761.2 2931.6 758.5 2930.3 755.8 2929.0 753.1 2927.6 750.4 2926.3 747.7 2925.0 745.0 2923.7 742.3 2922.4 739.5 2921.2 736.8 2919.9 734.1 2918.6 731.4 2917.4 728.6 2916.2 725.8 2915.0 723.1 2913.9 720.3 2912.7 717.5 2911.6 714.7 2910.5 711.9 2909.4 709.1 2908.4 706.3 2907.4 703.5 2906.4 700.6 2905.4 697.8 2904.5 694.9 2903.6 692.0 2902.7 689.2 2901.9 686.3 2901.1 683.4 2900.3 680.5 2899.5 677.6 2898.8 674.6 2898.1 671.7 2897.5 668.8 2896.9 665.8 2896.3 662.9 2895.7 659.9 2895.2 657.0 2894.7 654.0 2894.2 651.0 2893.8 648.1 2893.4 645.1 2893.0 642.1 2892.7 639.1 2892.4 636.1 2892.2 633.1 2891.9 630.1 2891.8 627.1 2891.6 624.1 2891.5 621.1 2891.4 618.1 2891.4 615.1 2891.3 612.2 2891.4 609.2 2891.4 606.2 2891.5 603.2 2891.7 600.2 2891.8 597.2 2892.0 594.2 2892.3 591.2 2892.5 588.2 2892.8 585.2 2893.2 582.2 2893.6 579.3 2894.0 576.3 2894.4 573.4 2894.9 570.4 2895.5 567.5 2896.0 564.5 2896.6 561.6 2897.3 558.7 2898.0 555.8 2898.7 552.8 2899.4 550.0 2900.2 547.1 2901.1 544.2 2901.9 541.3 2902.8 538.5 2903.8 535.7 2904.8 532.8 2905.8 530.0 2906.8 527.2 2907.9 524.5 2909.1 521.7 2910.3 519.0 2911.5 516.2 2912.7 513.5 2914.0 510.8 2915.3 508.2 2916.7 505.5 2918.1 502.9 2919.6 500.3 2921.1 497.7 2922.6 495.1 2924.2 492.6 2925.8 490.1 2927.4 487.6 2929.1 485.2 2930.8 482.7 2932.6 480.3 2934.4 478.0 2936.2 475.6 2938.1 473.3 2940.0 471.1 2942.0 468.8 2944.0 466.6 2946.0 464.4 2948.1 462.3 2950.2 460.2 2952.3 458.2 2954.5 456.2 2956.7 454.2 2959.0 452.3 2961.3 450.4 2963.6 448.5 2966.0 446.7 2968.4 445.0 2970.9 443.3 2973.3 441.6 2975.8 440.0 2978.4 438.5 2981.0 437.0 2983.6 435.6 2986.2 434.2 2988.9 432.9 2991.5 431.6 2994.3 430.4 2997.0 429.3 2999.8 428.2 3002.6 427.2 3005.4 426.2 3008.3 425.3 3011.1"/>
<path d="M1816.6 2304.0 L1816.4 2304.3 1814.0 2306.2 1811.7 2308.1 1809.4 2310.0 1807.1 2311.9 1804.8 2313.8 1802.5 2315.7 1800.2 2317.6 1797.8 2319.6 1795.5 2321.5 1793.2 2323.4 1790.9 2325.3 1788.6 2327.2 1786.3 2329.1 1784.0 2331.0 1781.6 2332.9 1779.3 2334.8 1777.0 2336.7 1774.7 2338.6 1772.4 2340.6 1770.1 2342.5 1767.8 2344.4 1765.4 2346.3 1763.1 2348.2 1760.8 2350.1 1758.5 2352.0 1756.2 2353.9 1753.9 2355.8 1751.6 2357.7 1749.3 2359.6 1746.9 2361.6 1744.6 2363.5 1742.3 2365.4 1740.0 2367.3 1737.7 2369.2 1735.4 2371.1 1733.1 2373.0 1730.7 2374.9 1728.4 2376.8 1726.1 2378.7 1723.8 2380.6 1721.5 2382.6 1719.2 2384.5 1716.9 2386.4 1714.5 2388.3 1712.2 2390.2 1709.9 2392.1 1707.6 2394.0 1705.3 2395.9 1703.0 2397.8 1700.7 2399.7 1698.3 2401.6 1696.0 2403.6 1693.7 2405.5 1691.4 2407.4 1689.1 2409.3 1686.8 2411.2 1684.5 2413.1 1682.1 2415.0 1679.8 2416.9 1677.5 2418.8 1675.2 2420.7 1672.9 2422.6 1670.6 2424.6 1668.3 2426.5 1665.9 2428.4 1663.6 2430.3 1661.3 2432.2 1659.0 2434.1 1656.7 2436.0 1654.4 2437.9 1652.1 2439.8 1649.7 2441.7 1647.4 2443.6 1645.1 2445.6 1642.8 2447.5 1640.5 2449.4 1638.2 2451.3 1635.9 2453.2 1633.5 2455.1 1631.2 2457.0 1628.9 2458.9 1626.6 2460.8 1624.3 2462.7 1622.0 2464.6 1619.7 2466.6 1617.3 2468.5 1615.0 2470.4 1612.7 2472.3 1610.4 2474.2 1608.1 2476.1 1605.8 2478.0 1603.5 2479.9 1601.1 2481.8 1598.8 2483.7 1596.5 2485.6 1594.2 2487.5 1591.9 2489.5 1589.6 2491.4 1587.2 2493.3 1584.9 2495.2 1582.6 2497.1 1580.3 2499.0 1578.0 2500.9 1575.7 2502.8 1573.4 2504.7 1571.0 2506.6 1568.7 2508.5 1566.4 2510.4 1564.1 2512.4 1561.8 2514.3 1559.5 2516.2 1557.2 2518.1 1554.8 2520.0 1552.5 2521.9 1550.2 2523.8 1547.9 2525.7 1545.6 2527.6 1543.3 2529.5 1541.0 2531.4 1538.6 2533.3 1536.3 2535.3 1534.0 2537.2 1531.7 2539.1 1529.4 2541.0 1527.1 2542.9 1524.7 2544.8 1522.4 2546.7 1520.1 2548.6 1517.8 2550.5 1515.5 2552.4 1513.2 2554.3 1510.9 2556.2 1508.5 2558.1 1506.2 2560.1 1503.9 2562.0 1501.6 2563.9 1499.3 2565.8 1497.0 2567.7 1494.6 2569.6 1492.3 2571.5 1490.0 2573.4 1487.7 2575.3 1485.4 2577.2 1483.1 2579.1 1480.8 2581.0 1478.4 2582.9 1476.1 2584.9 1473.8 2586.8 1471.5 2588.7 1469.2 2590.6 1466.9 2592.5 1464.5 2594.4 1462.2 2596.3 1459.9 2598.2 1457.6 2600.1 1455.3 2602.0 1453.0 2603.9 1450.7 2605.8 1448.3 2607.7 1446.0 2609.6 1443.7 2611.6 1441.4 2613.5 1439.1 2615.4 1436.8 2617.3 1434.4 2619.2 1432.1 2621.1 1429.8 2623.0 1427.5 2624.9 1425.2 2626.8 1422.9 2628.7 1420.5 2630.6 1418.2 2632.5 1415.9 2634.4 1413.6 2636.3 1411.3 2638.2 1409.0 2640.2 1406.6 2642.1 1404.3 2644.0 1402.0 2645.9 1399.7 2647.8 1397.4 2649.7 1395.1 2651.6 1392.7 2653.5 1390.4 2655.4 1388.1 2657.3 1385.8 2659.2 1383.5 2661.1 1381.2 2663.0 1378.8 2664.9 1376.5 2666.8 1374.2 2668.7 1371.9 2670.6 1369.6 2672.5 1367.3 2674.5 1364.9 2676.4 1362.6 2678.3 1360.3 2680.2 1358.0 2682.1 1355.7 2684.0 1353.3 2685.9 1351.0 2687.8 1348.7 2689.7 1346.4 2691.6 1344.1 2693.5 1341.8 2695.4 1339.4 2697.3 1337.1 2699.2 1334.8 2701.1 1332.5 2703.0 1330.2 2704.9 1327.8 2706.8 1325.5 2708.7 1323.2 2710.6 1320.9 2712.5 1318.6 2714.4 1316.3 2716.3 1313.9 2718.3 1311.6 2720.2 1309.3 2722.1 1307.0 2724.0 1304.7 2725.9 1302.3 2727.8 1300.0 2729.7 1297.7 2731.6 1295.4 2733.5 1293.1 2735.4 1290.7 2737.3 1288.4 2739.2 1286.1 2741.1 1283.8 2743.0 1281.5 2744.9 1279.1 2746.8 1276.8 2748.7 1274.5 2750.6 1272.2 2752.5 1269.9 2754.4 1267.5 2756.3 1265.2 2758.2 1262.9 2760.1 1260.6 2762.0 1258.2 2763.9 1255.9 2765.8 1253.6 2767.7 1251.3 2769.6 1249.0 2771.5 1246.6 2773.4 1244.3 2775.3 1242.0 2777.2 1239.7 2779.1 1237.3 2781.0 1235.0 2782.9 1232.7 2784.8 1230.4 2786.7 1228.0 2788.6 1225.7 2790.5 1223.4 2792.4 1221.1 2794.3 1218.8 2796.2 1216.4 2798.0 1214.1 2799.9 1211.8 2801.8 1209.4 2803.7 1207.1 2805.6 1204.8 2807.5 1202.5 2809.4 1200.1 2811.3 1197.8 2813.2 1195.5 2815.1 1193.2 2817.0 1190.8 2818.9 1188.5 2820.8 1186.2 2822.7 1183.8 2824.5 1181.5 2826.4 1179.2 2828.3 1176.8 2830.2 1174.5 2832.1 1172.2 2834.0 1169.9 2835.9 1167.5 2837.8 1165.2 2839.6 1162.8 2841.5 1160.5 2843.4 1158.2 2845.3 1155.8 2847.2 1153.5 2849.1 1151.2 2850.9 1148.8 2852.8 1146.5 2854.7 1144.2 2856.6 1141.8 2858.5 1139.5 2860.3 1137.1 2862.2 1134.8 2864.1 1132.4 2866.0 1130.1 2867.8 1127.8 2869.7 1125.4 2871.6 1123.1 2873.4 1120.7 2875.3 1118.4 2877.2 1116.0 2879.0 1113.7 2880.9 1111.3 2882.8 1109.0 2884.6 1106.6 2886.5 1104.2 2888.3 1101.9 2890.2 1099.5 2892.0 1097.2 2893.9 1094.8 2895.7 1092.4 2897.6 1090.0 2899.4 1087.7 2901.2 1085.3 2903.1 1082.9 2904.9 1080.5 2906.7 1078.2 2908.5 1075.8 2910.4 1073.4 2912.2 1071.0 2914.0 1068.6 2915.8 1066.2 2917.6 1063.8 2919.4 1061.4 2921.2 1059.0 2922.9 1056.5 2924.7 1054.1 2926.5 1051.7 2928.2 1049.2 2930.0 1046.8 2931.7 1044.3 2933.4 1041.9 2935.1 1039.4 2936.8 1036.9 2938.5 1034.4 2940.2 1031.9 2941.8 1029.4 2943.4 1026.8 2945.0 1024.3 2946.6 1021.7 2948.1 1019.1 2949.6 1016.5 2951.1 1013.8 2952.5 1011.1 2953.8 1008.4 2955.1 1005.7 2956.4 1002.9 2957.5 1000.1 2958.5 997.3 2959.5 994.4 2960.2 991.4 2960.9 988.5 2961.3 985.5 2961.5 982.5 2961.5 979.5 2961.2 976.5 2960.7 973.6 2959.9 970.8 2958.9 968.1 2957.7 965.4 2956.3 962.8 2954.8 960.3 2953.2 957.8 2951.5 955.4 2949.7 953.1 2947.8 950.8 2945.9 948.5 2944.0 946.2 2942.0 944.0 2940.0 941.7 2938.0 939.5 2936.0 937.3 2933.9 935.1 2931.9 932.9 2929.9 930.7 2927.9 928.5 2925.8 926.2 2923.8 924.0 2921.8 921.8 2919.8 919.5 2917.8 917.2 2915.9 915.0 2913.9 912.7 2912.0 910.4 2910.0 908.1 2908.1 905.8 2906.2 903.4 2904.3 901.1 2902.5 898.7 2900.6 896.3 2898.8 893.9 2897.0 891.5 2895.2 889.1 2893.5 886.6 2891.7 884.2 2890.0 881.7 2888.3 879.2 2886.6 876.7 2885.0 874.2 2883.3 871.7 2881.7 869.1 2880.1 866.6 2878.6 864.0 2877.0 861.4 2875.5 858.8 2874.0 856.2 2872.6 853.6 2871.1 850.9 2869.7 848.3 2868.3 845.6 2866.9 842.9 2865.6 840.2 2864.2 837.5 2862.9 834.8 2861.7 832.1 2860.4 829.3 2859.2 826.6 2858.0 823.8 2856.8 821.1 2855.7 818.3 2854.6 815.5 2853.5 812.7 2852.4 809.9 2851.3 807.0 2850.3 804.2 2849.3 801.4 2848.3 798.5 2847.4 795.7 2846.5 792.8 2845.6 789.9 2844.7 787.1 2843.9 784.2 2843.1 781.3 2842.3 778.4 2841.5 775.5 2840.8 772.6 2840.1 769.6 2839.4 766.7 2838.7 763.8 2838.1 760.8 2837.5 757.9 2836.9 755.0 2836.3 752.0 2835.8 749.0 2835.3 746.1 2834.8 743.1 2834.4 740.1 2833.9 737.2 2833.5 734.2 2833.1 731.2 2832.8 728.2 2832.5 725.2 2832.2 722.3 2831.9 719.3 2831.7 716.3 2831.5 713.3 2831.3 710.3 2831.1 707.3 2831.0 704.3 2830.8 701.3 2830.8 698.3 2830.7 695.3 2830.7 692.3 2830.7 689.3 2830.7 686.3 2830.7 683.3 2830.8 680.3 2830.9 677.3 2831.0 674.3 2831.2 671.3 2831.4 668.3 2831.6 665.3 2831.8 662.3 2832.1 659.3 2832.3 656.4 2832.7 653.4 2833.0 650.4 2833.4 647.4 2833.7 644.5 2834.2 641.5 2834.6 638.5 2835.1 635.6 2835.6 632.6 2836.1 629.7 2836.7 626.7 2837.2 623.8 2837.8 620.9 2838.5 617.9 2839.1 615.0 2839.8 612.1 2840.5 609.2 2841.3 606.3 2842.1 603.4 2842.8 600.5 2843.7 597.6 2844.5 594.8 2845.4 591.9 2846.3 589.1 2847.2 586.2 2848.2 583.4 2849.2 580.6 2850.2 577.7 2851.2 574.9 2852.3 572.1 2853.4 569.4 2854.5 566.6 2855.7 563.8 2856.8 561.1 2858.1 558.4 2859.3 555.6 2860.5 552.9 2861.8 550.2 2863.2 547.5 2864.5 544.9 2865.9 542.2 2867.3 539.6 2868.7 537.0 2870.1 534.4 2871.6 531.8 2873.1 529.2 2874.7 526.6 2876.2 524.1 2877.8 521.6 2879.5 519.0 2881.1 516.6 2882.8 514.1 2884.5 511.6 2886.2 509.2 2888.0 506.8 2889.8 504.4 2891.6 502.0 2893.4 499.7 2895.3 497.4 2897.2 495.1 2899.1 492.8 2901.0 490.5 2903.0 488.3 2905.0 486.1 2907.0 483.9 2909.1 481.7 2911.2 479.6 2913.3 477.5 2915.4 475.4 2917.6 473.4 2919.8 471.3 2922.0 469.3 2924.2 467.4 2926.5 465.4 2928.8 463.5 2931.1 461.7 2933.4 459.8 2935.8 458.0 2938.2 456.2 2940.6 454.5 2943.1 452.8 2945.5 451.1 2948.0 449.4 2950.5 447.8 2953.0 446.3 2955.6 444.7 2958.2 443.2 2960.8 441.8 2963.4 440.3 2966.0 438.9 2968.7 437.6 2971.4 436.3 2974.1 435.0 2976.8 433.8 2979.5 432.6 2982.3 431.5 2985.1 430.4 2987.9 429.3 2990.7 428.3 2993.5 427.3 2996.3"/>
<path d="M1985.8 1770.3 L1985.3 1770.7 1983.0 1772.6 1980.7 1774.5 1978.4 1776.4 1976.1 1778.3 1973.8 1780.3 1971.5 1782.2 1969.2 1784.1 1966.9 1786.0 1964.5 1787.9 1962.2 1789.8 1959.9 1791.7 1957.6 1793.6 1955.3 1795.6 1953.0 1797.5 1950.7 1799.4 1948.4 1801.3 1946.1 1803.2 1943.8 1805.1 1941.4 1807.0 1939.1 1809.0 1936.8 1810.9 1934.5 1812.8 1932.2 1814.7 1929.9 1816.6 1927.6 1818.5 1925.3 1820.4 1923.0 1822.4 1920.7 1824.3 1918.3 1826.2 1916.0 1828.1 1913.7 1830.0 1911.4 1831.9 1909.1 1833.8 1906.8 1835.8 1904.5 1837.7 1902.2 1839.6 1899.9 1841.5 1897.6 1843.4 1895.2 1845.3 1892.9 1847.2 1890.6 1849.2 1888.3 1851.1 1886.0 1853.0 1883.7 1854.9 1881.4 1856.8 1879.1 1858.7 1876.8 1860.6 1874.5 1862.6 1872.1 1864.5 1869.8 1866.4 1867.5 1868.3 1865.2 1870.2 1862.9 1872.1 1860.6 1874.0 1858.3 1876.0 1856.0 1877.9 1853.7 1879.8 1851.4 1881.7 1849.0 1883.6 1846.7 1885.5 1844.4 1887.4 1842.1 1889.4 1839.8 1891.3 1837.5 1893.2 1835.2 1895.1 1832.9 1897.0 1830.6 1898.9 1828.3 1900.8 1825.9 1902.8 1823.6 1904.7 1821.3 1906.6 1819.0 1908.5 1816.7 1910.4 1814.4 1912.3 1812.1 1914.2 1809.8 1916.2 1807.5 1918.1 1805.2 1920.0 1802.8 1921.9 1800.5 1923.8 1798.2 1925.7 1795.9 1927.6 1793.6 1929.6 1791.3 1931.5 1789.0 1933.4 1786.7 1935.3 1784.4 1937.2 1782.1 1939.1 1779.7 1941.0 1777.4 1943.0 1775.1 1944.9 1772.8 1946.8 1770.5 1948.7 1768.2 1950.6 1765.9 1952.5 1763.6 1954.4 1761.3 1956.4 1759.0 1958.3 1756.6 1960.2 1754.3 1962.1 1752.0 1964.0 1749.7 1965.9 1747.4 1967.8 1745.1 1969.8 1742.8 1971.7 1740.5 1973.6 1738.2 1975.5 1735.9 1977.4 1733.5 1979.3 1731.2 1981.2 1728.9 1983.2 1726.6 1985.1 1724.3 1987.0 1722.0 1988.9 1719.7 1990.8 1717.4 1992.7 1715.1 1994.6 1712.8 1996.6 1710.5 1998.5 1708.1 2000.4 1705.8 2002.3 1703.5 2004.2 1701.2 2006.1 1698.9 2008.0 1696.6 2010.0 1694.3 2011.9 1692.0 2013.8 1689.7 2015.7 1687.4 2017.6 1685.0 2019.5 1682.7 2021.4 1680.4 2023.4 1678.1 2025.3 1675.8 2027.2 1673.5 2029.1 1671.2 2031.0 1668.9 2032.9 1666.6 2034.8 1664.3 2036.8 1661.9 2038.7 1659.6 2040.6 1657.3 2042.5 1655.0 2044.4 1652.7 2046.3 1650.4 2048.2 1648.1 2050.2 1645.8 2052.1 1643.5 2054.0 1641.2 2055.9 1638.8 2057.8 1636.5 2059.7 1634.2 2061.6 1631.9 2063.6 1629.6 2065.5 1627.3 2067.4 1625.0 2069.3 1622.7 2071.2 1620.4 2073.1 1618.1 2075.0 1615.7 2077.0 1613.4 2078.9 1611.1 2080.8 1608.8 2082.7 1606.5 2084.6 1604.2 2086.5 1601.9 2088.4 1599.6 2090.4 1597.3 2092.3 1595.0 2094.2 1592.7 2096.1 1590.3 2098.0 1588.0 2099.9 1585.7 2101.8 1583.4 2103.8 1581.1 2105.7 1578.8 2107.6 1576.5 2109.5 1574.2 2111.4 1571.9 2113.3 1569.6 2115.2 1567.2 2117.2 1564.9 2119.1 1562.6 2121.0 1560.3 2122.9 1558.0 2124.8 1555.7 2126.7 1553.4 2128.6 1551.1 2130.6 1548.8 2132.5 1546.5 2134.4 1544.1 2136.3 1541.8 2138.2 1539.5 2140.1 1537.2 2142.1 1534.9 2144.0 1532.6 2145.9 1530.3 2147.8 1528.0 2149.7 1525.7 2151.6 1523.4 2153.5 1521.0 2155.5 1518.7 2157.4 1516.4 2159.3 1514.1 2161.2 1511.8 2163.1 1509.5 2165.0 1507.2 2166.9 1504.9 2168.9 1502.6 2170.8 1500.3 2172.7 1498.0 2174.6 1495.6 2176.5 1493.3 2178.4 1491.0 2180.3 1488.7 2182.3 1486.4 2184.2 1484.1 2186.1 1481.8 2188.0 1479.5 2189.9 1477.2 2191.8 1474.9 2193.7 1472.5 2195.7 1470.2 2197.6 1467.9 2199.5 1465.6 2201.4 1463.3 2203.3 1461.0 2205.2 1458.7 2207.1 1456.4 2209.1 1454.1 2211.0 1451.8 2212.9 1449.4 2214.8 1447.1 2216.7 1444.8 2218.6 1442.5 2220.5 1440.2 2222.5 1437.9 2224.4 1435.6 2226.3 1433.3 2228.2 1431.0 2230.1 1428.7 2232.0 1426.4 2233.9 1424.0 2235.9 1421.7 2237.8 1419.4 2239.7 1417.1 2241.6 1414.8 2243.5 1412.5 2245.4 1410.2 2247.3 1407.9 2249.3 1405.6 2251.2 1403.3 2253.1 1400.9 2255.0 1398.6 2256.9 1396.3 2258.8 1394.0 2260.8 1391.7 2262.7 1389.4 2264.6 1387.1 2266.5 1384.8 2268.4 1382.5 2270.3 1380.2 2272.2 1377.8 2274.2 1375.5 2276.1 1373.2 2278.0 1370.9 2279.9 1368.6 2281.8 1366.3 2283.7 1364.0 2285.6 1361.7 2287.6 1359.4 2289.5 1357.1 2291.4 1354.8 2293.3 1352.4 2295.2 1350.1 2297.1 1347.8 2299.0 1345.5 2301.0 1343.2 2302.9 1340.9 2304.8 1338.6 2306.7 1336.3 2308.6 1334.0 2310.5 1331.7 2312.4 1329.3 2314.4 1327.0 2316.3 1324.7 2318.2 1322.4 2320.1 1320.1 2322.0 1317.8 2323.9 1315.5 2325.8 1313.2 2327.8 1310.9 2329.7 1308.6 2331.6 1306.3 2333.5 1303.9 2335.4 1301.6 2337.3 1299.3 2339.2 1297.0 2341.2 1294.7 2343.1 1292.4 2345.0 1290.1 2346.9 1287.8 2348.8 1285.5 2350.7 1283.2 2352.7 1280.8 2354.6 1278.5 2356.5 1276.2 2358.4 1273.9 2360.3 1271.6 2362.2 1269.3 2364.1 1267.0 2366.1 1264.7 2368.0 1262.4 2369.9 1260.1 2371.8 1257.7 2373.7 1255.4 2375.6 1253.1 2377.5 1250.8 2379.5 1248.5 2381.4 1246.2 2383.3 1243.9 2385.2 1241.6 2387.1 1239.3 2389.0 1237.0 2390.9 1234.7 2392.9 1232.3 2394.8 1230.0 2396.7 1227.7 2398.6 1225.4 2400.5 1223.1 2402.4 1220.8 2404.3 1218.5 2406.3 1216.2 2408.2 1213.9 2410.1 1211.6 2412.0 1209.2 2413.9 1206.9 2415.8 1204.6 2417.7 1202.3 2419.7 1200.0 2421.6 1197.7 2423.5 1195.4 2425.4 1193.1 2427.3 1190.8 2429.2 1188.5 2431.1 1186.2 2433.1 1183.8 2435.0 1181.5 2436.9 1179.2 2438.8 1176.9 2440.7 1174.6 2442.6 1172.3 2444.6 1170.0 2446.5 1167.7 2448.4 1165.4 2450.3 1163.1 2452.2 1160.7 2454.1 1158.4 2456.0 1156.1 2458.0 1153.8 2459.9 1151.5 2461.8 1149.2 2463.7 1146.9 2465.6 1144.6 2467.5 1142.3 2469.4 1140.0 2471.4 1137.6 2473.3 1135.3 2475.2 1133.0 2477.1 1130.7 2479.0 1128.4 2480.9 1126.1 2482.8 1123.8 2484.8 1121.5 2486.7 1119.2 2488.6 1116.9 2490.5 1114.6 2492.4 1112.2 2494.3 1109.9 2496.2 1107.6 2498.2 1105.3 2500.1 1103.0 2502.0 1100.7 2503.9 1098.4 2505.8 1096.1 2507.7 1093.8 2509.6 1091.5 2511.6 1089.1 2513.5 1086.8 2515.4 1084.5 2517.3 1082.2 2519.2 1079.9 2521.1 1077.6 2523.0 1075.3 2525.0 1073.0 2526.9 1070.7 2528.8 1068.4 2530.7 1066.1 2532.6 1063.7 2534.5 1061.4 2536.5 1059.1 2538.4 1056.8 2540.3 1054.5 2542.2 1052.2 2544.1 1049.9 2546.0 1047.6 2547.9 1045.3 2549.9 1043.0 2551.8 1040.6 2553.7 1038.3 2555.6 1036.0 2557.5 1033.7 2559.4 1031.4 2561.3 1029.1 2563.3 1026.8 2565.2 1024.5 2567.1 1022.2 2569.0 1019.9 2570.9 1017.5 2572.8 1015.2 2574.7 1012.9 2576.7 1010.6 2578.6 1008.3 2580.5 1006.0 2582.4 1003.7 2584.3 1001.4 2586.2 999.1 2588.1 996.8 2590.1 994.4 2592.0 992.1 2593.9 989.8 2595.8 987.5 2597.7 985.2 2599.6 982.9 2601.5 980.6 2603.5 978.3 2605.4 976.0 2607.3 973.7 2609.2 971.3 2611.1 969.0 2613.0 966.7 2614.9 964.4 2616.9 962.1 2618.8 959.8 2620.7 957.5 2622.6 955.2 2624.5 952.9 2626.4 950.6 2628.3 948.2 2630.3 945.9 2632.2 943.6 2634.1 941.3 2636.0 939.0 2637.9 936.7 2639.8 934.4 2641.7 932.1 2643.6 929.8 2645.6 927.5 2647.5 925.1 2649.4 922.8 2651.3 920.5 2653.2 918.2 2655.1 915.9 2657.0 913.6 2659.0 911.3 2660.9 909.0 2662.8 906.7 2664.7 904.4 2666.6 902.0 2668.5 899.7 2670.4 897.4 2672.4 895.1 2674.3 892.8 2676.2 890.5 2678.1 888.2 2680.0 885.9 2681.9 883.6 2683.8 881.2 2685.8 878.9 2687.7 876.6 2689.6 874.3 2691.5 872.0 2693.4 869.7 2695.3 867.4 2697.2 865.1 2699.1 862.8 2701.1 860.5 2703.0 858.1 2704.9 855.8 2706.8 853.5 2708.7 851.2 2710.6 848.9 2712.5 846.6 2714.5 844.3 2716.4 842.0 2718.3 839.7 2720.2 837.3 2722.1 835.0 2724.0 832.7 2725.9 830.4 2727.8 828.1 2729.8 825.8 2731.7 823.5 2733.6 821.2 2735.5 818.9 2737.4 816.5 2739.3 814.2 2741.2 811.9 2743.1 809.6 2745.1 807.3 2747.0 805.0 2748.9 802.7 2750.8 800.4 2752.7 798.1 2754.6 795.7 2756.5 793.4 2758.4 791.1 2760.4 788.8 2762.3 786.5 2764.2 784.2 2766.1 781.9 2768.0 779.6 2769.9 777.2 2771.8 774.9 2773.7 772.6 2775.6 770.3 2777.6 768.0 2779.5 765.7 2781.4 763.4 2783.3 761.1 2785.2 758.7 2787.1 756.4 2789.0 754.1 2790.9 751.8 2792.8 749.5 2794.8 747.2 2796.7 744.9 2798.6 742.6 2800.5 740.2 2802.4 737.9 2804.3 735.6 2806.2 733.3 2808.1 731.0 2810.0 728.7 2811.9 726.4 2813.9 724.0 2815.8 721.7 2817.7 719.4 2819.6 717.1 2821.5 714.8 2823.4 712.5 2825.3 710.2 2827.2 707.8 2829.1 705.5 2831.0 703.2 2832.9 700.9 2834.8 698.6 2836.7 696.3 2838.7 693.9 2840.6 691.6 2842.5 689.3 2844.4 687.0 2846.3 684.7 2848.2 682.4 2850.1 680.0 2852.0 677.7 2853.9 675.4 2855.8 673.1 2857.7 670.8 2859.6 668.5 2861.5 666.1 2863.4 663.8 2865.3 661.5 2867.2 659.2 2869.1 656.9 2871.0 654.5 2872.9 652.2 2874.8 649.9 2876.7 647.6 2878.6 645.3 2880.5 642.9 2882.4 640.6 2884.3 638.3 2886.2 636.0 2888.1 633.6 2890.0 631.3 2891.9 629.0 2893.8 626.7 2895.7 624.3 2897.6 622.0 2899.5 619.7 2901.4 617.4 2903.3 615.0 2905.2 612.7 2907.1 610.4 2909.0 608.0 2910.9 605.7 2912.8 603.4 2914.6 601.0 2916.5 598.7 2918.4 596.4 2920.3 594.0 2922.2 591.7 2924.1 589.4 2925.9 587.0 2927.8 584.7 2929.7 582.3 2931.6 580.0 2933.4 577.7 2935.3 575.3 2937.2 573.0 2939.0 570.6 2940.9 568.2 2942.8 565.9 2944.6 563.5 2946.5 561.2 2948.3 558.8 2950.2 556.4 2952.0 554.1 2953.8 551.7 2955.7 549.3 2957.5 546.9 2959.3 544.5 2961.1 542.1 2962.9 539.7 2964.7 537.3 2966.5 534.9 2968.3 532.5 2970.1 530.0 2971.8 527.6 2973.5 525.1 2975.3 522.7 2977.0 520.2 2978.6 517.7 2980.3 515.2 2981.9 512.6 2983.5 510.1 2985.1 507.5 2986.6 504.8 2988.0 502.2 2989.4 499.5 2990.7 496.7 2991.9 493.9 2993.0 491.1 2994.0 488.2 2994.9 485.3 2995.6 482.4 2996.2 479.4 2996.7 476.4 2997.0 473.5 2997.3 470.5 2997.5 467.5 2997.7 464.5 2997.9 461.5 2998.2 458.5 2998.4 455.5 2998.8 452.5 2999.2 449.6 2999.7 446.7 3000.4 443.8 3001.1 440.9 3002.0 438.1 3003.0 435.3 3004.2 432.6 3005.5 430.0 3007.0 427.5 3008.7 425.1 3010.5 422.9 3012.5 420.8 3014.6"/>
</g>
<g fill="#A5A5A5">
<circle cx="1895.8" cy="1963.0" r="10.6"/><circle cx="1685.3" cy="2130.0" r="10.6"/><circle cx="1508.9" cy="2273.0" r="10.6"/><circle cx="1358.4" cy="2388.4" r="10.6"/><circle cx="1233.9" cy="2487.8" r="10.6"/><circle cx="1130.2" cy="2564.0" r="10.6"/><circle cx="1042.9" cy="2639.9" r="10.6"/><circle cx="968.3" cy="2695.0" r="10.6"/><circle cx="905.8" cy="2747.8" r="10.6"/><circle cx="856.0" cy="2785.0" r="10.6"/><circle cx="813.0" cy="2819.0" r="10.6"/><circle cx="779.0" cy="2849.0" r="10.6"/><circle cx="749.0" cy="2874.0" r="10.6"/><circle cx="730.0" cy="2887.0" r="10.6"/><circle cx="725.9" cy="2889.8" r="10.6"/><circle cx="721.7" cy="2892.6" r="10.6"/><circle cx="717.6" cy="2895.5" r="10.6"/><circle cx="713.5" cy="2898.3" r="10.6"/><circle cx="709.3" cy="2901.0" r="10.6"/><circle cx="705.0" cy="2903.6" r="10.6"/><circle cx="700.7" cy="2906.2" r="10.6"/><circle cx="696.4" cy="2908.7" r="10.6"/><circle cx="692.2" cy="2911.3" r="10.6"/><circle cx="688.0" cy="2914.1" r="10.6"/><circle cx="683.9" cy="2917.0" r="10.6"/><circle cx="679.8" cy="2919.8" r="10.6"/><circle cx="675.7" cy="2922.7" r="10.6"/><circle cx="671.6" cy="2925.6" r="10.6"/><circle cx="667.4" cy="2928.2" r="10.6"/><circle cx="663.1" cy="2930.8" r="10.6"/><circle cx="658.8" cy="2933.3" r="10.6"/><circle cx="654.5" cy="2935.9" r="10.6"/><circle cx="650.2" cy="2938.4" r="10.6"/><circle cx="645.8" cy="2940.9" r="10.6"/><circle cx="641.4" cy="2943.3" r="10.6"/><circle cx="637.1" cy="2945.7" r="10.6"/><circle cx="632.7" cy="2948.1" r="10.6"/><circle cx="628.5" cy="2950.8" r="10.6"/><circle cx="624.5" cy="2953.8" r="10.6"/><circle cx="620.4" cy="2956.7" r="10.6"/><circle cx="616.4" cy="2959.7" r="10.6"/><circle cx="612.5" cy="2962.8" r="10.6"/><circle cx="608.6" cy="2965.9" r="10.6"/><circle cx="604.7" cy="2969.1" r="10.6"/><circle cx="600.8" cy="2972.2" r="10.6"/><circle cx="596.6" cy="2974.9" r="10.6"/><circle cx="592.4" cy="2977.6" r="10.6"/><circle cx="588.1" cy="2980.3" r="10.6"/><circle cx="583.7" cy="2982.6" r="10.6"/><circle cx="579.3" cy="2984.9" r="10.6"/><circle cx="574.8" cy="2987.1" r="10.6"/><circle cx="570.3" cy="2989.2" r="10.6"/><circle cx="565.5" cy="2990.6" r="10.6"/><circle cx="560.7" cy="2992.0" r="10.6"/><circle cx="555.9" cy="2993.3" r="10.6"/><circle cx="551.0" cy="2994.7" r="10.6"/><circle cx="546.1" cy="2994.8" r="10.6"/><circle cx="541.1" cy="2994.6" r="10.6"/><circle cx="536.1" cy="2994.3" r="10.6"/><circle cx="531.1" cy="2994.1" r="10.6"/><circle cx="526.4" cy="2992.6" r="10.6"/><circle cx="521.8" cy="2990.7" r="10.6"/><circle cx="517.1" cy="2988.8" r="10.6"/><circle cx="512.5" cy="2986.8" r="10.6"/><circle cx="508.0" cy="2984.7" r="10.6"/><circle cx="503.5" cy="2982.6" r="10.6"/><circle cx="498.9" cy="2980.7" r="10.6"/><circle cx="494.1" cy="2979.3" r="10.6"/><circle cx="489.3" cy="2977.9" r="10.6"/><circle cx="484.4" cy="2977.0" r="10.6"/><circle cx="479.4" cy="2977.0" r="10.6"/><circle cx="474.4" cy="2977.0" r="10.6"/><circle cx="469.6" cy="2978.0" r="10.6"/><circle cx="465.0" cy="2979.9" r="10.6"/><circle cx="460.4" cy="2981.9" r="10.6"/><circle cx="456.4" cy="2984.9" r="10.6"/><circle cx="452.5" cy="2988.0" r="10.6"/><circle cx="448.7" cy="2991.3" r="10.6"/><circle cx="445.2" cy="2994.8" r="10.6"/><circle cx="441.6" cy="2998.4" r="10.6"/><circle cx="437.9" cy="3001.7" r="10.6"/><circle cx="434.0" cy="3004.8" r="10.6"/><circle cx="430.1" cy="3007.9" r="10.6"/><circle cx="426.0" cy="3010.7" r="10.6"/><circle cx="421.8" cy="3013.5" r="10.6"/><circle cx="421.0" cy="3014.0" r="10.6"/>
</g>
<g fill="#ED7D31">
<circle cx="1952.3" cy="1868.0" r="10.6"/><circle cx="1745.8" cy="2035.7" r="10.6"/><circle cx="1577.7" cy="2173.6" r="10.6"/><circle cx="1427.4" cy="2298.8" r="10.6"/><circle cx="1303.0" cy="2401.6" r="10.6"/><circle cx="1190.2" cy="2491.8" r="10.6"/><circle cx="1099.0" cy="2569.7" r="10.6"/><circle cx="1026.9" cy="2633.9" r="10.6"/><circle cx="958.1" cy="2685.5" r="10.6"/><circle cx="901.6" cy="2737.1" r="10.6"/><circle cx="854.4" cy="2776.0" r="10.6"/><circle cx="811.3" cy="2810.2" r="10.6"/><circle cx="777.0" cy="2840.2" r="10.6"/><circle cx="747.0" cy="2866.0" r="10.6"/><circle cx="721.0" cy="2887.5" r="10.6"/><circle cx="694.0" cy="2905.0" r="10.6"/><circle cx="691.2" cy="2909.1" r="10.6"/><circle cx="688.3" cy="2913.2" r="10.6"/><circle cx="685.5" cy="2917.3" r="10.6"/><circle cx="682.2" cy="2921.1" r="10.6"/><circle cx="678.8" cy="2924.8" r="10.6"/><circle cx="675.5" cy="2928.5" r="10.6"/><circle cx="671.5" cy="2931.6" r="10.6"/><circle cx="667.5" cy="2934.6" r="10.6"/><circle cx="663.5" cy="2937.6" r="10.6"/><circle cx="659.4" cy="2940.4" r="10.6"/><circle cx="655.2" cy="2943.2" r="10.6"/><circle cx="651.1" cy="2945.9" r="10.6"/><circle cx="647.0" cy="2948.8" r="10.6"/><circle cx="642.9" cy="2951.6" r="10.6"/><circle cx="638.7" cy="2954.5" r="10.6"/><circle cx="634.4" cy="2956.9" r="10.6"/><circle cx="630.0" cy="2959.3" r="10.6"/><circle cx="625.6" cy="2961.7" r="10.6"/><circle cx="621.1" cy="2963.8" r="10.6"/><circle cx="616.5" cy="2965.9" r="10.6"/><circle cx="612.0" cy="2968.0" r="10.6"/><circle cx="607.0" cy="2968.4" r="10.6"/><circle cx="602.0" cy="2968.8" r="10.6"/><circle cx="597.2" cy="2968.1" r="10.6"/><circle cx="592.4" cy="2966.7" r="10.6"/><circle cx="587.6" cy="2965.2" r="10.6"/><circle cx="582.8" cy="2963.7" r="10.6"/><circle cx="578.1" cy="2962.2" r="10.6"/><circle cx="573.3" cy="2960.7" r="10.6"/><circle cx="568.5" cy="2959.3" r="10.6"/><circle cx="563.7" cy="2958.0" r="10.6"/><circle cx="558.8" cy="2956.8" r="10.6"/><circle cx="556.0" cy="2956.0" r="10.6"/><circle cx="538.6" cy="2954.5" r="10.6"/><circle cx="518.5" cy="2955.5" r="10.6"/><circle cx="497.4" cy="2955.5" r="10.6"/><circle cx="476.3" cy="2964.5" r="10.6"/><circle cx="460.3" cy="2972.6" r="10.6"/><circle cx="456.0" cy="2976.8" r="10.6"/><circle cx="451.8" cy="2981.1" r="10.6"/><circle cx="448.2" cy="2985.9" r="10.6"/><circle cx="444.5" cy="2990.6" r="10.6"/><circle cx="440.8" cy="2995.3" r="10.6"/><circle cx="437.0" cy="3000.0" r="10.6"/><circle cx="432.5" cy="3004.0" r="10.6"/><circle cx="428.1" cy="3008.0" r="10.6"/><circle cx="423.5" cy="3011.9" r="10.6"/><circle cx="421.0" cy="3014.0" r="10.6"/>
</g>
<g fill="#5B9BD5">
<circle cx="2025.0" cy="1941.5" r="10.6"/><circle cx="1853.3" cy="2121.8" r="10.6"/><circle cx="1698.4" cy="2237.9" r="10.6"/><circle cx="1565.0" cy="2349.7" r="10.6"/><circle cx="1448.9" cy="2453.3" r="10.6"/><circle cx="1345.3" cy="2530.4" r="10.6"/><circle cx="1259.0" cy="2608.0" r="10.6"/><circle cx="1186.0" cy="2668.4" r="10.6"/><circle cx="1121.5" cy="2719.9" r="10.6"/><circle cx="1070.0" cy="2767.5" r="10.6"/><circle cx="1022.8" cy="2801.7" r="10.6"/><circle cx="988.3" cy="2836.0" r="10.6"/><circle cx="954.6" cy="2863.0" r="10.6"/><circle cx="928.0" cy="2883.3" r="10.6"/><circle cx="905.0" cy="2901.7" r="10.6"/><circle cx="882.5" cy="2917.7" r="10.6"/><circle cx="863.6" cy="2930.1" r="10.6"/><circle cx="846.8" cy="2938.5" r="10.6"/><circle cx="831.3" cy="2943.5" r="10.6"/><circle cx="813.9" cy="2947.1" r="10.6"/><circle cx="795.0" cy="2948.0" r="10.6"/><circle cx="777.8" cy="2939.5" r="10.6"/><circle cx="760.2" cy="2930.5" r="10.6"/><circle cx="712.6" cy="2909.4" r="10.6"/><circle cx="678.2" cy="2896.0" r="10.6"/><circle cx="635.0" cy="2891.0" r="10.6"/><circle cx="591.9" cy="2892.2" r="10.6"/><circle cx="548.7" cy="2901.2" r="10.6"/><circle cx="510.5" cy="2913.3" r="10.6"/><circle cx="484.4" cy="2930.4" r="10.6"/><circle cx="466.3" cy="2949.4" r="10.6"/><circle cx="456.2" cy="2964.5" r="10.6"/><circle cx="450.2" cy="2976.6" r="10.6"/><circle cx="440.0" cy="2984.0" r="10.6"/><circle cx="432.0" cy="2992.0" r="10.6"/><circle cx="425.0" cy="3000.0" r="10.6"/><circle cx="420.0" cy="3008.0" r="10.6"/>
</g>
<g fill="#FF0000">
<circle cx="1793.2" cy="2311.2" r="10.6"/><circle cx="1668.3" cy="2393.0" r="10.6"/><circle cx="1577.8" cy="2491.8" r="10.6"/><circle cx="1478.7" cy="2560.7" r="10.6"/><circle cx="1400.5" cy="2624.6" r="10.6"/><circle cx="1336.6" cy="2685.6" r="10.6"/><circle cx="1272.0" cy="2733.0" r="10.6"/><circle cx="1224.6" cy="2775.9" r="10.6"/><circle cx="1181.8" cy="2810.2" r="10.6"/><circle cx="1147.4" cy="2844.7" r="10.6"/><circle cx="1116.8" cy="2870.5" r="10.6"/><circle cx="1090.8" cy="2891.8" r="10.6"/><circle cx="1070.0" cy="2909.8" r="10.6"/><circle cx="1048.6" cy="2926.3" r="10.6"/><circle cx="1030.6" cy="2937.4" r="10.6"/><circle cx="1016.8" cy="2947.0" r="10.6"/><circle cx="1004.4" cy="2953.0" r="10.6"/><circle cx="996.0" cy="2961.5" r="10.6"/><circle cx="985.0" cy="2962.0" r="10.6"/><circle cx="974.0" cy="2961.0" r="10.6"/><circle cx="965.0" cy="2959.5" r="10.6"/><circle cx="956.0" cy="2955.0" r="10.6"/><circle cx="949.0" cy="2943.0" r="10.6"/><circle cx="936.7" cy="2931.2" r="10.6"/><circle cx="919.0" cy="2917.8" r="10.6"/><circle cx="893.0" cy="2896.0" r="10.6"/><circle cx="859.1" cy="2870.0" r="10.6"/><circle cx="811.5" cy="2849.3" r="10.6"/><circle cx="751.6" cy="2835.7" r="10.6"/><circle cx="682.4" cy="2831.6" r="10.6"/><circle cx="618.0" cy="2840.2" r="10.6"/><circle cx="562.0" cy="2857.2" r="10.6"/><circle cx="519.3" cy="2883.2" r="10.6"/><circle cx="484.6" cy="2909.1" r="10.6"/><circle cx="463.2" cy="2934.4" r="10.6"/><circle cx="450.3" cy="2951.0" r="10.6"/><circle cx="442.2" cy="2964.5" r="10.6"/><circle cx="436.1" cy="2976.6" r="10.6"/><circle cx="430.1" cy="2988.6" r="10.6"/><circle cx="424.1" cy="3000.7" r="10.6"/><circle cx="418.0" cy="3008.7" r="10.6"/>
</g>
<g fill="#00B050">
<circle cx="1991.0" cy="1790.5" r="10.6"/><circle cx="1775.9" cy="1975.4" r="10.6"/><circle cx="1582.0" cy="2126.4" r="10.6"/><circle cx="1418.7" cy="2255.4" r="10.6"/><circle cx="1276.3" cy="2367.5" r="10.6"/><circle cx="1156.3" cy="2466.1" r="10.6"/><circle cx="1052.7" cy="2549.5" r="10.6"/><circle cx="970.9" cy="2616.5" r="10.6"/><circle cx="897.6" cy="2677.2" r="10.6"/><circle cx="833.7" cy="2728.6" r="10.6"/><circle cx="781.3" cy="2771.5" r="10.6"/><circle cx="734.2" cy="2810.2" r="10.6"/><circle cx="695.8" cy="2840.5" r="10.6"/><circle cx="665.4" cy="2866.0" r="10.6"/><circle cx="635.1" cy="2892.0" r="10.6"/><circle cx="614.0" cy="2909.2" r="10.6"/><circle cx="591.9" cy="2926.3" r="10.6"/><circle cx="574.8" cy="2939.4" r="10.6"/><circle cx="558.0" cy="2950.0" r="10.6"/><circle cx="554.7" cy="2952.2" r="10.6"/><circle cx="551.3" cy="2954.4" r="10.6"/><circle cx="548.0" cy="2956.7" r="10.6"/><circle cx="544.8" cy="2959.0" r="10.6"/><circle cx="541.8" cy="2961.7" r="10.6"/><circle cx="538.8" cy="2964.3" r="10.6"/><circle cx="535.6" cy="2966.7" r="10.6"/><circle cx="532.4" cy="2969.2" r="10.6"/><circle cx="529.2" cy="2971.6" r="10.6"/><circle cx="526.1" cy="2974.0" r="10.6"/><circle cx="522.9" cy="2976.4" r="10.6"/><circle cx="519.7" cy="2978.8" r="10.6"/><circle cx="516.4" cy="2981.2" r="10.6"/><circle cx="513.2" cy="2983.6" r="10.6"/><circle cx="510.0" cy="2986.0" r="10.6"/><circle cx="506.8" cy="2988.4" r="10.6"/><circle cx="503.3" cy="2990.2" r="10.6"/><circle cx="499.8" cy="2992.1" r="10.6"/><circle cx="496.2" cy="2993.9" r="10.6"/><circle cx="492.6" cy="2995.6" r="10.6"/><circle cx="488.8" cy="2996.7" r="10.6"/><circle cx="484.8" cy="2996.8" r="10.6"/><circle cx="480.8" cy="2996.9" r="10.6"/><circle cx="476.8" cy="2997.0" r="10.6"/><circle cx="472.8" cy="2997.0" r="10.6"/><circle cx="468.8" cy="2997.0" r="10.6"/><circle cx="464.8" cy="2997.0" r="10.6"/><circle cx="460.8" cy="2997.0" r="10.6"/><circle cx="456.9" cy="2997.4" r="10.6"/><circle cx="452.9" cy="2997.9" r="10.6"/><circle cx="448.9" cy="2998.4" r="10.6"/><circle cx="445.0" cy="2999.0" r="10.6"/><circle cx="441.1" cy="3000.1" r="10.6"/><circle cx="437.3" cy="3001.1" r="10.6"/><circle cx="433.5" cy="3002.3" r="10.6"/><circle cx="430.1" cy="3004.4" r="10.6"/><circle cx="426.7" cy="3006.6" r="10.6"/><circle cx="424.2" cy="3009.6" r="10.6"/><circle cx="422.5" cy="3012.0" r="10.6"/>
</g>
<g stroke="#000" stroke-width="3.4" fill="none" stroke-linecap="square">
<path d="M334 1564.5 V3021.5 H2098"/>
<path d="M334 1564.5 h17.5 M334 1807.3 h17.5 M334 2050.2 h17.5 M334 2293.0 h17.5 M334 2535.8 h17.5 M334 2778.7 h17.5 M628.0 3021.5 v-17.5 M922.0 3021.5 v-17.5 M1216.0 3021.5 v-17.5 M1510.0 3021.5 v-17.5 M1804.0 3021.5 v-17.5 M2098.0 3021.5 v-17.5 " stroke-linecap="butt"/>
</g>
<g font-size="61" text-anchor="end">
<text x="281.5" y="1584.0">1500</text>
<text x="281.5" y="1826.8">1250</text>
<text x="281.5" y="2069.7">1000</text>
<text x="281.5" y="2312.5">750</text>
<text x="281.5" y="2555.3">500</text>
<text x="281.5" y="2798.2">250</text>
<text x="281.5" y="3041.0">0</text>
</g>
<g font-size="61" text-anchor="middle">
<text x="334.0" y="3117">0</text>
<text x="628.0" y="3117">250</text>
<text x="922.0" y="3117">500</text>
<text x="1216.0" y="3117">750</text>
<text x="1510.0" y="3117">1000</text>
<text x="1804.0" y="3117">1250</text>
<text x="2098.0" y="3117">1500</text>
</g>
<text x="1213.5" y="3198" font-size="62" font-weight="bold" letter-spacing="-0.8" text-anchor="middle">Z' (Ω)</text>
<text transform="translate(121.5 2295) rotate(-90)" font-size="62" font-weight="bold" letter-spacing="1.4" text-anchor="middle">-Z'' (Ω)</text>
<text x="52" y="1530" font-size="104" font-weight="bold">b)</text>
<circle cx="631" cy="1611.6" r="10.6" fill="#A5A5A5"/>
<text x="660.5" y="1635.6" font-size="59" letter-spacing="0.8">GCE</text>
<circle cx="631" cy="1693.6" r="10.6" fill="#ED7D31"/>
<text x="660.5" y="1717.6" font-size="59" letter-spacing="0.8">GCE-EDC/NHS</text>
<circle cx="631" cy="1771.3" r="10.6" fill="#5B9BD5"/>
<text x="660.5" y="1795.3" font-size="59" letter-spacing="0.8">GCE-CH</text>
<circle cx="631" cy="1852.7" r="10.6" fill="#FF0000"/>
<text x="660.5" y="1876.7" font-size="59" letter-spacing="0.8">GCE-EDC/NHS-CH</text>
<circle cx="631" cy="1930.4" r="10.6" fill="#00B050"/>
<text x="660.5" y="1954.4" font-size="59" letter-spacing="0.8">GCE-EDC/NHS-CH-GONRs</text>
<g stroke="#1a1a1a" stroke-width="3.6" fill="none" stroke-linecap="butt">
<path d="M1470 2839.4 H1532.7 M1621.5 2839.4 H1685.3 M1685.3 2767.7 V2915 M1685.3 2767.7 H1836.1 M1865.6 2767.7 H2020.8 V2915 H1960 M1898.5 2915 H1837 M1749 2915 H1685.3 M2020.8 2834.5 H2084.6"/>
<rect x="1532.7" y="2818.3" width="88.8" height="42.6"/>
<rect x="1749" y="2894" width="88" height="43"/>
<path d="M1836.1 2734.7 V2797.1 M1865.6 2734.7 V2797.1"/>
</g>
<g font-weight="bold">
<text x="1556" y="2804" font-size="47">R<tspan font-size="33" dy="6">S</tspan></text>
<text x="1821" y="2708" font-size="47">C<tspan font-size="33" dy="6">dl</tspan></text>
<text x="1769" y="2877" font-size="47">R<tspan font-size="33" dy="6">ct</tspan></text>
<text x="1902" y="2875" font-size="47">Z<tspan font-size="33" dy="6">W</tspan></text>
<text x="1929" y="2937" font-size="62" text-anchor="middle" style="font-family:'Liberation Serif',serif">W</text>
</g>
</svg></body></html>
